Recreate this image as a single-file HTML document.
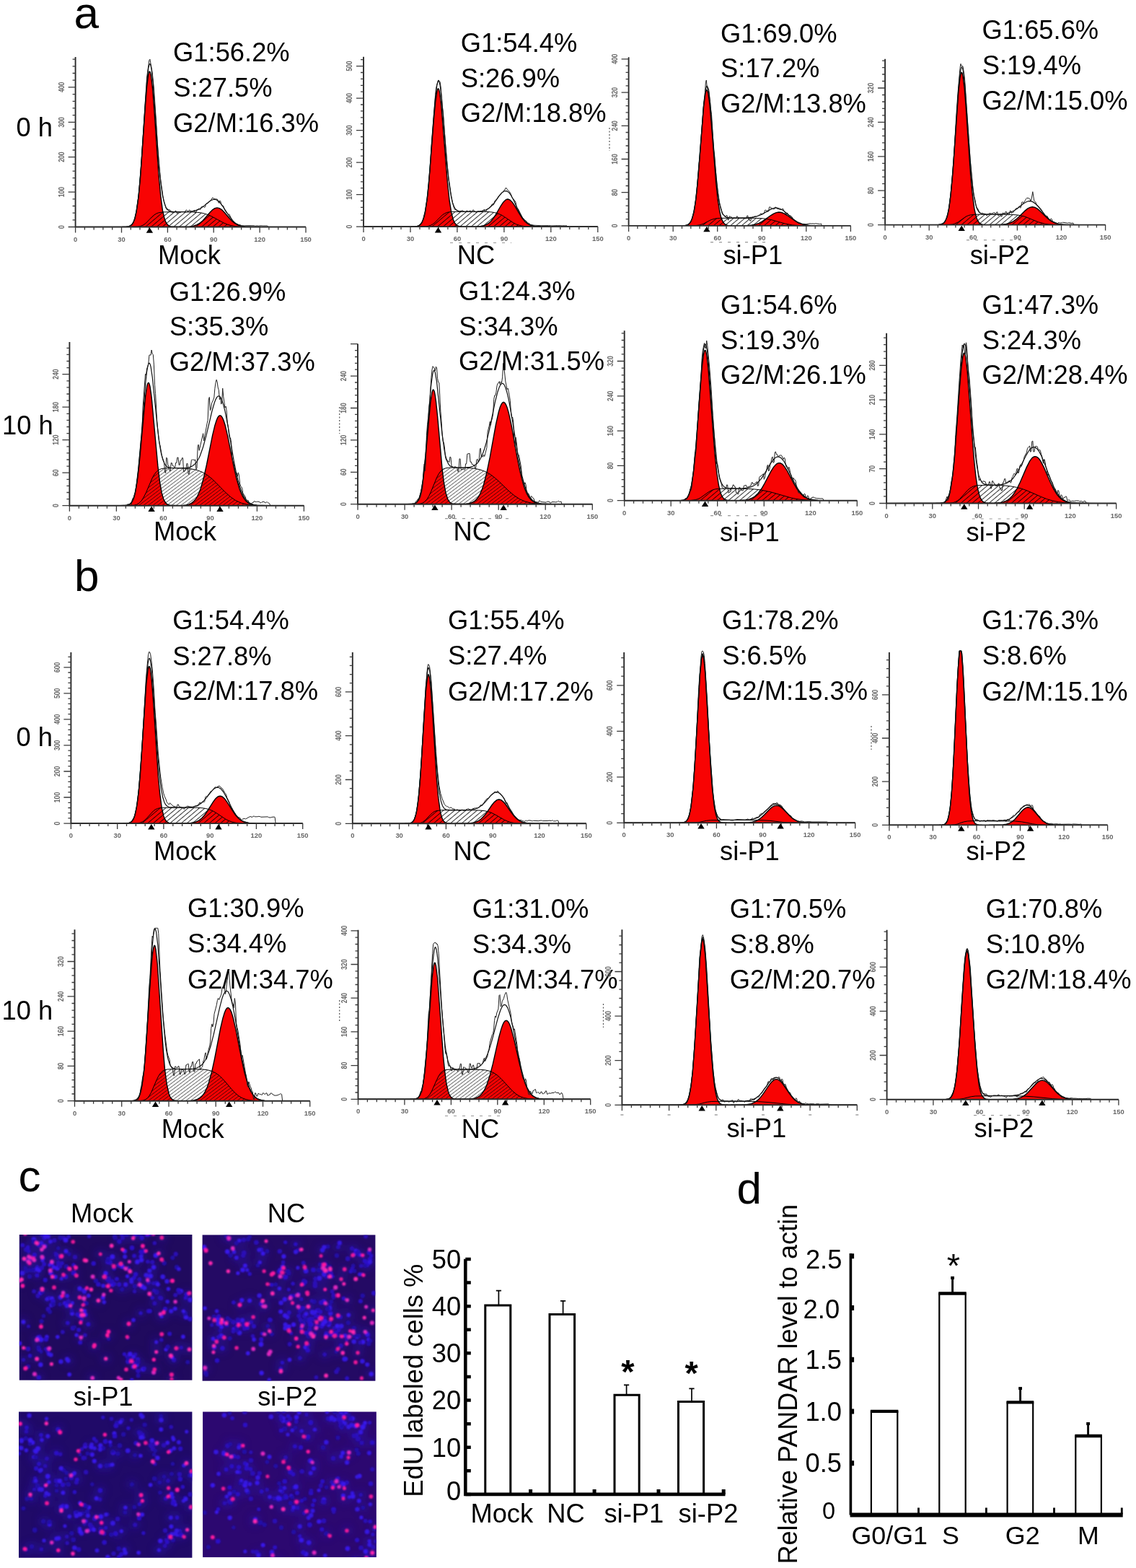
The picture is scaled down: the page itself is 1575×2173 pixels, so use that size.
<!DOCTYPE html>
<html><head><meta charset="utf-8"><title>Figure</title><style>
html,body{margin:0;padding:0;background:#fff;}
svg{display:block;}
text{font-family:"Liberation Sans", Arial, sans-serif;}
.t{font-size:36.35px;fill:#000;}
.L{font-size:62px;fill:#000;}
.tl{font-size:9.4px;fill:#666;font-weight:bold;}
.tly{font-size:8.6px;fill:#666;font-weight:bold;}
.dsh{fill:none;stroke:#999;stroke-width:1.2;stroke-dasharray:4 8;}
.dsh2{fill:none;stroke:#888;stroke-width:1.2;}
.art{fill:none;stroke:#555;stroke-width:1.2;stroke-dasharray:2 2.5;}
.n0{font-size:32.5px;fill:#000;}
.nd{font-size:35.8px;fill:#000;}
.nd2{font-size:36.1px;fill:#000;}
.ast{font-size:47px;fill:#000;}
.astb{font-size:47px;font-weight:bold;fill:#000;}
.ax{fill:none;stroke:#2a2a2a;stroke-width:1.9;}
.tk{fill:none;stroke:#3a3a3a;stroke-width:1.3;}
.pk{fill:none;stroke:#000;stroke-width:1.4;}
.sl{fill:none;stroke:#000;stroke-width:1;}
.b1{fill:#2c10c8}.b2{fill:#3414e0}.b3{fill:#2a0cb8}.b4{fill:#3818ec}.b5{fill:#240ca8}
.p1{fill:#ff14a0}.p2{fill:#ff28b0}.p3{fill:#f01498}.p4{fill:#e028c0}
.sum{fill:none;stroke:#111;stroke-width:1.2;}
.raw{fill:none;stroke:#222;stroke-width:1;}
.bar{fill:#fff;stroke:#000;stroke-width:3;}
.eb{fill:none;stroke:#000;stroke-width:1.7;}
.axb{fill:none;stroke:#000;stroke-width:4.6;}
.bard{fill:#fff;stroke:#000;stroke-width:2.2;}
.bartop{fill:none;stroke:#000;stroke-width:4.4;}
.ebd{fill:none;stroke:#000;stroke-width:2.9;}
.axd{fill:none;stroke:#000;stroke-width:3.6;}
.axdx{fill:none;stroke:#000;stroke-width:6;}
</style></head>
<body>
<svg width="1575" height="2173" viewBox="0 0 1575 2173">
<defs>
<pattern id="hA" patternUnits="userSpaceOnUse" width="8" height="5" patternTransform="rotate(-40)">
<rect width="8" height="1" fill="#000" fill-opacity="0.8"/>
</pattern>
<pattern id="hB" patternUnits="userSpaceOnUse" width="8" height="3.9" patternTransform="rotate(-37)">
<rect width="8" height="0.75" fill="#000" fill-opacity="0.75"/>
</pattern>
<filter id="blur" x="-5%" y="-5%" width="110%" height="110%"><feGaussianBlur stdDeviation="1.1"/></filter>
<filter id="haze" x="-5%" y="-5%" width="110%" height="110%"><feGaussianBlur stdDeviation="6"/></filter>
</defs>
<rect width="1575" height="2173" fill="#fff"/>
<path d="M845 177V209" class="art"/><path d="M470.7 564V601" class="art"/><path d="M1208 1006V1039" class="art"/><path d="M836.5 1391V1424" class="art"/><path d="M470.7 1386V1415" class="art"/>
<path d="M624 336.5H709" class="dsh"/><path d="M985 335.7H1066" class="dsh"/><path d="M1340 332.7H1421" class="dsh"/><path d="M617 718.7H709" class="dsh"/><path d="M985 714.7H1067.6" class="dsh"/><path d="M1347.7 719H1429" class="dsh"/><path d="M617 1546.5H700" class="dsh"/><path d="M1350 1545.7H1431.5" class="dsh"/>
<path d="M860.4 1545h4" class="dsh2"/><path d="M925.6 1545h4" class="dsh2"/><path d="M990.8 1545h4" class="dsh2"/><path d="M1056 1545h4" class="dsh2"/><path d="M1121.2 1545h4" class="dsh2"/><path d="M1186.3 1545h4" class="dsh2"/>
<clipPath id="c0"><rect x="104.6" y="76" width="321.4" height="238.5"/></clipPath>
<g clip-path="url(#c0)">
<path d="M169.5 314.5L174.9 314.4L178.1 313.9L180.7 312.9L182.9 311.2L185 307.9L186.6 303.8L189.2 292.6L191.9 273.8L194.6 245.9L201.5 145.9L203.6 119.9L205.7 103.4L206.8 99.7L207.3 99.1L207.9 99.4L208.4 100.5L209.5 105.1L211.6 123.3L213.7 150.4L220.1 243.3L222.8 271.9L225.4 291.4L228.1 303.1L229.7 307.4L231.8 310.9L234 312.8L236.6 313.9L239.8 314.3L245.7 314.5Z" fill="#f80303"/>
<path d="M240.9 314.5L255.3 314.4L262.7 314.1L268 313.2L272.8 311.6L277.1 309.2L280.8 306.1L291.4 294L294.6 290.8L297.8 288.7L301 287.9L304.2 288.6L307.4 290.6L310.6 293.8L318.1 302.5L321.8 306.4L325.5 309.4L329.8 311.8L334.6 313.3L339.9 314.1L361.2 314.5Z" fill="#f80303"/>
<path d="M177 314.5L190.3 314.2L194 313.7L197.2 312.6L199.9 311.1L202.5 309.1L210.5 300.8L213.7 298L216.4 296.2L219.6 294.9L226 293.9L240.9 293.7L266.4 293.9L273.3 294.3L278.7 294.9L284.5 296.3L289.9 298.2L295.2 300.8L310.1 308.9L315.4 311.1L320.2 312.5L326.1 313.6L333 314.2L359.1 314.5Z" fill="url(#hA)"/>
<path d="M177 314.5L190.3 314.2L194 313.7L197.2 312.6L199.9 311.1L202.5 309.1L210.5 300.8L213.7 298L216.4 296.2L219.6 294.9L226 293.9L240.9 293.7L266.4 293.9L273.3 294.3L278.7 294.9L284.5 296.3L289.9 298.2L295.2 300.8L310.1 308.9L315.4 311.1L320.2 312.5L326.1 313.6L333 314.2L359.1 314.5" class="sl"/>
<path d="M169.5 314.5L174.9 314.4L178.1 313.9L180.7 312.9L182.9 311.2L185 307.9L186.6 303.8L189.2 292.6L191.9 273.8L194.6 245.9L201.5 145.9L203.6 119.9L205.7 103.4L206.8 99.7L207.3 99.1L207.9 99.4L208.4 100.5L209.5 105.1L211.6 123.3L213.7 150.4L220.1 243.3L222.8 271.9L225.4 291.4L228.1 303.1L229.7 307.4L231.8 310.9L234 312.8L236.6 313.9L239.8 314.3L245.7 314.5" class="pk"/>
<path d="M240.9 314.5L255.3 314.4L262.7 314.1L268 313.2L272.8 311.6L277.1 309.2L280.8 306.1L291.4 294L294.6 290.8L297.8 288.7L301 287.9L304.2 288.6L307.4 290.6L310.6 293.8L318.1 302.5L321.8 306.4L325.5 309.4L329.8 311.8L334.6 313.3L339.9 314.1L361.2 314.5" class="pk"/>
<path d="M104.6 314.5L173.8 314.4L178.1 313.9L180.2 313.1L182.3 311.3L183.4 311.1L184.4 309.7L186.6 304L188.7 295.4L189.8 286.1L191.9 272.6L193 262.2L196.2 220.5L203.6 107L206.8 83.7L207.9 82.1L211.1 100.4L213.2 120.1L216.4 166.1L218.5 203.2L220.6 230.6L222.8 250.4L226 272.6L227 277.5L230.2 288.5L231.3 290.3L232.4 289.5L233.4 290.4L234.5 290.4L235.6 290.9L236.6 293.2L237.7 293.4L238.7 294.9L239.8 295L240.9 294.2L241.9 294.2L243 292.2L244.1 292.3L245.1 295.5L246.2 295.5L247.3 293.4L248.3 293.4L249.4 294.5L250.5 294.5L251.5 293.4L254.7 293.5L256.8 293.2L257.9 291.2L259 291.2L260 292.5L261.1 292.5L262.2 291.2L263.2 291.1L264.3 292.9L265.4 292.8L266.4 293.1L267.5 292.9L268.6 291.6L269.6 291.4L270.7 295.3L271.8 295L272.8 290.9L276 289.2L277.1 290.5L278.1 289.9L279.2 286.9L280.3 286.1L281.3 286.7L282.4 285.9L283.5 287.7L284.5 286.8L285.6 282.7L286.7 281.8L287.7 282L288.8 281.1L289.9 279.6L292 277.6L293 277L294.1 274.4L295.2 274L296.2 275.5L297.3 275.5L299.4 276L300.5 275.8L301.6 276.4L302.6 280.4L303.7 281.4L304.8 278L305.8 279.2L306.9 283.9L308 285.4L309 284.8L310.1 286.5L311.1 290.3L314.3 295.2L315.4 296.1L316.5 297.8L317.5 296.6L318.6 298.2L319.7 301.1L320.7 302.5L321.8 305.2L325 308.1L326.1 309.7L327.1 310.4L328.2 310.3L331.4 311.9L332.4 311.5L333.5 311.8L334.6 312.8L335.6 312.9L336.7 312.7L338.8 312.9L343.1 312.7L352.7 312.8L353.7 313.2L356.9 312.9L358 313.2L362.2 312.8L364.4 313L370.8 313L371.8 314.5L424 314.5" class="raw"/>
<path d="M104.6 314.5L175.4 314.3L178.6 313.8L181.3 312.6L183.4 310.5L185 307.8L187.1 302L189.2 292.4L190.8 282L192.4 268.4L195.6 231L201.5 141.4L203.6 113.4L205.7 94.8L206.8 90L207.3 88.8L207.9 88.5L208.4 89L208.9 90.4L210 95.5L212.1 114.2L219.6 216.8L221.7 241.4L223.3 256.1L225.4 270.8L227.6 280.6L229.7 286.6L230.8 288.6L232.4 290.7L234 292L235.6 292.8L240.9 293.6L259.5 293.5L264.8 293.1L269.1 292.4L273.9 290.9L278.1 288.7L281.9 286.1L289.3 279.9L292.5 277.8L295.7 276.5L298.4 276.5L300 276.9L302.1 278.1L305.8 281.7L309.5 286.8L318.1 300L322.9 305.9L325.5 308.4L328.2 310.4L333.5 312.8L339.4 314L347.9 314.4L424 314.5" class="sum"/>
</g>
<path d="M104.6 79V314.5H424" class="ax"/>
<path d="M104.6 314.5v8M117.4 314.5v4M130.2 314.5v4M142.9 314.5v4M155.7 314.5v4M168.5 314.5v8M181.3 314.5v4M194 314.5v4M206.8 314.5v4M219.6 314.5v4M232.4 314.5v8M245.1 314.5v4M257.9 314.5v4M270.7 314.5v4M283.5 314.5v4M296.2 314.5v8M309 314.5v4M321.8 314.5v4M334.6 314.5v4M347.3 314.5v4M360.1 314.5v8M372.9 314.5v4M385.7 314.5v4M398.4 314.5v4M411.2 314.5v4M424 314.5v8M104.6 314.5h-10M104.6 304.8h-4M104.6 295.1h-4M104.6 285.5h-4M104.6 275.8h-4M104.6 266.1h-10M104.6 256.4h-4M104.6 246.7h-4M104.6 237.1h-4M104.6 227.4h-4M104.6 217.7h-10M104.6 208h-4M104.6 198.3h-4M104.6 188.7h-4M104.6 179h-4M104.6 169.3h-10M104.6 159.6h-4M104.6 149.9h-4M104.6 140.3h-4M104.6 130.6h-4M104.6 120.9h-10M104.6 111.2h-4M104.6 101.5h-4M104.6 91.9h-4M104.6 82.2h-4" class="tk"/>
<text x="104.6" y="334.5" class="tl" text-anchor="middle">0</text>
<text x="168.5" y="334.5" class="tl" text-anchor="middle">30</text>
<text x="232.4" y="334.5" class="tl" text-anchor="middle">60</text>
<text x="296.2" y="334.5" class="tl" text-anchor="middle">90</text>
<text x="360.1" y="334.5" class="tl" text-anchor="middle">120</text>
<text x="424" y="334.5" class="tl" text-anchor="middle">150</text>
<text transform="translate(88.8 314.5) rotate(-90) scale(1 1.3)" class="tly" text-anchor="middle">0</text>
<text transform="translate(88.8 266.1) rotate(-90) scale(1 1.3)" class="tly" text-anchor="middle">100</text>
<text transform="translate(88.8 217.7) rotate(-90) scale(1 1.3)" class="tly" text-anchor="middle">200</text>
<text transform="translate(88.8 169.3) rotate(-90) scale(1 1.3)" class="tly" text-anchor="middle">300</text>
<text transform="translate(88.8 120.9) rotate(-90) scale(1 1.3)" class="tly" text-anchor="middle">400</text>
<path d="M207.4 315.3l4.7 7.5h-9.4z" fill="#000"/>
<text x="240.1" y="84.9" class="t">G1:56.2%</text>
<text x="240.2" y="133.8" class="t">S:27.5%</text>
<text x="240.1" y="182.7" class="t">G2/M:16.3%</text>
<text x="219.1" y="366.2" class="t">Mock</text>
<clipPath id="c1"><rect x="504" y="75.7" width="326.8" height="238.4"/></clipPath>
<g clip-path="url(#c1)">
<path d="M569.5 314.1L575.5 313.9L578.7 313.4L580.9 312.6L583 310.9L585.2 307.7L586.8 303.8L589.5 293.1L592.2 275.2L594.4 254.9L601.4 165.3L603.6 141.6L605.8 126.6L606.9 123.3L607.4 122.8L607.9 123L608.5 124L609.6 128.2L611.7 144.7L620.4 252.6L623.1 277.8L625.8 294.7L628.5 304.7L630.1 308.3L632.3 311.2L634.5 312.8L636.6 313.5L639.9 314L645.8 314.1Z" fill="#f80303"/>
<path d="M645.8 314.1L659.4 314L666.4 313.5L671.8 312.4L676.7 310L680.5 306.8L684.3 302.2L687.5 297.2L694.5 285L697.8 280.2L701 277L702.7 276.2L704.3 276L707 277L710.2 280.1L713.5 284.8L720.5 297L723.8 302L727.6 306.7L731.4 309.9L736.2 312.3L741.6 313.5L748.7 314L762.2 314.1Z" fill="#f80303"/>
<path d="M577.1 314.1L590.6 313.8L594.4 313.2L597.7 312L600.4 310.4L603.1 308.2L613.3 298L616.6 295.8L619.8 294.4L623.1 293.8L626.9 293.4L646.4 293.3L674.5 293.4L680.5 293.8L685.3 294.5L690.2 295.8L695.1 297.9L699.4 300.5L711.3 308.5L715.7 310.8L719.5 312.1L724.3 313.2L729.7 313.8L750.8 314.1Z" fill="url(#hA)"/>
<path d="M577.1 314.1L590.6 313.8L594.4 313.2L597.7 312L600.4 310.4L603.1 308.2L613.3 298L616.6 295.8L619.8 294.4L623.1 293.8L626.9 293.4L646.4 293.3L674.5 293.4L680.5 293.8L685.3 294.5L690.2 295.8L695.1 297.9L699.4 300.5L711.3 308.5L715.7 310.8L719.5 312.1L724.3 313.2L729.7 313.8L750.8 314.1" class="sl"/>
<path d="M569.5 314.1L574.9 314L578.2 313.6L580.9 312.6L583 310.9L585.2 307.7L586.8 303.8L589.5 293.1L592.2 275.2L594.4 254.9L601.4 165.3L603.6 141.6L605.8 126.6L606.9 123.3L607.4 122.8L607.9 123L608.5 124L609.6 128.2L611.7 144.7L620.4 252.6L623.1 277.8L625.8 294.7L628.5 304.7L630.1 308.3L632.3 311.2L634.5 312.8L636.6 313.5L639.9 314L645.8 314.1" class="pk"/>
<path d="M645.8 314.1L659.4 314L666.4 313.5L671.8 312.4L676.7 310L680.5 306.8L684.3 302.2L687.5 297.2L694.5 285L697.8 280.2L701 277L702.7 276.2L704.3 276L707 277L710.2 280.1L713.5 284.8L720.5 297L723.8 302L727.6 306.7L731.4 309.9L736.2 312.3L741.6 313.5L748.7 314L762.2 314.1" class="pk"/>
<path d="M504 314.1L574.4 314.1L578.7 313.5L580.9 312.7L583 310.1L584.1 310.2L585.2 308.6L587.4 302L588.4 300.1L589.5 295.1L590.6 285.8L592.8 271.7L596 236.3L598.2 199.5L603.6 131.6L604.7 121.5L606.9 113.4L607.9 110.9L610.1 113.6L611.2 121L612.3 136.6L613.3 148.2L614.4 155.9L617.7 202.4L622 249.3L623.1 253.7L625.3 269.2L627.4 280.9L629.6 288.6L630.7 290.6L631.8 290.6L632.8 291.6L633.9 291.5L635 292L636.1 293.6L637.2 293.8L638.3 292.4L639.3 292.5L640.4 291.7L641.5 291.8L642.6 293.1L643.7 293.1L644.7 293.6L645.8 293.6L646.9 292.1L648 292.1L649.1 293.4L650.2 293.4L651.2 292L652.3 292L653.4 293.4L654.5 293.4L655.6 291L656.7 291L657.7 293.3L658.8 293.3L659.9 294.3L661 294.2L662.1 292.7L663.2 292.7L664.2 293.5L667.5 293.5L668.6 292.3L669.6 292.1L670.7 290.7L671.8 290.4L672.9 293.7L674 293.3L675.1 290.1L677.2 288.9L680.5 286.3L681.6 283.9L682.6 282.7L683.7 284.3L684.8 283L685.9 278.8L687 277.3L688.1 277L691.3 271.9L695.6 267.1L697.8 265.6L698.9 263.5L700 263.2L701 260.5L702.1 260.6L703.2 262.7L704.3 263.4L706.5 265.9L708.6 269.5L709.7 272.9L710.8 274.9L711.9 275.6L713 277.9L714 278.3L715.1 280.7L716.2 287.6L717.3 290L718.4 289.6L723.8 300.6L725.9 303.3L728.1 305.4L729.2 305.8L731.4 308.6L734.6 310.3L735.7 311.3L740 312.2L750.8 312.7L760.6 312.6L764.9 312.9L773.6 312.6L780.1 312.9L781.2 312.6L783.3 312.9L785.5 312.6L786.6 314.1L828.8 314.1" class="raw"/>
<path d="M504 314.1L575.5 313.9L578.7 313.4L581.4 312.3L583.6 310.3L585.2 307.7L587.4 302L589 295.5L591.2 283L592.8 270L596 234.9L601.4 160.8L603.6 135.3L605.8 118.1L606.9 113.6L607.4 112.5L607.9 112.1L608.5 112.6L609 113.7L610.1 118.2L612.3 135L619.8 226.9L623.1 257.4L625.3 271.4L627.4 280.7L629.6 286.5L630.7 288.5L632.3 290.5L633.9 291.7L636.1 292.6L642.6 293.3L663.2 293.1L668.6 292.4L672.9 291.3L677.8 288.7L682.1 284.8L685.9 280.3L692.9 270.5L696.2 266.8L698.9 265L701.6 264.6L703.2 265.1L704.8 266.2L706.5 267.9L708.6 271L711.9 277L720.5 295.4L725.4 303.5L727.6 306.2L730.3 308.9L733 310.8L735.7 312.1L741.6 313.5L749.8 314L828.8 314.1" class="sum"/>
</g>
<path d="M504 78.7V314.1H828.8" class="ax"/>
<path d="M504 314.1v8M517 314.1v4M530 314.1v4M543 314.1v4M556 314.1v4M569 314.1v8M582 314.1v4M594.9 314.1v4M607.9 314.1v4M620.9 314.1v4M633.9 314.1v8M646.9 314.1v4M659.9 314.1v4M672.9 314.1v4M685.9 314.1v4M698.9 314.1v8M711.9 314.1v4M724.9 314.1v4M737.9 314.1v4M750.8 314.1v4M763.8 314.1v8M776.8 314.1v4M789.8 314.1v4M802.8 314.1v4M815.8 314.1v4M828.8 314.1v8M504 314.1h-10M504 305.2h-4M504 296.3h-4M504 287.4h-4M504 278.5h-4M504 269.6h-10M504 260.7h-4M504 251.8h-4M504 242.9h-4M504 234h-4M504 225.1h-10M504 216.2h-4M504 207.3h-4M504 198.4h-4M504 189.5h-4M504 180.6h-10M504 171.7h-4M504 162.8h-4M504 153.9h-4M504 145h-4M504 136.1h-10M504 127.2h-4M504 118.3h-4M504 109.4h-4M504 100.5h-4M504 91.6h-10M504 82.7h-4" class="tk"/>
<text x="504" y="334.1" class="tl" text-anchor="middle">0</text>
<text x="569" y="334.1" class="tl" text-anchor="middle">30</text>
<text x="633.9" y="334.1" class="tl" text-anchor="middle">60</text>
<text x="698.9" y="334.1" class="tl" text-anchor="middle">90</text>
<text x="763.8" y="334.1" class="tl" text-anchor="middle">120</text>
<text x="828.8" y="334.1" class="tl" text-anchor="middle">150</text>
<text transform="translate(488.2 314.1) rotate(-90) scale(1 1.3)" class="tly" text-anchor="middle">0</text>
<text transform="translate(488.2 269.6) rotate(-90) scale(1 1.3)" class="tly" text-anchor="middle">100</text>
<text transform="translate(488.2 225.1) rotate(-90) scale(1 1.3)" class="tly" text-anchor="middle">200</text>
<text transform="translate(488.2 180.6) rotate(-90) scale(1 1.3)" class="tly" text-anchor="middle">300</text>
<text transform="translate(488.2 136.1) rotate(-90) scale(1 1.3)" class="tly" text-anchor="middle">400</text>
<text transform="translate(488.2 91.6) rotate(-90) scale(1 1.3)" class="tly" text-anchor="middle">500</text>
<path d="M607.5 314.9l4.7 7.5h-9.4z" fill="#000"/>
<text x="638.7" y="71.5" class="t">G1:54.4%</text>
<text x="638.8" y="121.3" class="t">S:26.9%</text>
<text x="638.7" y="169.3" class="t">G2/M:18.8%</text>
<text x="633.8" y="365.9" class="t">NC</text>
<clipPath id="c2"><rect x="871.6" y="76.2" width="309.8" height="236.7"/></clipPath>
<g clip-path="url(#c2)">
<path d="M942.4 312.9L948 312.8L951.1 312.4L953.7 311.5L955.7 309.9L957.8 307L959.3 303.6L961.9 294.1L964.5 278.4L967 255.1L975.7 146.8L977.8 130.7L978.8 126.3L979.8 124.6L980.4 124.9L980.9 125.8L981.9 129.6L983.9 144.8L986 167.6L992.7 252.9L995.2 276.8L997.8 293.1L999.3 299.7L1000.9 304.4L1002.4 307.6L1004.5 310.2L1006.5 311.6L1009.1 312.4L1017.8 312.9Z" fill="#f80303"/>
<path d="M1011.1 312.9L1035.8 312.6L1042.4 312L1047.6 310.9L1052.2 309.3L1056.8 306.9L1069.1 298.3L1072.7 296.1L1076.3 294.6L1079.9 294L1083.5 294.5L1087.1 295.9L1091.2 298.3L1103.5 307L1108.1 309.3L1112.7 310.9L1117.8 312L1124.5 312.6L1149.1 312.9Z" fill="#f80303"/>
<path d="M950.1 312.9L963.4 312.7L970.1 311.9L975.2 310.1L986 304.5L991.6 302.9L998.8 302.3L1015.8 302.2L1046 302.3L1058.3 302.8L1069.1 304.5L1088.6 310L1098.3 311.9L1110.7 312.8L1135.3 312.9Z" fill="url(#hA)"/>
<path d="M950.1 312.9L963.4 312.7L970.1 311.9L975.2 310.1L986 304.5L992.2 302.8L998.8 302.3L1016.3 302.2L1046 302.3L1058.3 302.8L1069.1 304.5L1088.6 310L1098.3 311.9L1110.7 312.8L1135.3 312.9" class="sl"/>
<path d="M942.4 312.9L948 312.8L951.1 312.4L953.7 311.5L955.7 309.9L957.8 307L959.3 303.6L961.9 294.1L964.5 278.4L967 255.1L975.7 146.8L977.8 130.7L978.8 126.3L979.8 124.6L980.4 124.9L980.9 125.8L981.9 129.6L983.9 144.8L986 167.6L992.7 252.9L995.2 276.8L997.8 293.1L999.3 299.7L1000.9 304.4L1002.4 307.6L1004.5 310.2L1006.5 311.6L1009.1 312.4L1017.8 312.9" class="pk"/>
<path d="M1011.1 312.9L1035.8 312.6L1042.4 312L1047.6 310.9L1052.2 309.3L1056.8 306.9L1069.1 298.3L1072.7 296.1L1076.3 294.6L1079.9 294L1083.5 294.5L1087.1 295.9L1091.2 298.3L1103.5 307L1108.1 309.3L1112.7 310.9L1117.8 312L1124.5 312.6L1149.1 312.9" class="pk"/>
<path d="M871.6 312.9L948.6 312.7L952.7 311.8L954.7 310.3L955.7 310L957.8 307.4L959.8 302.6L961.9 295.1L962.9 289.5L966 265.4L969.1 226.6L970.1 219.2L975.2 148.4L977.3 132L978.3 114.8L979.3 111L980.4 122.1L981.4 124L982.4 122.9L983.4 130.1L985.5 151.3L986.5 158.3L989.6 208.1L990.6 214.6L993.7 253.3L996.8 277.3L997.8 283L999.9 289.4L1000.9 295L1001.9 297.3L1002.9 297.5L1004 298.8L1006 299.9L1007 298.5L1008.1 298.8L1009.1 304.7L1010.1 304.9L1011.1 299.8L1012.2 299.9L1013.2 300.7L1014.2 300.7L1015.2 302.6L1016.3 302.6L1017.3 301.6L1018.3 301.6L1019.3 302.6L1020.4 302.6L1021.4 299.8L1022.4 299.8L1023.4 301.7L1024.5 301.7L1025.5 302.3L1032.7 302.1L1033.7 303L1034.7 302.9L1035.8 299L1036.8 298.9L1037.8 304.1L1038.8 304L1039.9 306.2L1040.9 306.1L1041.9 301.3L1045 300.8L1046 299.9L1047 299.7L1048.1 300.2L1051.2 299.1L1052.2 298.1L1053.2 297.6L1054.2 296.3L1055.3 295.8L1056.3 297.3L1057.3 296.7L1059.4 295.5L1060.4 291.5L1061.4 290.9L1062.4 292.3L1063.5 291.7L1064.5 293.4L1065.5 292.8L1066.5 287.2L1067.6 286.6L1068.6 288.5L1069.6 288L1070.6 289.6L1071.7 289.3L1072.7 289.9L1073.7 289.7L1074.7 287.2L1075.8 287.1L1076.8 288.9L1079.9 289.8L1081.9 290.9L1083 290.2L1084 290.8L1085 289L1086 289.7L1087.1 292.8L1088.1 293.6L1089.1 296L1090.1 296.9L1091.2 294.8L1094.2 298.5L1095.3 298.4L1098.3 300.8L1099.4 303.4L1104.5 307L1105.5 308.6L1106.6 309.1L1107.6 308.3L1108.6 308.8L1109.6 308.9L1111.7 310.2L1117.8 310.6L1123 309.8L1125 310.1L1127.1 309.9L1129.1 310.2L1130.2 309.8L1131.2 309.8L1136.3 310.5L1137.3 310.5L1138.4 309.9L1139.4 312.9L1179.4 312.9" class="raw"/>
<path d="M871.6 312.9L948 312.8L951.6 312.2L954.2 311.2L956.2 309.3L957.8 307L959.8 302L961.9 294L963.4 285.3L965 274.1L968.6 236.9L975.7 143.7L977.3 130L978.3 123.8L979.3 120.1L979.8 119.4L980.4 119.3L981.4 121.2L982.4 125.8L984.5 142.1L991.6 231.2L995.2 266.3L997.3 279.8L999.3 289.1L1001.9 296L1004.5 299.5L1007.5 301.4L1012.7 302.1L1032.2 302.1L1042.9 301.2L1048.6 300L1053.7 298.2L1058.3 295.9L1067.1 290.9L1070.6 289.2L1074.2 288.2L1077.3 288.1L1081.4 289.2L1085.5 291.4L1089.6 294.7L1099.4 303.4L1104.5 307.1L1109.1 309.5L1114.2 311.2L1120.4 312.3L1129.1 312.8L1179.4 312.9" class="sum"/>
</g>
<path d="M871.6 79.2V312.9H1179.4" class="ax"/>
<path d="M871.6 312.9v8M883.9 312.9v4M896.2 312.9v4M908.5 312.9v4M920.8 312.9v4M933.2 312.9v8M945.5 312.9v4M957.8 312.9v4M970.1 312.9v4M982.4 312.9v4M994.7 312.9v8M1007 312.9v4M1019.3 312.9v4M1031.7 312.9v4M1044 312.9v4M1056.3 312.9v8M1068.6 312.9v4M1080.9 312.9v4M1093.2 312.9v4M1105.5 312.9v4M1117.8 312.9v8M1130.2 312.9v4M1142.5 312.9v4M1154.8 312.9v4M1167.1 312.9v4M1179.4 312.9v8M871.6 312.9h-10M871.6 303.7h-4M871.6 294.4h-4M871.6 285.2h-4M871.6 275.9h-4M871.6 266.7h-10M871.6 257.5h-4M871.6 248.2h-4M871.6 239h-4M871.6 229.7h-4M871.6 220.5h-10M871.6 211.3h-4M871.6 202h-4M871.6 192.8h-4M871.6 183.5h-4M871.6 174.3h-10M871.6 165.1h-4M871.6 155.8h-4M871.6 146.6h-4M871.6 137.3h-4M871.6 128.1h-10M871.6 118.9h-4M871.6 109.6h-4M871.6 100.4h-4M871.6 91.1h-4M871.6 81.9h-10" class="tk"/>
<text x="871.6" y="332.9" class="tl" text-anchor="middle">0</text>
<text x="933.2" y="332.9" class="tl" text-anchor="middle">30</text>
<text x="994.7" y="332.9" class="tl" text-anchor="middle">60</text>
<text x="1056.3" y="332.9" class="tl" text-anchor="middle">90</text>
<text x="1117.8" y="332.9" class="tl" text-anchor="middle">120</text>
<text x="1179.4" y="332.9" class="tl" text-anchor="middle">150</text>
<text transform="translate(855.8 312.9) rotate(-90) scale(1 1.3)" class="tly" text-anchor="middle">0</text>
<text transform="translate(855.8 266.7) rotate(-90) scale(1 1.3)" class="tly" text-anchor="middle">80</text>
<text transform="translate(855.8 220.5) rotate(-90) scale(1 1.3)" class="tly" text-anchor="middle">160</text>
<text transform="translate(855.8 174.3) rotate(-90) scale(1 1.3)" class="tly" text-anchor="middle">240</text>
<text transform="translate(855.8 128.1) rotate(-90) scale(1 1.3)" class="tly" text-anchor="middle">320</text>
<text transform="translate(855.8 81.9) rotate(-90) scale(1 1.3)" class="tly" text-anchor="middle">400</text>
<path d="M979.9 313.7l4.7 7.5h-9.4z" fill="#000"/>
<text x="999" y="58.9" class="t">G1:69.0%</text>
<text x="999.1" y="107.2" class="t">S:17.2%</text>
<text x="999" y="156.2" class="t">G2/M:13.8%</text>
<text x="1002.4" y="365.7" class="t">si-P1</text>
<clipPath id="c3"><rect x="1227.1" y="78.8" width="307.5" height="232.8"/></clipPath>
<g clip-path="url(#c3)">
<path d="M1295.8 311.6L1301.4 311.4L1304.5 311L1307 310L1309.1 308.4L1311.1 305.2L1312.6 301.4L1314.2 295.9L1315.7 288.2L1318.2 269.2L1320.8 241.7L1328.9 126.3L1331 107.8L1332 102.6L1333 100.4L1333.5 100.5L1334 101.3L1335 105.3L1337.1 121.8L1339.1 147.1L1345.7 243L1348.3 270.2L1350.8 288.8L1352.4 296.3L1353.9 301.7L1355.4 305.4L1357.4 308.5L1359.5 310.1L1362 311.1L1365.1 311.5L1370.7 311.6Z" fill="#f80303"/>
<path d="M1365.6 311.6L1389 311.2L1395.1 310.4L1400.2 309L1404.8 306.8L1408.9 303.9L1412.9 300.3L1421.1 292.1L1424.7 289.2L1428.2 287.3L1431.3 286.7L1434.8 287.4L1438.4 289.4L1442 292.4L1449.6 300.1L1453.7 303.8L1457.8 306.7L1462.3 308.9L1467.4 310.4L1473.5 311.2L1497 311.6Z" fill="#f80303"/>
<path d="M1303.5 311.6L1316.7 311.4L1320.3 311L1323.3 310.2L1328.4 307.8L1339.1 300.2L1342.2 298.8L1345.2 297.9L1351.8 297.2L1369.2 297.1L1398.7 297.2L1410.4 297.9L1416 298.9L1421.1 300.2L1439.4 307.7L1448.6 310.2L1454.2 311L1460.3 311.4L1483.7 311.6Z" fill="url(#hA)"/>
<path d="M1303.5 311.6L1316.7 311.4L1320.3 311L1323.3 310.2L1328.4 307.8L1339.1 300.2L1342.2 298.8L1345.2 297.9L1352.4 297.2L1369.7 297.1L1398.7 297.2L1410.4 297.9L1416 298.9L1421.1 300.2L1439.4 307.7L1448.6 310.2L1454.2 311L1460.3 311.4L1483.7 311.6" class="sl"/>
<path d="M1295.8 311.6L1301.4 311.4L1304.5 311L1307 310L1309.1 308.4L1311.1 305.2L1312.6 301.4L1314.2 295.9L1315.7 288.2L1318.2 269.2L1320.8 241.7L1328.9 126.3L1331 107.8L1332 102.6L1333 100.4L1333.5 100.5L1334 101.3L1335 105.3L1337.1 121.8L1339.1 147.1L1345.7 243L1348.3 270.2L1350.8 288.8L1352.4 296.3L1353.9 301.7L1355.4 305.4L1357.4 308.5L1359.5 310.1L1362 311.1L1365.1 311.5L1370.7 311.6" class="pk"/>
<path d="M1365.6 311.6L1389 311.2L1395.1 310.4L1400.2 309L1404.8 306.8L1408.9 303.9L1412.9 300.3L1421.1 292.1L1424.7 289.2L1428.2 287.3L1431.3 286.7L1434.8 287.4L1438.4 289.4L1442 292.4L1449.6 300.1L1453.7 303.8L1457.8 306.7L1462.3 308.9L1467.4 310.4L1473.5 311.2L1497 311.6" class="pk"/>
<path d="M1227.1 311.6L1302.5 311.4L1303.5 311.3L1305.5 310.4L1306.5 310.7L1308.6 309.3L1309.6 308.3L1312.6 302.3L1313.7 298.8L1315.7 288.5L1317.7 271.9L1319.8 250.7L1322.8 211.6L1325.9 159.1L1327.9 130.7L1331 94.5L1332 88.4L1333 91.6L1335 91.9L1337.1 105.8L1338.1 117.2L1345.2 222.3L1347.3 246.2L1349.3 265.2L1350.3 272.3L1351.3 274.3L1353.4 286L1354.4 289L1355.4 288.8L1357.4 293.1L1358.5 294L1359.5 295.6L1360.5 296.1L1361.5 295.2L1362.5 295.4L1363.6 296.1L1366.6 296.5L1367.6 298.7L1368.6 298.7L1369.7 296.7L1370.7 296.7L1371.7 295.5L1374.8 296.1L1375.8 295.4L1376.8 295.4L1377.8 294.6L1378.8 294.6L1379.8 296.2L1380.9 296.1L1381.9 293.9L1382.9 293.9L1383.9 298.8L1384.9 298.8L1386 296.9L1387 296.9L1388 300.1L1389 300L1390 295.2L1391.1 295.1L1392.1 296L1393.1 295.8L1394.1 293.4L1395.1 293.2L1396.1 296L1397.2 295.7L1398.2 297.9L1399.2 297.6L1400.2 292.4L1401.2 292L1402.3 295.4L1405.3 293.8L1406.3 291.6L1407.3 290.9L1408.4 289L1409.4 288.3L1410.4 289.3L1411.4 288.5L1412.4 286.6L1413.5 285.8L1414.5 288.2L1415.5 287.3L1416.5 280.6L1417.5 279.7L1418.5 281.6L1421.6 277.5L1422.6 275.4L1423.6 274.4L1426.7 274.8L1427.7 275.4L1428.7 278.1L1429.7 277.8L1431.8 265.7L1433.8 278.4L1435.9 280.2L1436.9 283.1L1443 289.4L1447.1 295.9L1450.1 299.9L1451.1 298.8L1452.2 299.9L1453.2 302.1L1456.2 305.1L1457.2 302.8L1458.3 303.8L1459.3 306.6L1460.3 307.2L1463.4 308.5L1464.4 308.7L1465.4 309.4L1466.4 309.4L1467.4 308.4L1468.4 308.4L1469.5 309L1472.5 308.7L1473.5 308.2L1479.6 309.1L1480.7 309.1L1481.7 308.7L1485.8 309.4L1487.8 309L1488.8 311.6L1532.6 311.6" class="raw"/>
<path d="M1227.1 311.6L1301.4 311.4L1305 310.9L1307.5 309.7L1309.6 307.7L1311.1 305.2L1313.1 299.8L1315.2 290.9L1316.7 281.4L1318.2 268.9L1321.8 227.5L1328.9 122.2L1330.5 106.3L1331.5 98.9L1332.5 94.4L1333 93.3L1333.5 93L1334.5 94.7L1335.6 99.4L1337.6 117L1345.2 222.9L1348.8 260.3L1350.8 274.4L1352.9 283.9L1354.9 289.9L1357.4 294L1359 295.3L1361 296.3L1366.1 297L1386 296.9L1391.6 296.5L1396.1 295.8L1401.2 294.2L1406.3 291.7L1410.4 289L1418.5 282.5L1422.1 280.2L1425.7 278.8L1428.7 278.7L1432.3 279.9L1436.4 283L1439.9 286.9L1449.6 298.9L1454.7 304L1459.3 307.3L1464.4 309.5L1470.5 310.9L1478.6 311.5L1532.6 311.6" class="sum"/>
</g>
<path d="M1227.1 81.8V311.6H1532.6" class="ax"/>
<path d="M1227.1 311.6v8M1239.3 311.6v4M1251.5 311.6v4M1263.8 311.6v4M1276 311.6v4M1288.2 311.6v8M1300.4 311.6v4M1312.6 311.6v4M1324.9 311.6v4M1337.1 311.6v4M1349.3 311.6v8M1361.5 311.6v4M1373.7 311.6v4M1386 311.6v4M1398.2 311.6v4M1410.4 311.6v8M1422.6 311.6v4M1434.8 311.6v4M1447.1 311.6v4M1459.3 311.6v4M1471.5 311.6v8M1483.7 311.6v4M1495.9 311.6v4M1508.2 311.6v4M1520.4 311.6v4M1532.6 311.6v8M1227.1 311.6h-10M1227.1 302.1h-4M1227.1 292.6h-4M1227.1 283.2h-4M1227.1 273.7h-4M1227.1 264.2h-10M1227.1 254.7h-4M1227.1 245.2h-4M1227.1 235.8h-4M1227.1 226.3h-4M1227.1 216.8h-10M1227.1 207.3h-4M1227.1 197.8h-4M1227.1 188.4h-4M1227.1 178.9h-4M1227.1 169.4h-10M1227.1 159.9h-4M1227.1 150.4h-4M1227.1 141h-4M1227.1 131.5h-4M1227.1 122h-10M1227.1 112.5h-4M1227.1 103h-4M1227.1 93.6h-4M1227.1 84.1h-4" class="tk"/>
<text x="1227.1" y="331.6" class="tl" text-anchor="middle">0</text>
<text x="1288.2" y="331.6" class="tl" text-anchor="middle">30</text>
<text x="1349.3" y="331.6" class="tl" text-anchor="middle">60</text>
<text x="1410.4" y="331.6" class="tl" text-anchor="middle">90</text>
<text x="1471.5" y="331.6" class="tl" text-anchor="middle">120</text>
<text x="1532.6" y="331.6" class="tl" text-anchor="middle">150</text>
<text transform="translate(1211.3 311.6) rotate(-90) scale(1 1.3)" class="tly" text-anchor="middle">0</text>
<text transform="translate(1211.3 264.2) rotate(-90) scale(1 1.3)" class="tly" text-anchor="middle">80</text>
<text transform="translate(1211.3 216.8) rotate(-90) scale(1 1.3)" class="tly" text-anchor="middle">160</text>
<text transform="translate(1211.3 169.4) rotate(-90) scale(1 1.3)" class="tly" text-anchor="middle">240</text>
<text transform="translate(1211.3 122) rotate(-90) scale(1 1.3)" class="tly" text-anchor="middle">320</text>
<path d="M1333.2 312.4l4.7 7.5h-9.4z" fill="#000"/>
<text x="1361.6" y="53.8" class="t">G1:65.6%</text>
<text x="1361.7" y="102.9" class="t">S:19.4%</text>
<text x="1361.6" y="152.4" class="t">G2/M:15.0%</text>
<text x="1344.7" y="365.7" class="t">si-P2</text>
<clipPath id="c4"><rect x="96.4" y="471" width="327" height="229.7"/></clipPath>
<g clip-path="url(#c4)">
<path d="M166.8 700.7L176 700.2L178.7 699.4L180.9 698L183.1 695.3L184.7 692L187.4 682.9L190.1 667.7L192.8 645.4L201.5 550.4L203.6 535.6L204.7 531.7L205.3 530.7L205.8 530.4L206.4 530.7L206.9 531.7L208 535.6L210.1 550.4L218.8 645.4L221.5 667.7L224.2 682.9L226.9 692L228.6 695.3L230.7 698L232.9 699.4L235.6 700.2L244.8 700.7Z" fill="#f80303"/>
<path d="M238.9 700.7L254 700.4L258.4 699.9L262.1 698.9L265.4 697.4L268.6 694.8L271.4 691.6L273.5 688L276.2 682.2L278.4 676.4L282.7 661L286.5 644L294.6 603.3L297.9 589.6L300.1 582.7L301.7 578.9L303.3 576.6L304.9 575.7L306.6 576.4L308.2 578.5L309.8 582.1L312 588.8L315.8 604.8L323.9 645.6L327.7 662.3L332 677.3L334.2 683L336.4 687.6L338.5 691.2L341.2 694.6L344.5 697.2L347.7 698.8L351.5 699.8L355.9 700.4L371 700.7Z" fill="#f80303"/>
<path d="M171.7 700.7L180.9 700.6L185.8 700.2L189.6 699.2L192.8 697.3L196.1 694L199.3 689L202.6 682.4L211.2 662.4L213.9 657.6L216.6 654.1L219.9 651.3L223.7 649.6L228.6 648.9L237.2 648.7L254 648.9L264.9 649.8L273.5 651.6L281.1 654.6L287.1 658.2L293.6 663.3L299.5 669L312.5 682.3L319.6 688.6L326.6 693.5L334.2 697L341.8 699L351 700.2L362.4 700.6L384.6 700.7Z" fill="url(#hB)"/>
<path d="M171.7 700.7L180.9 700.6L185.8 700.2L189.6 699.2L192.8 697.3L196.1 694L199.3 689L202.6 682.4L211.2 662.4L213.9 657.6L216.6 654.1L219.9 651.3L223.7 649.6L228.6 648.9L237.2 648.7L254 648.9L264.9 649.8L273.5 651.6L281.1 654.6L287.1 658.2L293.6 663.3L299.5 669L312.5 682.3L319.6 688.6L326.6 693.5L334.2 697L341.8 699L351 700.2L362.4 700.6L384.6 700.7" class="sl"/>
<path d="M166.8 700.7L176 700.2L178.7 699.4L180.9 698L183.1 695.3L184.7 692L187.4 682.9L190.1 667.7L192.8 645.4L201.5 550.4L203.6 535.6L204.7 531.7L205.3 530.7L205.8 530.4L206.4 530.7L206.9 531.7L208 535.6L210.1 550.4L218.8 645.4L221.5 667.7L224.2 682.9L226.9 692L228.6 695.3L230.7 698L232.9 699.4L235.6 700.2L244.8 700.7" class="pk"/>
<path d="M238.9 700.7L254 700.4L258.4 699.9L262.1 698.9L265.4 697.4L268.6 694.8L271.4 691.6L273.5 688L276.2 682.2L278.4 676.4L282.7 661L286.5 644L294.6 603.3L297.9 589.6L300.1 582.7L301.7 578.9L303.3 576.6L304.9 575.7L306.6 576.4L308.2 578.5L309.8 582.1L312 588.8L315.8 604.8L323.9 645.6L327.7 662.3L332 677.3L334.2 683L336.4 687.6L338.5 691.2L341.2 694.6L344.5 697.2L347.7 698.8L351.5 699.8L355.9 700.4L371 700.7" class="pk"/>
<path d="M96.4 700.7L171.2 700.7L173.3 700.6L175.5 700.1L177.7 698.3L178.7 700.1L179.8 699.8L180.9 700.7L182 700.7L183.1 693.3L184.2 690.6L185.2 692.1L186.3 688.7L188.5 678L189.6 666.7L191.7 650.3L195 613.7L196.1 604.7L197.2 590.2L198.2 562.3L201.5 518.4L202.6 519.8L203.6 510.8L204.7 508.4L205.8 504.4L206.9 492.2L208 491.9L209.1 492.1L210.1 485L211.2 490.1L212.3 491.5L213.4 505.1L214.5 533.2L215.6 545.7L217.7 584.9L219.9 606.2L221 614.4L222.1 617.8L224.2 630.5L225.3 634.6L227.5 640.3L228.6 654.3L229.7 655.7L230.7 634.2L231.8 635.1L232.9 645.2L234 645.6L235.1 652.4L236.2 652.6L237.2 641.5L238.3 641.6L239.4 645.7L240.5 645.7L241.6 647.5L242.7 647.5L243.7 641.3L244.8 641.3L245.9 634L247 634L248.1 644.3L249.2 644.3L250.2 638.1L251.3 638.1L252.4 634.6L253.5 634.6L254.6 653.7L255.7 653.7L256.7 650.6L257.8 650.5L258.9 642.5L260 642.4L261.1 657.2L262.1 657L263.2 647.9L264.3 647.5L265.4 637.5L266.5 636.8L267.6 637.6L268.6 636.6L269.7 638.3L270.8 636.9L271.9 650.7L273 648.7L274.1 619.2L275.1 616.1L276.2 624.3L281.6 600.7L282.7 611L287.1 586.8L288.1 582.4L289.2 554.1L290.3 550.4L291.4 568.8L292.5 566L293.6 558.7L295.7 554.1L296.8 550.8L297.9 538.3L299 530.3L300.1 526.2L301.1 528.9L302.2 536.9L303.3 540.8L304.4 553.7L305.5 550.3L306.6 560.1L307.6 558.4L308.7 538.1L309.8 549.9L312 564.9L313.1 563L314.1 568.8L315.2 584.9L316.3 591.2L317.4 601.2L318.5 607.7L319.6 607L320.6 613.6L321.7 633.3L322.8 639.4L323.9 642L327.1 658.2L328.2 655.6L329.3 660.3L330.4 654.9L331.5 659.2L332.6 670.1L333.6 673.5L334.7 674.7L335.8 677.2L336.9 683.7L340.1 688.3L341.2 692.4L342.3 693.2L343.4 693.3L344.5 693.8L345.6 700.7L346.6 700.7L347.7 697.4L348.8 697.7L349.9 696.4L351 696.7L352.1 694.7L355.3 695.5L356.4 695.2L359.6 695.2L360.7 696.9L361.8 696.9L362.9 695.8L364 695.8L365.1 695.1L366.1 695.1L367.2 696.8L368.3 696.8L369.4 695.9L370.5 695.9L371.6 696.9L372.6 696.9L373.7 698.1L374.8 700.7L421.4 700.7" class="raw"/>
<path d="M96.4 700.7L173.3 700.5L176.6 700.1L179.3 699.1L181.4 697.3L183.1 695.1L185.2 690.1L187.4 682.1L189 673.3L190.7 661.9L194.4 623.9L202 528.8L203.6 514.8L204.7 508.3L205.8 504.4L206.4 503.4L206.9 503.1L207.4 503.4L208 504.4L209.1 508.3L211.2 522.3L218.3 591.9L220.4 610L222.1 620.8L223.7 629.3L225.9 637.4L228 642.5L230.7 646L233.4 647.7L237.8 648.5L250.8 648.7L258.9 648.3L263.2 647.4L266.5 646L269.7 643.6L272.4 640.5L275.1 636.2L277.3 631.7L281.6 619.5L286 603.4L294.1 569L297.4 557.8L299 553.6L300.6 550.7L302.2 549L303.9 548.9L305.5 550.2L307.6 554.4L309.8 561L312 569.9L315.8 589.5L324.4 639.6L327.1 653.2L329.9 664.9L332.6 674.5L335.3 682.1L338 687.9L340.7 692.1L343.9 695.6L347.2 697.7L351.5 699.3L356.4 700.2L369.4 700.7L421.4 700.7" class="sum"/>
</g>
<path d="M96.4 474V700.7H421.4" class="ax"/>
<path d="M96.4 700.7v8M109.4 700.7v4M122.4 700.7v4M135.4 700.7v4M148.4 700.7v4M161.4 700.7v8M174.4 700.7v4M187.4 700.7v4M200.4 700.7v4M213.4 700.7v4M226.4 700.7v8M239.4 700.7v4M252.4 700.7v4M265.4 700.7v4M278.4 700.7v4M291.4 700.7v8M304.4 700.7v4M317.4 700.7v4M330.4 700.7v4M343.4 700.7v4M356.4 700.7v8M369.4 700.7v4M382.4 700.7v4M395.4 700.7v4M408.4 700.7v4M421.4 700.7v8M96.4 700.7h-10M96.4 691.6h-4M96.4 682.5h-4M96.4 673.4h-4M96.4 664.3h-4M96.4 655.2h-10M96.4 646.1h-4M96.4 637h-4M96.4 627.9h-4M96.4 618.8h-4M96.4 609.7h-10M96.4 600.6h-4M96.4 591.5h-4M96.4 582.4h-4M96.4 573.3h-4M96.4 564.2h-10M96.4 555.1h-4M96.4 546h-4M96.4 536.9h-4M96.4 527.8h-4M96.4 518.7h-10M96.4 509.6h-4M96.4 500.5h-4M96.4 491.4h-4M96.4 482.3h-4" class="tk"/>
<text x="96.4" y="720.7" class="tl" text-anchor="middle">0</text>
<text x="161.4" y="720.7" class="tl" text-anchor="middle">30</text>
<text x="226.4" y="720.7" class="tl" text-anchor="middle">60</text>
<text x="291.4" y="720.7" class="tl" text-anchor="middle">90</text>
<text x="356.4" y="720.7" class="tl" text-anchor="middle">120</text>
<text x="421.4" y="720.7" class="tl" text-anchor="middle">150</text>
<text transform="translate(80.6 700.7) rotate(-90) scale(1 1.3)" class="tly" text-anchor="middle">0</text>
<text transform="translate(80.6 655.2) rotate(-90) scale(1 1.3)" class="tly" text-anchor="middle">60</text>
<text transform="translate(80.6 609.7) rotate(-90) scale(1 1.3)" class="tly" text-anchor="middle">120</text>
<text transform="translate(80.6 564.2) rotate(-90) scale(1 1.3)" class="tly" text-anchor="middle">180</text>
<text transform="translate(80.6 518.7) rotate(-90) scale(1 1.3)" class="tly" text-anchor="middle">240</text>
<path d="M210.1 701.5l4.7 7.5h-9.4z" fill="#000"/>
<path d="M305 701.5l4.7 7.5h-9.4z" fill="#000"/>
<text x="234.8" y="416.5" class="t">G1:26.9%</text>
<text x="234.9" y="465.3" class="t">S:35.3%</text>
<text x="234.8" y="514.3" class="t">G2/M:37.3%</text>
<text x="213.1" y="748.6" class="t">Mock</text>
<clipPath id="c5"><rect x="496" y="473.5" width="327.3" height="225.2"/></clipPath>
<g clip-path="url(#c5)">
<path d="M564.9 698.7L573.5 698.2L575.7 697.5L577.9 696L579.5 693.9L581.1 690.7L583.8 681.5L586.5 665.6L588.7 647.2L596.8 557.7L599 543.6L600.1 540.5L600.6 540L601.2 540.2L602.3 542.8L603.3 548.1L604.4 555.9L606.6 577.1L613.1 650.2L615.3 667.9L618 682.9L620.7 691.5L622.3 694.4L624 696.3L626.1 697.6L628.3 698.3L636.4 698.7Z" fill="#f80303"/>
<path d="M629.9 698.7L646.2 698.3L650.5 697.7L654.3 696.5L657.6 694.7L660.3 692.4L663 689L665.7 684.3L668.4 677.9L670.6 671.4L674.9 654.8L679.3 633.4L687.4 588.6L691.2 571.4L693.3 564.2L695 560.4L696.6 558.1L698.2 557.4L699.9 558.3L701.5 560.8L703.1 564.8L705.3 572.2L709.1 589.7L717.2 634.6L721 653.3L725.3 670.4L727.5 677L730.2 683.6L732.9 688.5L735.6 692L738.3 694.5L741.6 696.4L745.4 697.6L749.7 698.3L766 698.7Z" fill="#f80303"/>
<path d="M569.2 698.7L577.9 698.6L582.2 698.2L586 697.1L588.7 695.4L592 691.9L594.7 687.4L597.4 681.7L605.5 661.9L608.2 656.8L610.9 653.1L614.2 650.3L617.4 648.9L621.8 648.2L629.4 648L646.2 648.3L657 649.1L665.7 650.9L673.3 653.7L679.8 657.4L686.3 662.3L692.3 667.7L705.8 680.8L712.9 686.7L720.5 691.7L728 695L736.2 697.1L745.4 698.2L757.3 698.6L780.1 698.7Z" fill="url(#hB)"/>
<path d="M569.2 698.7L577.9 698.6L582.2 698.2L586 697.1L588.7 695.4L592 691.9L594.7 687.4L597.4 681.7L605.5 661.9L608.2 656.8L610.9 653.1L614.2 650.3L617.4 648.9L621.8 648.2L629.4 648L646.2 648.3L657 649.1L665.7 650.9L673.3 653.7L679.8 657.4L686.3 662.3L692.3 667.7L705.8 680.8L712.9 686.7L720.5 691.7L728 695L736.2 697.1L745.4 698.2L757.3 698.6L780.1 698.7" class="sl"/>
<path d="M564.9 698.7L573.5 698.2L575.7 697.5L577.9 696L579.5 693.9L581.1 690.7L583.8 681.5L586.5 665.6L588.7 647.2L596.8 557.7L599 543.6L600.1 540.5L600.6 540L601.2 540.2L602.3 542.8L603.3 548.1L604.4 555.9L606.6 577.1L613.1 650.2L615.3 667.9L618 682.9L620.7 691.5L622.3 694.4L624 696.3L626.1 697.6L628.3 698.3L636.4 698.7" class="pk"/>
<path d="M629.9 698.7L646.2 698.3L650.5 697.7L654.3 696.5L657.6 694.7L660.3 692.4L663 689L665.7 684.3L668.4 677.9L670.6 671.4L674.9 654.8L679.3 633.4L687.4 588.6L691.2 571.4L693.3 564.2L695 560.4L696.6 558.1L698.2 557.4L699.9 558.3L701.5 560.8L703.1 564.8L705.3 572.2L709.1 589.7L717.2 634.6L721 653.3L725.3 670.4L727.5 677L730.2 683.6L732.9 688.5L735.6 692L738.3 694.5L741.6 696.4L745.4 697.6L749.7 698.3L766 698.7" class="pk"/>
<path d="M496 698.7L568.7 698.7L570.8 698.5L573 697.8L574.1 698.7L575.2 698.7L576.2 695.5L577.3 694.1L578.4 693.5L579.5 691.4L580.6 693.5L582.7 689.3L584.9 680.5L586 673.6L587.1 653.3L588.2 642.9L589.3 652.7L590.3 640.7L591.4 603.7L592.5 588.8L593.6 579.2L594.7 564.1L595.8 555.8L597.9 523.3L599 512.2L600.1 507.6L602.3 510.7L603.3 514L604.4 508.1L605.5 509.8L606.6 524.4L607.7 529.8L608.8 530.4L610.9 570.3L612 583.2L613.1 602.4L614.2 611.3L615.3 613.3L616.4 619.9L617.4 632.8L618.5 637.2L619.6 636.9L620.7 639.6L621.8 639L622.9 640.5L624 633L625 633.9L626.1 646.3L627.2 646.6L628.3 647.5L629.4 647.6L630.5 646.7L631.5 646.7L632.6 648L633.7 648.1L634.8 653.4L635.9 653.4L637 635.9L638 635.9L639.1 650.7L642.4 650.5L643.5 651.2L644.6 651.1L645.6 642.8L646.7 642.8L647.8 629.2L651.1 628.4L652.1 640.3L653.2 640L654.3 643.5L655.4 643.1L656.5 644.9L657.6 644.3L658.6 649.5L659.7 648.7L660.8 637.2L661.9 636.1L663 639.9L664.1 638.4L665.2 623.2L666.2 621.1L667.3 633.7L668.4 631.3L669.5 633.3L670.6 630.3L671.7 632.5L672.7 628.9L674.9 620.4L676 599.1L678.2 590.2L679.3 584.3L680.3 589.3L681.4 583.1L682.5 579.8L683.6 573.8L684.7 553.6L685.8 548L686.8 548L687.9 543.4L689 534.7L690.1 531.4L691.2 530.8L692.3 528.6L693.3 532.7L694.4 529L695.5 530.5L696.6 522.8L697.7 503.5L698.8 509L700.9 529L703.1 539.5L704.2 538.1L705.3 543.3L707.4 555.3L708.5 572.7L709.6 579.3L710.7 578.1L711.8 585.2L712.9 612.1L714 618.8L715 606L716.1 612.9L717.2 624.4L718.3 630.8L719.4 630.5L722.6 647.8L723.7 663.7L724.8 668L725.9 667.7L727 671.5L728 668.7L729.1 671.8L730.2 682.4L731.3 684.6L732.4 683.7L733.5 685.4L734.6 689.9L735.6 690.9L736.7 687.4L737.8 688.5L738.9 690.2L740 690.9L741.1 694.5L742.1 694.8L743.2 696.6L744.3 695.1L745.4 696.1L746.5 696.3L747.6 693.8L748.6 694L749.7 695.3L751.9 695.7L757.3 696.2L758.4 695.1L761.7 695.2L762.7 697.2L763.8 697.2L764.9 695.7L768.2 695.6L770.3 695.9L772.5 695.6L773.6 694.5L774.7 694.5L775.8 695.5L776.8 695.5L777.9 694.9L779 698.7L821.3 698.7" class="raw"/>
<path d="M496 698.7L570.3 698.6L573.5 698.2L575.7 697.4L577.9 695.9L579.5 693.8L581.7 688.9L583.3 683.1L584.9 674.9L586.5 663.7L589.8 631.9L597.4 536.3L599.6 519.4L600.6 514.9L601.2 513.8L601.7 513.3L602.3 513.6L603.3 516.2L605.5 528.9L612.6 597.8L615.8 622.3L617.4 630.7L619.6 638.5L621.8 643.1L624 645.7L626.7 647.2L631 647.9L644 648L651.6 647.3L655.4 646.3L658.6 644.6L661.9 641.8L664.6 638.2L667.3 633.3L669.5 628.2L671.7 622L674.4 612.7L678.2 596.8L686.8 555.5L690.1 542.7L692.3 536.4L693.9 533.3L695.5 531.5L697.1 531.3L698.8 532.8L700.9 537.2L703.1 544.3L705.3 553.8L709.1 574.7L718.3 632L723.7 659.2L726.4 669.6L729.1 677.9L731.8 684.2L735.1 689.6L738.3 693.2L741.6 695.5L745.9 697.2L751.4 698.2L764.9 698.7L821.3 698.7" class="sum"/>
</g>
<path d="M496 476.5V698.7H821.3" class="ax"/>
<path d="M496 698.7v8M509 698.7v4M522 698.7v4M535 698.7v4M548 698.7v4M561.1 698.7v8M574.1 698.7v4M587.1 698.7v4M600.1 698.7v4M613.1 698.7v4M626.1 698.7v8M639.1 698.7v4M652.1 698.7v4M665.2 698.7v4M678.2 698.7v4M691.2 698.7v8M704.2 698.7v4M717.2 698.7v4M730.2 698.7v4M743.2 698.7v4M756.2 698.7v8M769.3 698.7v4M782.3 698.7v4M795.3 698.7v4M808.3 698.7v4M821.3 698.7v8M496 698.7h-10M496 689.8h-4M496 680.9h-4M496 672.1h-4M496 663.2h-4M496 654.3h-10M496 645.4h-4M496 636.5h-4M496 627.7h-4M496 618.8h-4M496 609.9h-10M496 601h-4M496 592.1h-4M496 583.3h-4M496 574.4h-4M496 565.5h-10M496 556.6h-4M496 547.7h-4M496 538.9h-4M496 530h-4M496 521.1h-10M496 512.2h-4M496 503.3h-4M496 494.5h-4M496 485.6h-4M496 476.7h-10" class="tk"/>
<text x="496" y="718.7" class="tl" text-anchor="middle">0</text>
<text x="561.1" y="718.7" class="tl" text-anchor="middle">30</text>
<text x="626.1" y="718.7" class="tl" text-anchor="middle">60</text>
<text x="691.2" y="718.7" class="tl" text-anchor="middle">90</text>
<text x="756.2" y="718.7" class="tl" text-anchor="middle">120</text>
<text x="821.3" y="718.7" class="tl" text-anchor="middle">150</text>
<text transform="translate(480.2 698.7) rotate(-90) scale(1 1.3)" class="tly" text-anchor="middle">0</text>
<text transform="translate(480.2 654.3) rotate(-90) scale(1 1.3)" class="tly" text-anchor="middle">60</text>
<text transform="translate(480.2 609.9) rotate(-90) scale(1 1.3)" class="tly" text-anchor="middle">120</text>
<text transform="translate(480.2 565.5) rotate(-90) scale(1 1.3)" class="tly" text-anchor="middle">180</text>
<text transform="translate(480.2 521.1) rotate(-90) scale(1 1.3)" class="tly" text-anchor="middle">240</text>
<path d="M602.9 699.5l4.7 7.5h-9.4z" fill="#000"/>
<path d="M698.1 699.5l4.7 7.5h-9.4z" fill="#000"/>
<text x="636.1" y="416" class="t">G1:24.3%</text>
<text x="636.2" y="465.3" class="t">S:34.3%</text>
<text x="636.1" y="513.3" class="t">G2/M:31.5%</text>
<text x="628.5" y="749.3" class="t">NC</text>
<clipPath id="c6"><rect x="865.7" y="455.2" width="324.6" height="238.5"/></clipPath>
<g clip-path="url(#c6)">
<path d="M938.3 693.7L944.2 693.5L947.4 693.1L950.1 692L952.3 690.3L954.4 687L956 683.1L958.7 672.3L961.4 654.6L964.1 628.5L973.2 508.8L975.4 491.5L976.5 486.9L977 485.8L977.5 485.4L978.1 485.8L978.6 486.9L979.7 491.5L981.8 508.8L991 628.5L993.7 654.6L996.4 672.3L999 683.1L1000.7 687L1002.8 690.3L1005 692L1007.6 693.1L1010.9 693.5L1016.8 693.7Z" fill="#f80303"/>
<path d="M1008.2 693.7L1025.4 693.5L1034 692.9L1037.8 692.1L1041 691L1046.4 688L1051.2 683.5L1056 677L1060.3 669.5L1068.9 653.1L1072.7 647.1L1076.5 643.1L1078.6 641.9L1080.2 641.6L1081.8 641.8L1084 642.9L1085.6 644.3L1087.8 646.8L1091.5 652.7L1100.7 670.1L1105 677.5L1109.8 683.9L1114.6 688.3L1120 691.2L1123.2 692.2L1127 692.9L1135.6 693.6L1152.8 693.7Z" fill="#f80303"/>
<path d="M943.1 693.7L957.6 693.5L964.6 692.5L967.9 691.5L971.1 689.9L982.9 681.5L988.3 678.8L991.5 677.9L995.8 677.3L1008.7 677L1037.2 677.4L1046.4 678L1054.4 678.9L1067.9 681.7L1096.4 689.8L1103.9 691.4L1112 692.5L1130.2 693.5L1167.3 693.7Z" fill="url(#hA)"/>
<path d="M943.1 693.7L957.6 693.5L964.6 692.5L967.9 691.5L971.1 689.9L982.9 681.5L988.3 678.8L991.5 677.9L995.8 677.3L1008.7 677L1037.2 677.4L1046.4 678L1054.4 678.9L1067.9 681.7L1096.4 689.8L1103.9 691.4L1112 692.5L1130.2 693.5L1167.3 693.7" class="sl"/>
<path d="M938.3 693.7L944.2 693.5L947.4 693.1L950.1 692L952.3 690.3L954.4 687L956 683.1L958.7 672.3L961.4 654.6L964.1 628.5L973.2 508.8L975.4 491.5L976.5 486.9L977 485.8L977.5 485.4L978.1 485.8L978.6 486.9L979.7 491.5L981.8 508.8L991 628.5L993.7 654.6L996.4 672.3L999 683.1L1000.7 687L1002.8 690.3L1005 692L1007.6 693.1L1010.9 693.5L1016.8 693.7" class="pk"/>
<path d="M1008.2 693.7L1025.4 693.5L1034 692.9L1037.8 692.1L1041 691L1046.4 688L1051.2 683.5L1056 677L1060.3 669.5L1068.9 653.1L1072.7 647.1L1076.5 643.1L1078.6 641.9L1080.2 641.6L1081.8 641.8L1084 642.9L1085.6 644.3L1087.8 646.8L1091.5 652.7L1100.7 670.1L1105 677.5L1109.8 683.9L1114.6 688.3L1120 691.2L1123.2 692.2L1127 692.9L1135.6 693.6L1152.8 693.7" class="pk"/>
<path d="M865.7 693.7L945.3 693.6L948.5 693L949.6 691.5L950.7 690.6L951.7 691.7L952.8 690.7L955 685L957.1 677.7L958.2 679.3L959.3 673.8L960.3 661.4L961.4 653.1L963.6 626.7L964.6 628.8L965.7 615.4L966.8 592.4L968.9 559.5L972.2 517.6L973.2 496.7L974.3 485.8L976.5 475.5L977.5 482.1L978.6 482.8L979.7 472L980.8 478.8L984 512.4L986.1 539.3L988.3 575.6L992.6 633.6L993.7 642.8L994.7 642.9L995.8 649.8L996.9 660.1L998 664.5L1000.1 670.3L1001.2 675.2L1002.3 676.8L1003.3 676.9L1004.4 677.8L1005.5 677L1006.6 677.4L1007.6 671.9L1008.7 672.1L1009.8 682.9L1010.9 683L1011.9 681.2L1013 681.3L1014.1 675.8L1015.2 675.9L1016.2 672L1017.3 672L1018.4 674.8L1019.5 674.8L1020.5 682.7L1021.6 682.7L1022.7 684.7L1023.8 684.7L1024.8 675.4L1025.9 675.4L1027 678.9L1028.1 678.9L1029.2 680L1030.2 680L1031.3 673.2L1034.5 672.4L1035.6 675.3L1036.7 675.2L1038.8 674.4L1039.9 673.5L1041 673.1L1042.1 668.9L1043.1 668.4L1044.2 671.1L1046.4 670.1L1049.6 667.5L1050.7 673.8L1051.7 672.7L1052.8 661.5L1053.9 660.1L1055 659.9L1056 658.3L1057.1 658.3L1058.2 656.6L1059.3 664.3L1060.3 662.6L1061.4 655.7L1062.5 653.8L1063.6 646.1L1064.6 644.2L1065.7 653L1066.8 651.2L1067.9 642.8L1068.9 641.1L1070 634.5L1071.1 633L1072.2 641.5L1073.2 640.3L1074.3 626.8L1075.4 626L1076.5 629.9L1077.5 629.6L1078.6 632.4L1079.7 632.5L1080.8 630.8L1081.8 631.3L1082.9 630.7L1084 631.7L1085.1 635.2L1086.1 636.6L1087.2 634L1088.3 635.8L1089.4 645.2L1090.4 647.2L1091.5 648.4L1092.6 650.6L1093.7 647.2L1094.7 649.7L1095.8 656L1096.9 658.4L1098 664.1L1099 666.4L1100.1 662.2L1101.2 664.5L1102.3 664.9L1103.3 667.1L1104.4 675.4L1105.5 677.3L1106.6 682L1107.7 683.5L1108.7 681.2L1113 686.4L1114.1 687.1L1115.2 684.1L1116.3 684.9L1117.3 690.1L1118.4 690.4L1119.5 686.9L1120.6 687.3L1121.6 691.4L1122.7 691.5L1123.8 690.9L1124.9 690.9L1125.9 689.1L1127 689.3L1128.1 688.9L1129.2 689.9L1132.4 690.6L1137.8 691L1139.9 690.9L1141 691.2L1142.1 693.6L1188.3 693.7" class="raw"/>
<path d="M865.7 693.7L944.2 693.5L948 692.9L950.7 691.7L952.8 689.6L954.4 686.9L956.6 681.2L958.2 674.8L960.3 662.3L961.9 649.5L965.2 614.5L973.2 503.6L974.8 488.5L975.9 481.7L977 477.8L977.5 477L978.1 477L979.1 479.3L980.2 484.5L982.4 502.6L989.9 600.4L993.7 638.4L995.8 653L998 662.9L1000.1 669.2L1002.8 673.6L1005 675.3L1008.2 676.5L1012.5 676.9L1021.6 677L1029.7 676.8L1035.6 676.2L1040.4 675.1L1044.7 673.3L1047.4 671.6L1050.1 669.3L1055 663.9L1059.3 657.6L1068.4 642.2L1072.2 637.1L1074.3 634.9L1075.9 633.8L1077.5 633.2L1079.2 633L1080.8 633.4L1082.9 634.7L1086.7 639L1091 646.6L1100.7 667.2L1106 677.1L1108.7 681L1112 684.8L1114.6 687.3L1117.9 689.5L1121.1 691L1124.9 692.2L1134 693.4L1146.4 693.7L1188.3 693.7" class="sum"/>
</g>
<path d="M865.7 458.2V693.7H1188.3" class="ax"/>
<path d="M865.7 693.7v8M878.6 693.7v4M891.5 693.7v4M904.4 693.7v4M917.3 693.7v4M930.2 693.7v8M943.1 693.7v4M956 693.7v4M968.9 693.7v4M981.8 693.7v4M994.7 693.7v8M1007.6 693.7v4M1020.5 693.7v4M1033.5 693.7v4M1046.4 693.7v4M1059.3 693.7v8M1072.2 693.7v4M1085.1 693.7v4M1098 693.7v4M1110.9 693.7v4M1123.8 693.7v8M1136.7 693.7v4M1149.6 693.7v4M1162.5 693.7v4M1175.4 693.7v4M1188.3 693.7v8M865.7 693.7h-10M865.7 684h-4M865.7 674.4h-4M865.7 664.7h-4M865.7 655.1h-4M865.7 645.4h-10M865.7 635.7h-4M865.7 626.1h-4M865.7 616.4h-4M865.7 606.8h-4M865.7 597.1h-10M865.7 587.4h-4M865.7 577.8h-4M865.7 568.1h-4M865.7 558.5h-4M865.7 548.8h-10M865.7 539.1h-4M865.7 529.5h-4M865.7 519.8h-4M865.7 510.2h-4M865.7 500.5h-10M865.7 490.8h-4M865.7 481.2h-4M865.7 471.5h-4M865.7 461.9h-4" class="tk"/>
<text x="865.7" y="713.7" class="tl" text-anchor="middle">0</text>
<text x="930.2" y="713.7" class="tl" text-anchor="middle">30</text>
<text x="994.7" y="713.7" class="tl" text-anchor="middle">60</text>
<text x="1059.3" y="713.7" class="tl" text-anchor="middle">90</text>
<text x="1123.8" y="713.7" class="tl" text-anchor="middle">120</text>
<text x="1188.3" y="713.7" class="tl" text-anchor="middle">150</text>
<text transform="translate(849.9 693.7) rotate(-90) scale(1 1.3)" class="tly" text-anchor="middle">0</text>
<text transform="translate(849.9 645.4) rotate(-90) scale(1 1.3)" class="tly" text-anchor="middle">80</text>
<text transform="translate(849.9 597.1) rotate(-90) scale(1 1.3)" class="tly" text-anchor="middle">160</text>
<text transform="translate(849.9 548.8) rotate(-90) scale(1 1.3)" class="tly" text-anchor="middle">240</text>
<text transform="translate(849.9 500.5) rotate(-90) scale(1 1.3)" class="tly" text-anchor="middle">320</text>
<path d="M977.5 694.5l4.7 7.5h-9.4z" fill="#000"/>
<text x="999" y="434.6" class="t">G1:54.6%</text>
<text x="999.1" y="483.6" class="t">S:19.3%</text>
<text x="999" y="532.4" class="t">G2/M:26.1%</text>
<text x="998" y="749.5" class="t">si-P1</text>
<clipPath id="c7"><rect x="1229.1" y="458.8" width="320.5" height="238.7"/></clipPath>
<g clip-path="url(#c7)">
<path d="M1297.6 697.5L1306.6 697L1309.3 696.1L1311.4 694.5L1313.5 691.6L1315.1 688.1L1316.7 682.9L1318.3 675.6L1320.9 657.5L1323.6 631.1L1330.5 536.7L1332.6 511.5L1334.7 494.7L1335.8 490.5L1336.3 489.5L1336.9 489.2L1337.9 491.1L1339 495.9L1341.1 513.7L1350.1 633.5L1352.8 659.3L1355.4 676.7L1358.1 687.2L1359.7 691L1361.8 694.2L1363.9 695.9L1366.6 696.9L1369.8 697.3L1375.6 697.5Z" fill="#f80303"/>
<path d="M1360.7 697.5L1378.3 697.3L1387.3 696.5L1391 695.7L1394.2 694.5L1397.4 692.8L1400 690.8L1402.7 688.1L1405.3 684.8L1410.1 677L1414.4 668.3L1423.4 647.4L1427.6 639.2L1429.8 636.1L1431.3 634.4L1433.5 633L1435.1 632.6L1436.7 632.9L1438.8 634.1L1440.9 636.3L1443 639.4L1447.3 647.6L1456.3 668.5L1460.5 677.2L1465.3 685L1468 688.3L1470.6 690.9L1473.3 692.8L1476.5 694.6L1479.7 695.7L1483.4 696.5L1492.4 697.3L1509.4 697.5Z" fill="#f80303"/>
<path d="M1302.4 697.5L1316.7 697.2L1320.9 696.7L1324.1 695.7L1327.3 694.1L1330.5 691.6L1341.6 679.4L1344.8 676.6L1347.5 674.9L1350.7 673.6L1354.4 672.8L1366.1 672.3L1381.4 672.4L1392.6 672.9L1401.6 673.9L1409.6 675.4L1416 677.1L1422.9 679.5L1443.6 688.5L1451.5 691.6L1459.5 694L1467.4 695.6L1475.9 696.6L1486 697.2L1524.2 697.5Z" fill="url(#hA)"/>
<path d="M1302.4 697.5L1316.7 697.2L1320.9 696.7L1324.1 695.7L1327.3 694.1L1330.5 691.6L1341.6 679.4L1344.8 676.6L1347.5 674.9L1350.7 673.6L1354.4 672.8L1366.1 672.3L1381.4 672.4L1392.6 672.9L1401.6 673.9L1409.6 675.4L1416 677.1L1422.9 679.5L1443.6 688.5L1451.5 691.6L1459.5 694L1467.4 695.6L1475.9 696.6L1486 697.2L1524.2 697.5" class="sl"/>
<path d="M1297.6 697.5L1303.4 697.4L1306.6 697L1309.3 696.1L1311.4 694.5L1313.5 691.6L1315.1 688.1L1316.7 682.9L1318.3 675.6L1320.9 657.5L1323.6 631.1L1330.5 536.7L1332.6 511.5L1334.7 494.7L1335.8 490.5L1336.3 489.5L1336.9 489.2L1337.9 491.1L1339 495.9L1341.1 513.7L1350.1 633.5L1352.8 659.3L1355.4 676.7L1358.1 687.2L1359.7 691L1361.8 694.2L1363.9 695.9L1366.6 696.9L1369.8 697.3L1375.6 697.5" class="pk"/>
<path d="M1360.7 697.5L1378.3 697.3L1387.3 696.5L1391 695.7L1394.2 694.5L1397.4 692.8L1400 690.8L1402.7 688.1L1405.3 684.8L1410.1 677L1414.4 668.3L1423.4 647.4L1427.6 639.2L1429.8 636.1L1431.3 634.4L1433.5 633L1435.1 632.6L1436.7 632.9L1438.8 634.1L1440.9 636.3L1443 639.4L1447.3 647.6L1456.3 668.5L1460.5 677.2L1465.3 685L1468 688.3L1470.6 690.9L1473.3 692.8L1476.5 694.6L1479.7 695.7L1483.4 696.5L1492.4 697.3L1509.4 697.5" class="pk"/>
<path d="M1229.1 697.5L1302.4 697.4L1304.5 697.2L1306.6 696.6L1307.7 696.9L1308.7 696.5L1310.8 694L1313 688.2L1314 693.7L1315.1 692.1L1317.2 682.8L1318.3 672.5L1319.3 665.8L1320.4 662.7L1322.5 646.2L1323.6 634.4L1324.6 606.4L1326.8 577.9L1330 527.3L1332.1 497.7L1334.2 478L1335.3 482.1L1336.3 478L1337.4 488.4L1338.5 490.5L1339.5 474.8L1340.6 482.8L1341.6 504.2L1342.7 516.3L1343.8 522.2L1345.9 549.6L1346.9 564.6L1348 588.7L1349.1 602L1350.1 609.2L1351.2 620.3L1352.3 619.7L1354.4 640.6L1355.4 646.8L1356.5 662.4L1357.6 666.2L1358.6 663.1L1359.7 665.5L1361.8 667.9L1362.9 666.5L1363.9 667.3L1365 667.1L1366.1 667.5L1367.1 671L1368.2 671.2L1369.2 672L1370.3 672L1371.4 667.7L1372.4 667.7L1373.5 676.9L1374.5 676.9L1375.6 666.6L1376.7 666.6L1377.7 669.8L1378.8 669.8L1379.9 673.2L1383 673.4L1384.1 670L1385.2 670L1386.2 676.7L1387.3 676.6L1388.3 680L1389.4 679.8L1390.5 668.6L1391.5 668.4L1392.6 663.7L1393.7 663.4L1394.7 669.5L1395.8 669.1L1396.8 667.7L1400 666L1401.1 669.2L1402.2 668.2L1403.2 661.4L1404.3 660.3L1405.3 657.3L1406.4 655.9L1407.5 657.8L1408.5 656.3L1409.6 650.7L1410.6 648.9L1411.7 655.8L1412.8 653.8L1413.8 645.9L1414.9 643.8L1416 646.4L1417 644.3L1418.1 640.9L1419.1 638.7L1420.2 632.8L1423.4 627.1L1424.4 621.7L1425.5 620L1426.6 619.3L1427.6 617.9L1428.7 626.3L1429.8 625.3L1430.8 611.7L1431.9 611.2L1432.9 626L1434 626L1435.1 618.6L1436.1 619.2L1437.2 618L1438.2 619.1L1439.3 622.4L1440.4 624.1L1441.4 623L1442.5 625L1443.6 629.7L1444.6 632.1L1445.7 639.6L1446.7 642.2L1447.8 636.4L1448.9 639.3L1449.9 646.3L1451 649.3L1452 656.1L1453.1 659L1454.2 657.5L1457.4 666.2L1458.4 667.3L1459.5 669.8L1460.5 675.7L1461.6 677.9L1462.7 677.1L1463.7 679.1L1464.8 682.2L1465.9 683.9L1466.9 679.3L1468 680.8L1469 688.5L1470.1 689.4L1471.2 685.6L1472.2 686.6L1473.3 690.7L1474.3 691.2L1475.4 689.1L1476.5 689.6L1477.5 687.8L1478.6 688.2L1479.7 693.3L1480.7 693.4L1481.8 692.7L1482.8 693L1483.9 694.8L1485 695L1486 694.3L1489.2 694.5L1492.4 693.9L1495.6 694.1L1496.6 694.8L1499.8 694.6L1500.9 695.4L1501.9 695.4L1503 694.4L1504.1 694.4L1505.1 694.8L1506.2 697.5L1547.6 697.5" class="raw"/>
<path d="M1229.1 697.5L1303.9 697.3L1307.7 696.7L1310.3 695.4L1312.4 693.2L1314 690.5L1316.2 684.6L1317.7 677.9L1319.9 665.1L1321.5 652L1324.6 616.2L1332.6 503.5L1334.2 488.3L1335.3 481.3L1336.3 477.3L1336.9 476.5L1337.4 476.4L1338.5 478.5L1339.5 483.6L1341.6 501.5L1349.1 597.6L1352.8 634.8L1354.9 649L1357 658.7L1359.2 664.8L1361.8 669L1364.5 670.9L1367.6 671.9L1373 672.2L1382 672.1L1387.8 671.6L1392.1 670.7L1395.8 669.4L1399.5 667.3L1402.2 665.2L1404.8 662.5L1409.6 655.9L1413.8 648.4L1422.9 630.6L1426.6 624.5L1428.7 622L1430.3 620.6L1432.4 619.7L1434 619.6L1436.1 620.5L1438.2 622.4L1440.4 625.3L1443 630.1L1447.3 640.1L1457.4 666.7L1463.2 679.2L1465.9 683.5L1468.5 687.1L1471.2 689.9L1474.3 692.5L1477.5 694.3L1481.2 695.6L1485.5 696.5L1490.8 697.1L1504.1 697.5L1547.6 697.5" class="sum"/>
</g>
<path d="M1229.1 461.8V697.5H1547.6" class="ax"/>
<path d="M1229.1 697.5v8M1241.8 697.5v4M1254.6 697.5v4M1267.3 697.5v4M1280.1 697.5v4M1292.8 697.5v8M1305.5 697.5v4M1318.3 697.5v4M1331 697.5v4M1343.8 697.5v4M1356.5 697.5v8M1369.2 697.5v4M1382 697.5v4M1394.7 697.5v4M1407.5 697.5v4M1420.2 697.5v8M1432.9 697.5v4M1445.7 697.5v4M1458.4 697.5v4M1471.2 697.5v4M1483.9 697.5v8M1496.6 697.5v4M1509.4 697.5v4M1522.1 697.5v4M1534.9 697.5v4M1547.6 697.5v8M1229.1 697.5h-10M1229.1 687.9h-4M1229.1 678.4h-4M1229.1 668.8h-4M1229.1 659.3h-4M1229.1 649.7h-10M1229.1 640.1h-4M1229.1 630.6h-4M1229.1 621h-4M1229.1 611.5h-4M1229.1 601.9h-10M1229.1 592.3h-4M1229.1 582.8h-4M1229.1 573.2h-4M1229.1 563.7h-4M1229.1 554.1h-10M1229.1 544.5h-4M1229.1 535h-4M1229.1 525.4h-4M1229.1 515.9h-4M1229.1 506.3h-10M1229.1 496.7h-4M1229.1 487.2h-4M1229.1 477.6h-4M1229.1 468.1h-4" class="tk"/>
<text x="1229.1" y="717.5" class="tl" text-anchor="middle">0</text>
<text x="1292.8" y="717.5" class="tl" text-anchor="middle">30</text>
<text x="1356.5" y="717.5" class="tl" text-anchor="middle">60</text>
<text x="1420.2" y="717.5" class="tl" text-anchor="middle">90</text>
<text x="1483.9" y="717.5" class="tl" text-anchor="middle">120</text>
<text x="1547.6" y="717.5" class="tl" text-anchor="middle">150</text>
<text transform="translate(1213.3 697.5) rotate(-90) scale(1 1.3)" class="tly" text-anchor="middle">0</text>
<text transform="translate(1213.3 649.7) rotate(-90) scale(1 1.3)" class="tly" text-anchor="middle">70</text>
<text transform="translate(1213.3 601.9) rotate(-90) scale(1 1.3)" class="tly" text-anchor="middle">140</text>
<text transform="translate(1213.3 554.1) rotate(-90) scale(1 1.3)" class="tly" text-anchor="middle">210</text>
<text transform="translate(1213.3 506.3) rotate(-90) scale(1 1.3)" class="tly" text-anchor="middle">280</text>
<path d="M1336.8 698.3l4.7 7.5h-9.4z" fill="#000"/>
<path d="M1427.6 698.3l4.7 7.5h-9.4z" fill="#000"/>
<text x="1361.6" y="434.6" class="t">G1:47.3%</text>
<text x="1361.7" y="483.6" class="t">S:24.3%</text>
<text x="1361.6" y="532.4" class="t">G2/M:28.4%</text>
<text x="1339.6" y="749.5" class="t">si-P2</text>
<clipPath id="c8"><rect x="98.4" y="901" width="323.3" height="240.1"/></clipPath>
<g clip-path="url(#c8)">
<path d="M170.2 1141.1L175.5 1141L178.7 1140.5L180.9 1139.7L183 1138L185.2 1134.7L186.8 1130.6L189.4 1118.7L192.1 1098.2L194.3 1074.6L202.8 947.8L205 928.9L206 924.4L206.6 923.6L207.1 923.7L208.2 926.7L209.2 933.2L210.3 943.1L212.5 970.5L219.4 1075.9L221.6 1099.2L224.2 1119.3L226.9 1130.9L228.5 1135L230.1 1137.5L232.3 1139.5L234.4 1140.4L237.6 1140.9L243 1141.1Z" fill="#f80303"/>
<path d="M242.4 1141.1L257.4 1141L264.9 1140.5L270.8 1139.3L275.7 1137.1L279.9 1133.7L283.7 1129.5L287.4 1124.2L295.5 1111.3L298.7 1107.1L301.9 1104.2L303.5 1103.5L305.1 1103.2L306.7 1103.5L308.3 1104.2L311.5 1107.1L314.7 1111.3L322.8 1124.2L326.5 1129.5L330.3 1133.7L334.6 1137.1L339.4 1139.3L345.3 1140.5L352.8 1141L367.8 1141.1Z" fill="#f80303"/>
<path d="M177.7 1141.1L191 1140.8L194.3 1140.1L197.5 1138.9L199.6 1137.5L202.3 1135.2L212.5 1124L215.1 1122L218.4 1120.5L221.6 1119.7L225.3 1119.3L243.5 1119.2L273.5 1119.3L279.9 1119.7L285.3 1120.5L290.6 1121.9L295.5 1124.1L300.3 1126.9L313.1 1135.4L317.4 1137.5L321.7 1139.1L327.1 1140.2L332.9 1140.8L354.9 1141.1Z" fill="url(#hA)"/>
<path d="M177.7 1141.1L191 1140.8L194.3 1140.1L197.5 1138.9L199.6 1137.5L202.3 1135.2L212.5 1124L215.1 1122L218.4 1120.5L221.6 1119.7L225.3 1119.3L243.5 1119.2L273.5 1119.3L279.9 1119.7L285.3 1120.5L290.6 1121.9L295.5 1124.1L300.3 1126.9L313.1 1135.4L317.4 1137.5L321.7 1139.1L327.1 1140.2L332.9 1140.8L354.9 1141.1" class="sl"/>
<path d="M170.2 1141.1L175.5 1141L178.7 1140.5L180.9 1139.7L183 1138L185.2 1134.7L186.8 1130.6L189.4 1118.7L192.1 1098.2L194.3 1074.6L202.8 947.8L205 928.9L206 924.4L206.6 923.6L207.1 923.7L208.2 926.7L209.2 933.2L210.3 943.1L212.5 970.5L219.4 1075.9L221.6 1099.2L224.2 1119.3L226.9 1130.9L228.5 1135L230.1 1137.5L232.3 1139.5L234.4 1140.4L237.6 1140.9L243 1141.1" class="pk"/>
<path d="M242.4 1141.1L257.4 1141L264.9 1140.5L270.8 1139.3L275.7 1137.1L279.9 1133.7L283.7 1129.5L287.4 1124.2L295.5 1111.3L298.7 1107.1L301.9 1104.2L303.5 1103.5L305.1 1103.2L306.7 1103.5L308.3 1104.2L311.5 1107.1L314.7 1111.3L322.8 1124.2L326.5 1129.5L330.3 1133.7L334.6 1137.1L339.4 1139.3L345.3 1140.5L352.8 1141L367.8 1141.1" class="pk"/>
<path d="M98.4 1141.1L168 1141.1L177.7 1140.8L180.9 1139.9L183 1137.6L186.2 1131.8L188.4 1123.4L190.5 1111L192.6 1091.8L196.9 1035.2L202.3 943.4L203.4 929.2L205.5 907.8L206.6 903.4L207.6 903.7L208.7 906.8L210.9 923.6L213 951L215.1 987.2L216.2 999.1L218.4 1031.3L219.4 1044.9L222.6 1075.9L224.8 1090.1L226.9 1099.8L228 1103.2L230.1 1107.9L231.2 1111.6L232.3 1113.1L234.4 1115L235.5 1112.8L236.6 1113.6L237.6 1115.1L238.7 1115.7L239.8 1117.1L245.1 1118.5L246.2 1114.9L247.3 1115L248.3 1117.9L251.6 1118.6L252.6 1119.4L253.7 1119.4L254.8 1121.2L255.8 1121.2L256.9 1118.5L258 1118.5L259.1 1117.2L262.3 1117.5L263.3 1118.1L264.4 1118L265.5 1118.8L266.5 1118.6L267.6 1119L268.7 1118.8L269.8 1117.2L270.8 1116.9L271.9 1117.1L273 1116.7L274 1117L275.1 1116.4L276.2 1112.8L277.3 1112L278.3 1114.1L281.5 1110.9L282.6 1111.9L283.7 1110.7L284.8 1104.7L285.8 1103.4L286.9 1104.2L292.3 1096.6L293.3 1096.7L296.5 1093.2L297.6 1091.2L298.7 1090.5L299.7 1091.5L300.8 1091.2L301.9 1089.7L303 1089.9L304 1089.1L305.1 1089.8L307.2 1092.3L308.3 1092.8L311.5 1098.3L312.6 1099.5L313.7 1101.6L314.7 1105.5L318 1112L319 1115.9L320.1 1118.1L321.2 1119.2L324.4 1125.6L326.5 1128.4L327.6 1130.8L328.7 1132.1L329.7 1132.2L330.8 1133.4L331.9 1132.6L332.9 1133.6L334 1136.3L335.1 1136.3L336.2 1135.1L339.4 1134.3L340.4 1135L346.9 1131.5L349 1132.3L350.1 1132.3L351.2 1131.1L352.2 1131.1L353.3 1131.8L356.5 1131.8L358.7 1131.4L360.8 1131.7L361.9 1132.3L371.5 1131.9L372.6 1133L375.8 1132.9L376.9 1132.4L380.1 1132.1L381.1 1132.5L382.2 1141.1L419.7 1141.1" class="raw"/>
<path d="M98.4 1141.1L176 1140.9L179.3 1140.4L181.4 1139.4L183.5 1137.4L185.2 1134.7L187.3 1128.6L189.4 1118.5L191 1107.2L192.6 1092.4L195.9 1051.2L202.8 941.4L205 920.1L206 914.4L206.6 912.9L207.1 912.3L207.6 912.7L208.7 916.3L210.9 933.5L213 960.9L218.4 1041.2L220.5 1067.2L222.1 1082.6L223.7 1094.4L225.8 1105.3L228 1112L229.1 1114.1L230.7 1116.3L232.3 1117.6L234.4 1118.5L240.8 1119.2L261.7 1118.9L267.6 1118.2L271.9 1117.1L276.7 1114.7L281.5 1110.8L285.3 1106.7L293.3 1096.6L296.5 1093.3L299.7 1091.4L302.4 1091.1L304 1091.7L306.2 1093.2L309.9 1097.8L313.7 1104.4L322.2 1121.5L327.6 1130L332.4 1135.3L335.1 1137.2L337.8 1138.6L343.7 1140.3L352.2 1141L419.7 1141.1" class="sum"/>
</g>
<path d="M98.4 904V1141.1H419.7" class="ax"/>
<path d="M98.4 1141.1v8M111.3 1141.1v4M124.1 1141.1v4M137 1141.1v4M149.8 1141.1v4M162.7 1141.1v8M175.5 1141.1v4M188.4 1141.1v4M201.2 1141.1v4M214.1 1141.1v4M226.9 1141.1v8M239.8 1141.1v4M252.6 1141.1v4M265.5 1141.1v4M278.3 1141.1v4M291.2 1141.1v8M304 1141.1v4M316.9 1141.1v4M329.7 1141.1v4M342.6 1141.1v4M355.4 1141.1v8M368.3 1141.1v4M381.1 1141.1v4M394 1141.1v4M406.8 1141.1v4M419.7 1141.1v8M98.4 1141.1h-10M98.4 1133.9h-4M98.4 1126.7h-4M98.4 1119.5h-4M98.4 1112.3h-4M98.4 1105h-10M98.4 1097.8h-4M98.4 1090.6h-4M98.4 1083.4h-4M98.4 1076.2h-4M98.4 1069h-10M98.4 1061.8h-4M98.4 1054.6h-4M98.4 1047.4h-4M98.4 1040.2h-4M98.4 1032.9h-10M98.4 1025.7h-4M98.4 1018.5h-4M98.4 1011.3h-4M98.4 1004.1h-4M98.4 996.9h-10M98.4 989.7h-4M98.4 982.5h-4M98.4 975.3h-4M98.4 968.1h-4M98.4 960.8h-10M98.4 953.6h-4M98.4 946.4h-4M98.4 939.2h-4M98.4 932h-4M98.4 924.8h-10M98.4 917.6h-4M98.4 910.4h-4" class="tk"/>
<text x="98.4" y="1161.1" class="tl" text-anchor="middle">0</text>
<text x="162.7" y="1161.1" class="tl" text-anchor="middle">30</text>
<text x="226.9" y="1161.1" class="tl" text-anchor="middle">60</text>
<text x="291.2" y="1161.1" class="tl" text-anchor="middle">90</text>
<text x="355.4" y="1161.1" class="tl" text-anchor="middle">120</text>
<text x="419.7" y="1161.1" class="tl" text-anchor="middle">150</text>
<text transform="translate(82.6 1141.1) rotate(-90) scale(1 1.3)" class="tly" text-anchor="middle">0</text>
<text transform="translate(82.6 1105) rotate(-90) scale(1 1.3)" class="tly" text-anchor="middle">100</text>
<text transform="translate(82.6 1069) rotate(-90) scale(1 1.3)" class="tly" text-anchor="middle">200</text>
<text transform="translate(82.6 1032.9) rotate(-90) scale(1 1.3)" class="tly" text-anchor="middle">300</text>
<text transform="translate(82.6 996.9) rotate(-90) scale(1 1.3)" class="tly" text-anchor="middle">400</text>
<text transform="translate(82.6 960.8) rotate(-90) scale(1 1.3)" class="tly" text-anchor="middle">500</text>
<text transform="translate(82.6 924.8) rotate(-90) scale(1 1.3)" class="tly" text-anchor="middle">600</text>
<path d="M209.8 1141.9l4.7 7.5h-9.4z" fill="#000"/>
<path d="M303 1141.9l4.7 7.5h-9.4z" fill="#000"/>
<text x="239.2" y="871.9" class="t">G1:54.4%</text>
<text x="239.3" y="921.5" class="t">S:27.8%</text>
<text x="239.2" y="970.3" class="t">G2/M:17.8%</text>
<text x="213.1" y="1192.2" class="t">Mock</text>
<clipPath id="c9"><rect x="488.8" y="901" width="326" height="240.3"/></clipPath>
<g clip-path="url(#c9)">
<path d="M561.2 1141.3L566.6 1141.1L569.3 1140.6L571.4 1139.5L573 1137.8L574.7 1134.8L575.7 1131.9L577.4 1125.4L578.4 1119.4L580.6 1102.1L582.8 1077.1L590.3 959L592.5 939L593.6 935.1L594.1 934.7L594.6 935.5L595.7 940.3L597.3 955.1L599 977L605.4 1080L607.6 1104.2L609.8 1120.7L610.8 1126.4L612.5 1132.6L613.5 1135.3L615.2 1138.1L616.8 1139.6L618.9 1140.7L621.6 1141.1L627 1141.3Z" fill="#f80303"/>
<path d="M630.8 1141.3L645.4 1141.2L653 1140.7L658.4 1139.7L663.2 1137.7L667.5 1134.5L671.3 1130.6L674.6 1126.4L682.1 1115.5L685.4 1111.6L688.6 1108.9L690.2 1108.2L691.8 1108L693.5 1108.2L695.1 1108.9L698.3 1111.6L701.6 1115.5L709.1 1126.4L712.4 1130.6L716.1 1134.5L720.5 1137.7L725.3 1139.7L730.7 1140.7L738.3 1141.2L752.9 1141.3Z" fill="#f80303"/>
<path d="M567.6 1141.3L579.5 1141L582.8 1140.5L585.5 1139.5L589.8 1136.4L596.8 1129L599.5 1126.5L602.2 1124.7L604.9 1123.7L611.4 1122.8L628.7 1122.8L660.5 1122.9L667 1123.2L672.4 1123.8L677.3 1124.9L682.1 1126.7L687 1129.2L699.4 1136.3L703.7 1138.2L708 1139.6L712.9 1140.5L718.8 1141L740.4 1141.3Z" fill="url(#hA)"/>
<path d="M567.6 1141.3L579.5 1141L582.8 1140.5L585.5 1139.5L589.8 1136.4L596.8 1129L599.5 1126.5L602.2 1124.7L604.9 1123.7L611.4 1122.8L628.7 1122.8L660.5 1122.9L667 1123.2L672.4 1123.8L677.3 1124.9L682.1 1126.7L687 1129.2L699.4 1136.3L703.7 1138.2L708 1139.6L712.9 1140.5L718.8 1141L740.4 1141.3" class="sl"/>
<path d="M561.2 1141.3L566.6 1141.1L569.3 1140.6L571.4 1139.5L573 1137.8L574.7 1134.8L575.7 1131.9L577.4 1125.4L578.4 1119.4L580.6 1102.1L582.8 1077.1L590.3 959L592.5 939L593.6 935.1L594.1 934.7L594.6 935.5L595.7 940.3L597.3 955.1L599 977L605.4 1080L607.6 1104.2L609.8 1120.7L610.8 1126.4L612.5 1132.6L613.5 1135.3L615.2 1138.1L616.8 1139.6L618.9 1140.7L621.6 1141.1L627 1141.3" class="pk"/>
<path d="M630.8 1141.3L645.4 1141.2L653 1140.7L658.4 1139.7L663.2 1137.7L667.5 1134.5L671.3 1130.6L674.6 1126.4L682.1 1115.5L685.4 1111.6L688.6 1108.9L690.2 1108.2L691.8 1108L693.5 1108.2L695.1 1108.9L698.3 1111.6L701.6 1115.5L709.1 1126.4L712.4 1130.6L716.1 1134.5L720.5 1137.7L725.3 1139.7L730.7 1140.7L738.3 1141.2L752.9 1141.3" class="pk"/>
<path d="M488.8 1141.3L566.6 1141.1L570.9 1140.2L572 1139.6L574.1 1136.5L576.3 1129.4L577.4 1124.5L579.5 1111L580.6 1101.2L583.8 1061.5L587.1 1003L590.3 951.4L592.5 926L593.6 920.6L594.6 921.1L595.7 924.6L597.9 944.3L604.4 1041.5L606.5 1068L608.7 1088.3L610.8 1099.6L613 1106.7L616.2 1114.6L618.4 1117L619.5 1117.8L620.6 1117.6L622.7 1119.4L623.8 1119.9L624.9 1118.9L626 1119.3L627 1120.7L630.3 1121.3L631.4 1122.4L632.4 1122.5L633.5 1121.9L634.6 1122L635.7 1123.2L637.8 1123.6L638.9 1123.6L640 1122.2L641.1 1122.2L642.2 1123.3L645.4 1122.8L646.5 1121.5L647.6 1121.4L648.6 1120.8L649.7 1120.7L650.8 1122L651.9 1121.9L653 1122.2L654 1122.1L655.1 1120.8L658.4 1119.9L659.4 1120L660.5 1119.6L661.6 1120.4L664.8 1118.4L665.9 1116.2L667 1115.4L668.1 1116.5L669.2 1115.6L670.2 1113.4L671.3 1112.3L672.4 1110L675.6 1106.4L676.7 1106.8L678.9 1103.9L682.1 1100.4L683.2 1100.4L684.3 1099.6L685.4 1097.6L686.4 1097.2L687.5 1097.9L688.6 1097.8L689.7 1096.3L690.8 1096.7L691.8 1099.1L694 1100.3L698.3 1105.3L699.4 1107.1L700.5 1111.5L701.6 1113.4L702.6 1112L705.9 1119.2L708 1122.7L709.1 1123.6L711.3 1128L712.4 1129.5L716.7 1134.4L719.9 1136.3L723.2 1136.9L724.2 1137.6L725.3 1137.7L726.4 1138.2L727.5 1138.1L728.6 1137.3L729.6 1137.1L730.7 1137.8L731.8 1137.6L732.9 1136.9L736.1 1137.2L737.2 1137.7L738.3 1137.7L739.4 1137.3L746.9 1137.7L748 1137.2L750.2 1137.1L751.2 1137.1L752.3 1137.6L759.9 1137.5L761 1137.1L764.2 1137.5L765.3 1137L766.4 1137L767.4 1137.9L770.7 1137.8L771.8 1137.1L772.8 1137.1L773.9 1137.4L775 1141.3L812.8 1141.3" class="raw"/>
<path d="M488.8 1141.3L565.5 1141.2L568.7 1140.7L570.9 1139.8L572.5 1138.4L574.1 1136L576.3 1130L577.9 1122.4L579.5 1111.4L581.1 1096.1L583.8 1060.7L590.3 953.6L592.5 931.4L593.6 926.3L594.1 925.3L594.6 925.5L595.7 929.2L596.8 936.9L597.9 948.3L604.4 1047.6L607.6 1086L609.2 1098.9L611.4 1110.3L613.5 1116.8L615.7 1120.1L617.3 1121.4L618.9 1122.1L624.3 1122.7L648.6 1122.5L654.6 1122L658.9 1121L663.8 1119L668.6 1115.5L672.4 1111.8L680 1103.1L683.2 1100L686.4 1098.1L689.1 1097.8L690.8 1098.2L692.9 1099.5L696.7 1103.7L699.9 1108.7L709.1 1125L714 1131.8L718.8 1136.4L721.5 1138.1L724.2 1139.3L730.2 1140.7L738.8 1141.2L812.8 1141.3" class="sum"/>
</g>
<path d="M488.8 904V1141.3H812.8" class="ax"/>
<path d="M488.8 1141.3v8M501.8 1141.3v4M514.7 1141.3v4M527.7 1141.3v4M540.6 1141.3v4M553.6 1141.3v8M566.6 1141.3v4M579.5 1141.3v4M592.5 1141.3v4M605.4 1141.3v4M618.4 1141.3v8M631.4 1141.3v4M644.3 1141.3v4M657.3 1141.3v4M670.2 1141.3v4M683.2 1141.3v8M696.2 1141.3v4M709.1 1141.3v4M722.1 1141.3v4M735 1141.3v4M748 1141.3v8M761 1141.3v4M773.9 1141.3v4M786.9 1141.3v4M799.8 1141.3v4M812.8 1141.3v8M488.8 1141.3h-10M488.8 1129.1h-4M488.8 1117h-4M488.8 1104.8h-4M488.8 1092.7h-4M488.8 1080.5h-10M488.8 1068.3h-4M488.8 1056.2h-4M488.8 1044h-4M488.8 1031.9h-4M488.8 1019.7h-10M488.8 1007.5h-4M488.8 995.4h-4M488.8 983.2h-4M488.8 971.1h-4M488.8 958.9h-10M488.8 946.7h-4M488.8 934.6h-4M488.8 922.4h-4M488.8 910.3h-4" class="tk"/>
<text x="488.8" y="1161.3" class="tl" text-anchor="middle">0</text>
<text x="553.6" y="1161.3" class="tl" text-anchor="middle">30</text>
<text x="618.4" y="1161.3" class="tl" text-anchor="middle">60</text>
<text x="683.2" y="1161.3" class="tl" text-anchor="middle">90</text>
<text x="748" y="1161.3" class="tl" text-anchor="middle">120</text>
<text x="812.8" y="1161.3" class="tl" text-anchor="middle">150</text>
<text transform="translate(473 1141.3) rotate(-90) scale(1 1.3)" class="tly" text-anchor="middle">0</text>
<text transform="translate(473 1080.5) rotate(-90) scale(1 1.3)" class="tly" text-anchor="middle">200</text>
<text transform="translate(473 1019.7) rotate(-90) scale(1 1.3)" class="tly" text-anchor="middle">400</text>
<text transform="translate(473 958.9) rotate(-90) scale(1 1.3)" class="tly" text-anchor="middle">600</text>
<path d="M594 1142.1l4.7 7.5h-9.4z" fill="#000"/>
<text x="620.9" y="872" class="t">G1:55.4%</text>
<text x="621" y="921.3" class="t">S:27.4%</text>
<text x="620.9" y="970.7" class="t">G2/M:17.2%</text>
<text x="628.5" y="1192" class="t">NC</text>
<clipPath id="c10"><rect x="865.2" y="901.1" width="322.5" height="239.2"/></clipPath>
<g clip-path="url(#c10)">
<path d="M940.5 1140.3L945.9 1140.1L948.5 1139.6L950.7 1138.6L952.3 1137.1L953.9 1134.5L955.5 1130.1L957.1 1123.2L958.1 1116.9L960.8 1093.1L963 1064.8L970.4 935.2L972.6 913.2L973.6 908.5L974.2 907.9L974.7 908.5L975.8 913.2L977.9 935.2L985.4 1064.8L987.5 1093.1L990.2 1116.9L991.3 1123.2L992.9 1130.1L994.5 1134.5L996.1 1137.1L997.7 1138.6L999.8 1139.6L1002.5 1140.1L1007.8 1140.3Z" fill="#f80303"/>
<path d="M1016.4 1140.3L1037.7 1139.9L1043.1 1139.2L1047.9 1137.8L1052.2 1135.6L1055.9 1132.8L1059.6 1129.3L1067.1 1121.4L1070.3 1118.6L1073.5 1116.8L1076.7 1116.2L1079.9 1116.9L1083.1 1118.9L1086.3 1121.8L1097 1132.7L1100.8 1135.5L1105 1137.7L1109.8 1139.2L1115.2 1139.9L1137.1 1140.3Z" fill="#f80303"/>
<path d="M947.5 1140.3L965.1 1140L969.9 1139.3L979.5 1137.3L985.4 1136.7L1012.1 1136.5L1057 1136.7L1067.1 1137.3L1084.2 1139.3L1092.2 1139.9L1124.8 1140.3" class="sl"/>
<path d="M940.5 1140.3L945.3 1140.2L948.5 1139.6L950.7 1138.6L952.3 1137.1L953.9 1134.5L955.5 1130.1L957.1 1123.2L958.1 1116.9L960.8 1093.1L963 1064.8L970.4 935.2L972.6 913.2L973.6 908.5L974.2 907.9L974.7 908.5L975.8 913.2L977.9 935.2L985.4 1064.8L987.5 1093.1L990.2 1116.9L991.3 1123.2L992.9 1130.1L994.5 1134.5L996.1 1137.1L997.7 1138.6L999.8 1139.6L1003 1140.2L1007.8 1140.3" class="pk"/>
<path d="M1016.4 1140.3L1037.7 1139.9L1043.1 1139.2L1047.9 1137.8L1052.2 1135.6L1055.9 1132.8L1059.6 1129.3L1067.1 1121.4L1070.3 1118.6L1073.5 1116.8L1076.7 1116.2L1079.9 1116.9L1083.1 1118.9L1086.3 1121.8L1097 1132.7L1100.8 1135.5L1105 1137.7L1109.8 1139.2L1115.2 1139.9L1137.1 1140.3" class="pk"/>
<path d="M865.2 1140.3L945.3 1140.2L949.6 1139.5L951.7 1137.8L954.9 1131.7L956 1127.9L958.1 1116L961.4 1086.9L965.6 1017.8L968.8 952.3L972 909.9L973.1 902.6L974.2 902.1L975.2 903.5L976.3 908.4L977.4 919.5L980.6 971.1L983.8 1033.2L988.1 1093.5L989.1 1104.2L991.3 1119.8L992.3 1124.7L995.5 1132.1L996.6 1133.4L997.7 1133.5L998.7 1134.2L999.8 1136L1000.9 1136.2L1001.9 1135.8L1011.6 1136.3L1012.6 1136.8L1015.8 1137L1018 1136.6L1019 1136.1L1020.1 1136.1L1021.2 1135.5L1032.9 1136.2L1035.1 1135.7L1036.1 1135.1L1037.2 1135L1038.3 1136.2L1041.5 1136.1L1042.5 1134L1043.6 1133.8L1044.7 1134.8L1050 1132.3L1051.1 1133.2L1052.2 1132.6L1053.2 1129.1L1056.4 1127.1L1057.5 1127.4L1060.7 1123.8L1061.8 1123.2L1062.8 1122.1L1063.9 1121.9L1065 1120.9L1066 1119.1L1070.3 1114.4L1071.4 1113.7L1073.5 1113.3L1074.6 1113.7L1075.7 1113.6L1076.7 1112.4L1077.8 1112.7L1078.9 1115.2L1079.9 1115.7L1081 1114.9L1084.2 1117.3L1085.3 1119.7L1086.3 1120.9L1087.4 1123.5L1088.5 1124.7L1089.5 1125.1L1090.6 1126.4L1091.7 1126.6L1094.9 1129.9L1096 1130.2L1097 1131.2L1098.1 1134.1L1099.2 1134.9L1100.2 1135L1105.6 1137.7L1106.6 1138.9L1107.7 1139L1108.8 1138.1L1109.8 1138.2L1110.9 1137.9L1114.1 1138.4L1115.2 1139L1121.6 1138.6L1125.9 1139L1146.2 1139L1147.2 1139.2L1148.3 1140.3L1185.7 1140.3" class="raw"/>
<path d="M865.2 1140.3L945.3 1140.2L948.5 1139.6L950.7 1138.6L952.3 1137.1L953.9 1134.5L956 1128.1L957.6 1120.2L959.2 1108.8L960.8 1093L964 1047.5L970.4 934.1L972.6 911.6L973.6 906.7L974.2 906L974.7 906.5L975.8 910.9L977.9 932.5L984.9 1052.9L988.1 1095.1L989.7 1109.3L991.8 1122.1L993.9 1129.4L995 1131.7L996.6 1133.9L998.2 1135.2L999.8 1135.8L1005.2 1136.4L1033.5 1136.3L1039.9 1135.9L1044.7 1135L1049 1133.6L1053.2 1131.2L1058 1127.3L1068.7 1117.1L1072.5 1114.8L1075.7 1114.2L1078.9 1114.9L1082.6 1117.3L1085.8 1120.4L1094.4 1130L1099.2 1134.3L1104 1137.2L1108.8 1138.9L1114.7 1139.9L1122.7 1140.2L1185.7 1140.3" class="sum"/>
</g>
<path d="M865.2 904.1V1140.3H1185.7" class="ax"/>
<path d="M865.2 1140.3v8M878 1140.3v4M890.8 1140.3v4M903.7 1140.3v4M916.5 1140.3v4M929.3 1140.3v8M942.1 1140.3v4M954.9 1140.3v4M967.8 1140.3v4M980.6 1140.3v4M993.4 1140.3v8M1006.2 1140.3v4M1019 1140.3v4M1031.9 1140.3v4M1044.7 1140.3v4M1057.5 1140.3v8M1070.3 1140.3v4M1083.1 1140.3v4M1096 1140.3v4M1108.8 1140.3v4M1121.6 1140.3v8M1134.4 1140.3v4M1147.2 1140.3v4M1160.1 1140.3v4M1172.9 1140.3v4M1185.7 1140.3v8M865.2 1140.3h-10M865.2 1127.6h-4M865.2 1114.9h-4M865.2 1102.2h-4M865.2 1089.5h-4M865.2 1076.8h-10M865.2 1064.1h-4M865.2 1051.4h-4M865.2 1038.7h-4M865.2 1026h-4M865.2 1013.3h-10M865.2 1000.6h-4M865.2 987.9h-4M865.2 975.2h-4M865.2 962.5h-4M865.2 949.8h-10M865.2 937.1h-4M865.2 924.4h-4M865.2 911.7h-4" class="tk"/>
<text x="865.2" y="1160.3" class="tl" text-anchor="middle">0</text>
<text x="929.3" y="1160.3" class="tl" text-anchor="middle">30</text>
<text x="993.4" y="1160.3" class="tl" text-anchor="middle">60</text>
<text x="1057.5" y="1160.3" class="tl" text-anchor="middle">90</text>
<text x="1121.6" y="1160.3" class="tl" text-anchor="middle">120</text>
<text x="1185.7" y="1160.3" class="tl" text-anchor="middle">150</text>
<text transform="translate(849.4 1140.3) rotate(-90) scale(1 1.3)" class="tly" text-anchor="middle">0</text>
<text transform="translate(849.4 1076.8) rotate(-90) scale(1 1.3)" class="tly" text-anchor="middle">200</text>
<text transform="translate(849.4 1013.3) rotate(-90) scale(1 1.3)" class="tly" text-anchor="middle">400</text>
<text transform="translate(849.4 949.8) rotate(-90) scale(1 1.3)" class="tly" text-anchor="middle">600</text>
<path d="M972 1141.1l4.7 7.5h-9.4z" fill="#000"/>
<path d="M1082.1 1141.1l4.7 7.5h-9.4z" fill="#000"/>
<text x="1001.1" y="872.4" class="t">G1:78.2%</text>
<text x="1001.2" y="920.6" class="t">S:6.5%</text>
<text x="1001.1" y="970.2" class="t">G2/M:15.3%</text>
<text x="998" y="1192.4" class="t">si-P1</text>
<clipPath id="c11"><rect x="1232.9" y="901.1" width="304.7" height="242.3"/></clipPath>
<g clip-path="url(#c11)">
<path d="M1302 1143.4L1306.6 1143.2L1309.1 1142.6L1311.1 1141.2L1312.6 1139.2L1314.1 1135.5L1315.1 1131.8L1316.6 1123.7L1317.7 1116L1319.7 1094.1L1321.7 1062.4L1328.3 928.2L1329.8 908.5L1330.8 902.1L1332.3 902.1L1332.8 903.6L1334.3 919.2L1336.3 954.2L1341.9 1069.5L1343.9 1099.2L1345.9 1119.3L1346.9 1126.2L1348.4 1133.5L1349.4 1136.7L1351 1139.9L1352.5 1141.6L1354.5 1142.7L1357 1143.2L1361.5 1143.4Z" fill="#f80303"/>
<path d="M1371.1 1143.4L1390.3 1143L1395.3 1142.2L1399.4 1140.9L1403.4 1138.5L1407 1135.5L1416.5 1124.3L1419.6 1121.3L1422.6 1119.3L1425.1 1118.7L1427.6 1119.2L1430.7 1121.1L1433.7 1124.1L1443.8 1135.8L1447.3 1138.7L1450.8 1140.8L1454.9 1142.2L1459.9 1143L1479.6 1143.4Z" fill="#f80303"/>
<path d="M1308.1 1143.4L1318.7 1143.3L1323.7 1142.9L1327.7 1141.9L1336.3 1138.9L1341.4 1138L1347.4 1137.7L1368.6 1137.7L1407.5 1138L1416.5 1138.9L1431.7 1141.8L1439.2 1142.8L1448.8 1143.3L1468.5 1143.4" class="sl"/>
<path d="M1302 1143.4L1306.1 1143.2L1308.6 1142.8L1310.6 1141.7L1312.1 1140L1313.6 1137L1314.6 1133.8L1316.1 1126.8L1317.2 1120.1L1319.2 1100.5L1321.2 1071.3L1326.7 956.2L1328.8 920.6L1330.3 904.3L1330.8 902.1L1332.3 902.1L1332.8 903.6L1333.3 907.5L1334.8 926.6L1341.9 1069.5L1343.9 1099.2L1345.9 1119.3L1346.9 1126.2L1348.4 1133.5L1349.4 1136.7L1351 1139.9L1352.5 1141.6L1354.5 1142.7L1357 1143.2L1361.5 1143.4" class="pk"/>
<path d="M1371.1 1143.4L1390.3 1143L1395.3 1142.2L1399.4 1140.9L1403.4 1138.5L1407 1135.5L1416.5 1124.3L1419.6 1121.3L1422.6 1119.3L1425.1 1118.7L1427.6 1119.2L1430.7 1121.1L1433.7 1124.1L1443.8 1135.8L1447.3 1138.7L1450.8 1140.8L1454.9 1142.2L1459.9 1143L1479.6 1143.4" class="pk"/>
<path d="M1232.9 1143.4L1305.5 1143.3L1308.6 1142.8L1309.6 1142.2L1310.6 1141.4L1312.6 1138.1L1313.6 1137.4L1314.6 1134.3L1317.7 1116.3L1319.7 1093.7L1322.7 1041L1326.7 952L1329.8 902.1L1332.8 902.1L1333.8 905.5L1335.8 934.5L1340.9 1045.8L1342.9 1078.1L1344.9 1103.5L1346.9 1120.8L1349.9 1131.7L1352 1136.1L1353 1136.9L1354 1135.4L1355 1135.8L1356 1137L1357 1137.2L1358 1138.2L1359 1138.3L1360 1137.2L1363.1 1137.4L1364.1 1136.8L1365.1 1136.9L1366.1 1138.5L1367.1 1138.5L1368.1 1136.8L1375.2 1137.1L1376.2 1136.6L1381.2 1137.4L1382.2 1138.1L1383.2 1138.1L1384.2 1136.7L1390.3 1137L1393.3 1136.2L1394.3 1138.4L1395.3 1138.2L1396.4 1135.9L1397.4 1135.5L1398.4 1137.3L1399.4 1136.9L1400.4 1134.3L1401.4 1133.8L1403.4 1131.8L1404.4 1130.4L1405.4 1129.6L1406.4 1130.6L1407.5 1129.6L1408.5 1127.9L1411.5 1124.9L1412.5 1125.7L1413.5 1124.6L1414.5 1120.8L1415.5 1119.6L1416.5 1119.3L1419.6 1116.6L1420.6 1117L1421.6 1116.5L1422.6 1115.3L1424.6 1115.1L1425.6 1115.3L1426.6 1114.5L1427.6 1115L1428.6 1116.7L1429.7 1117.5L1430.7 1115.5L1431.7 1116.6L1432.7 1121.5L1437.7 1127.9L1439.7 1131.2L1440.8 1130.7L1441.8 1131.9L1442.8 1133.8L1443.8 1134.9L1444.8 1137.3L1445.8 1138.2L1446.8 1138L1447.8 1138.8L1448.8 1138.9L1449.8 1139.5L1450.8 1141.1L1451.9 1141.4L1452.9 1141.1L1455.9 1141.8L1456.9 1141.1L1457.9 1141.2L1458.9 1141.8L1460.9 1142L1465 1141.8L1468 1142.2L1470 1141.9L1471 1142.3L1482.1 1142.1L1486.2 1142.3L1487.2 1142L1490.2 1142L1496.2 1142.4L1498.3 1142.1L1499.3 1142.3L1500.3 1143.4L1535.6 1143.4" class="raw"/>
<path d="M1232.9 1143.4L1306.1 1143.2L1308.6 1142.8L1310.6 1141.7L1312.1 1140L1313.6 1137L1315.6 1129.5L1317.2 1120L1318.7 1106.1L1320.2 1086.9L1322.7 1042.8L1327.7 935.3L1329.3 912L1330.3 902.1L1332.8 902.1L1333.3 904L1334.3 915.3L1336.3 949.7L1341.4 1055.2L1344.4 1099.5L1345.9 1113.6L1347.4 1123.3L1349.4 1131L1351.5 1134.8L1353 1136.3L1354.5 1137L1359 1137.6L1385.8 1137.6L1391.3 1137.2L1395.9 1136.4L1399.9 1135L1403.9 1132.6L1408 1129.1L1418.1 1118.4L1421.1 1116.4L1424.1 1115.7L1427.1 1116.6L1430.7 1119.3L1433.7 1122.8L1441.3 1132.7L1445.8 1137.4L1450.3 1140.5L1454.9 1142.2L1459.9 1143L1467.5 1143.3L1535.6 1143.4" class="sum"/>
</g>
<path d="M1232.9 904.1V1143.4H1535.6" class="ax"/>
<path d="M1232.9 1143.4v8M1245 1143.4v4M1257.1 1143.4v4M1269.2 1143.4v4M1281.3 1143.4v4M1293.4 1143.4v8M1305.5 1143.4v4M1317.7 1143.4v4M1329.8 1143.4v4M1341.9 1143.4v4M1354 1143.4v8M1366.1 1143.4v4M1378.2 1143.4v4M1390.3 1143.4v4M1402.4 1143.4v4M1414.5 1143.4v8M1426.6 1143.4v4M1438.7 1143.4v4M1450.8 1143.4v4M1463 1143.4v4M1475.1 1143.4v8M1487.2 1143.4v4M1499.3 1143.4v4M1511.4 1143.4v4M1523.5 1143.4v4M1535.6 1143.4v8M1232.9 1143.4h-10M1232.9 1131.4h-4M1232.9 1119.3h-4M1232.9 1107.3h-4M1232.9 1095.2h-4M1232.9 1083.2h-10M1232.9 1071.2h-4M1232.9 1059.1h-4M1232.9 1047.1h-4M1232.9 1035h-4M1232.9 1023h-10M1232.9 1011h-4M1232.9 998.9h-4M1232.9 986.9h-4M1232.9 974.8h-4M1232.9 962.8h-10M1232.9 950.8h-4M1232.9 938.7h-4M1232.9 926.7h-4M1232.9 914.6h-4" class="tk"/>
<text x="1232.9" y="1163.4" class="tl" text-anchor="middle">0</text>
<text x="1293.4" y="1163.4" class="tl" text-anchor="middle">30</text>
<text x="1354" y="1163.4" class="tl" text-anchor="middle">60</text>
<text x="1414.5" y="1163.4" class="tl" text-anchor="middle">90</text>
<text x="1475.1" y="1163.4" class="tl" text-anchor="middle">120</text>
<text x="1535.6" y="1163.4" class="tl" text-anchor="middle">150</text>
<text transform="translate(1217.1 1143.4) rotate(-90) scale(1 1.3)" class="tly" text-anchor="middle">0</text>
<text transform="translate(1217.1 1083.2) rotate(-90) scale(1 1.3)" class="tly" text-anchor="middle">200</text>
<text transform="translate(1217.1 1023) rotate(-90) scale(1 1.3)" class="tly" text-anchor="middle">400</text>
<text transform="translate(1217.1 962.8) rotate(-90) scale(1 1.3)" class="tly" text-anchor="middle">600</text>
<path d="M1332.8 1144.2l4.7 7.5h-9.4z" fill="#000"/>
<path d="M1428.6 1144.2l4.7 7.5h-9.4z" fill="#000"/>
<text x="1361.6" y="871.9" class="t">G1:76.3%</text>
<text x="1361.7" y="921.4" class="t">S:8.6%</text>
<text x="1361.6" y="970.7" class="t">G2/M:15.1%</text>
<text x="1339.6" y="1192.4" class="t">si-P2</text>
<clipPath id="c12"><rect x="103.5" y="1285.2" width="328.2" height="240.5"/></clipPath>
<g clip-path="url(#c12)">
<path d="M178 1525.7L183.4 1525.6L186.7 1525.1L188.9 1524.2L191 1522.3L192.7 1519.7L194.3 1515.6L195.9 1509.3L197 1503.6L199.7 1482.8L201.9 1458.5L208.4 1358.9L210.6 1330.6L211.7 1320.3L212.8 1313.5L213.9 1310.3L214.4 1310.2L215 1311.1L216 1315.8L218.2 1335.5L226.4 1457.1L228.5 1481.8L231.3 1503L234 1515.2L235.6 1519.5L237.2 1522.1L239.4 1524.1L241.6 1525L244.9 1525.5L250.3 1525.7Z" fill="#f80303"/>
<path d="M249.7 1525.7L265 1525.4L269.3 1524.8L273.1 1523.8L276.4 1522.2L279.6 1519.6L282.4 1516.2L284.5 1512.6L287.3 1506.6L289.4 1500.5L293.8 1484.7L297.6 1467.1L305.7 1425L309 1410.9L311.2 1403.7L312.8 1399.8L314.4 1397.4L316.1 1396.5L317.7 1397.2L319.3 1399.4L321 1403.1L323.1 1410L326.9 1426.6L335.1 1468.7L338.9 1486L343.3 1501.5L345.4 1507.4L347.6 1512.2L349.8 1515.9L352.5 1519.4L355.8 1522.1L359 1523.8L362.8 1524.8L367.2 1525.4L382.4 1525.7Z" fill="#f80303"/>
<path d="M185.6 1525.7L193.7 1525.6L198.1 1525.1L201.9 1523.7L204.6 1521.6L206.8 1518.9L209.5 1514.3L217.1 1496.7L219.8 1491.2L222.6 1487.1L225.8 1484L228.5 1482.7L232.3 1481.9L248.7 1481.6L280.2 1481.9L287.3 1482.7L293.2 1484.2L299.2 1487.1L304.7 1491.1L310.1 1496.6L321 1509.3L325.3 1514L330.2 1518.3L335.1 1521.4L341.1 1523.7L348.1 1525.1L356.8 1525.6L374.2 1525.7Z" fill="url(#hB)"/>
<path d="M185.6 1525.7L193.7 1525.6L198.1 1525.1L201.9 1523.7L204.6 1521.6L206.8 1518.9L209.5 1514.3L217.1 1496.7L219.8 1491.2L222.6 1487.1L225.8 1484L228.5 1482.7L232.3 1481.9L248.7 1481.6L280.2 1481.9L287.3 1482.7L293.2 1484.2L299.2 1487.1L304.7 1491.1L310.1 1496.6L321 1509.3L325.3 1514L330.2 1518.3L335.1 1521.4L341.1 1523.7L348.1 1525.1L356.8 1525.6L374.2 1525.7" class="sl"/>
<path d="M178 1525.7L183.4 1525.6L186.7 1525.1L188.9 1524.2L191 1522.3L192.7 1519.7L194.3 1515.6L195.9 1509.3L197 1503.6L199.7 1482.8L201.9 1458.5L208.4 1358.9L210.6 1330.6L211.7 1320.3L212.8 1313.5L213.9 1310.3L214.4 1310.2L215 1311.1L216 1315.8L218.2 1335.5L226.4 1457.1L228.5 1481.8L231.3 1503L234 1515.2L235.6 1519.5L237.2 1522.1L239.4 1524.1L241.6 1525L244.9 1525.5L250.3 1525.7" class="pk"/>
<path d="M249.7 1525.7L265 1525.4L269.3 1524.8L273.1 1523.8L276.4 1522.2L279.6 1519.6L282.4 1516.2L284.5 1512.6L287.3 1506.6L289.4 1500.5L293.8 1484.7L297.6 1467.1L305.7 1425L309 1410.9L311.2 1403.7L312.8 1399.8L314.4 1397.4L316.1 1396.5L317.7 1397.2L319.3 1399.4L321 1403.1L323.1 1410L326.9 1426.6L335.1 1468.7L338.9 1486L343.3 1501.5L345.4 1507.4L347.6 1512.2L349.8 1515.9L352.5 1519.4L355.8 1522.1L359 1523.8L362.8 1524.8L367.2 1525.4L382.4 1525.7" class="pk"/>
<path d="M103.5 1525.7L177.4 1525.7L182.9 1525.5L185.1 1525.7L186.1 1524.6L187.2 1524.1L188.3 1524.5L189.4 1523.9L190.5 1524.8L191.6 1524.2L192.7 1520.8L193.7 1518.6L194.8 1509.9L195.9 1505.1L198.1 1490.7L199.2 1488.8L200.3 1478L204.6 1411L206.8 1367.1L207.9 1355.5L210.1 1312.2L211.1 1297.3L212.2 1299.2L213.3 1288.7L214.4 1286.2L218.8 1286.2L219.8 1293.7L222 1345.5L225.3 1396.5L226.4 1410.9L228.5 1432.1L231.8 1457.8L232.9 1463L235.1 1468.7L236.2 1476.8L238.3 1480.4L239.4 1481.2L240.5 1490.2L241.6 1490.6L242.7 1477.9L243.8 1478L244.9 1479.9L245.9 1480L247 1477.7L248.1 1477.7L249.2 1488.9L250.3 1488.9L251.4 1482.5L254.6 1482.8L255.7 1488.6L256.8 1488.6L257.9 1475.9L259 1475.9L260.1 1474.4L261.2 1474.4L262.3 1486L263.3 1486L264.4 1477.8L265.5 1477.8L266.6 1471.7L267.7 1471.5L268.8 1485.2L269.9 1485L270.9 1474.4L272 1474.1L273.1 1470.9L274.2 1470.4L275.3 1468.6L276.4 1467.9L277.5 1482.6L278.6 1481.7L279.6 1479.3L280.7 1478.1L281.8 1470.4L282.9 1468.5L284 1461.4L285.1 1458.8L286.2 1468.2L287.3 1464.7L288.3 1457.9L290.5 1449.8L291.6 1444.1L292.7 1425.4L293.8 1419.2L294.9 1423L296 1417.4L297 1405.3L300.3 1392.7L301.4 1386.3L302.5 1383.4L303.6 1385.5L306.8 1378L307.9 1370L309 1367.5L310.1 1369.9L311.2 1368L312.3 1377.7L313.4 1374.3L314.4 1363.1L315.5 1355.9L316.6 1343.3L317.7 1349.2L318.8 1365.1L321 1384.5L322.1 1389.8L323.1 1391.1L324.2 1396.7L325.3 1383.5L326.4 1390L327.5 1417.1L328.6 1423.6L329.7 1427.3L332.9 1447.5L334 1457.8L335.1 1464L336.2 1462.5L340.5 1487.3L341.6 1491.6L342.7 1503L343.8 1506.4L344.9 1499.1L347.1 1505.8L348.1 1507.5L349.2 1511.9L350.3 1513L351.4 1523L352.5 1523.5L353.6 1514.7L354.7 1515L355.8 1519.1L356.8 1519.1L357.9 1515.5L359 1515.4L360.1 1516.8L361.2 1516.4L362.3 1517.1L363.4 1517.3L364.5 1514.7L365.5 1514.9L366.6 1516.3L367.7 1516.4L368.8 1514.8L369.9 1514.9L371 1518.2L372.1 1518.2L373.2 1517.1L374.2 1517.1L375.3 1514.9L376.4 1514.9L377.5 1516.4L378.6 1516.4L379.7 1518L381.9 1518.2L385.1 1517.8L386.2 1517L387.3 1517L388.4 1515.9L389.5 1515.9L390.6 1516.7L391.6 1525.7L429.7 1525.7" class="raw"/>
<path d="M103.5 1525.7L183.4 1525.6L186.7 1525.1L188.9 1524.2L191 1522.2L192.7 1519.6L194.8 1513.6L197 1503.3L198.6 1491.7L200.3 1476.2L203.5 1432.9L210.6 1316.9L212.8 1294.8L213.9 1289.1L214.4 1287.7L215 1287.2L215.5 1287.8L216.6 1291.7L218.8 1309.8L225.8 1408.2L229.1 1443.7L230.7 1456L232.9 1467.4L235.1 1474.3L236.2 1476.5L237.8 1478.7L240.5 1480.6L244.9 1481.5L259.5 1481.5L268.2 1481L272.6 1480L276.4 1478.3L279.6 1475.8L282.4 1472.6L285.1 1468.2L287.3 1463.6L290 1456.4L292.2 1449.3L296.5 1432.3L304.7 1395.8L307.9 1383.7L309.5 1379.1L311.2 1375.8L312.8 1373.8L314.4 1373.3L316.1 1374.3L318.2 1378.2L320.4 1384.7L322.6 1393.5L326.4 1413.3L335.6 1467.3L338.4 1480.9L341.1 1492.4L343.3 1500.1L346 1507.8L348.7 1513.6L351.4 1517.8L354.1 1520.7L357.4 1522.9L361.2 1524.4L366.1 1525.3L377.5 1525.7L429.7 1525.7" class="sum"/>
</g>
<path d="M103.5 1288.2V1525.7H429.7" class="ax"/>
<path d="M103.5 1525.7v8M116.5 1525.7v4M129.6 1525.7v4M142.6 1525.7v4M155.7 1525.7v4M168.7 1525.7v8M181.8 1525.7v4M194.8 1525.7v4M207.9 1525.7v4M220.9 1525.7v4M234 1525.7v8M247 1525.7v4M260.1 1525.7v4M273.1 1525.7v4M286.2 1525.7v4M299.2 1525.7v8M312.3 1525.7v4M325.3 1525.7v4M338.4 1525.7v4M351.4 1525.7v4M364.5 1525.7v8M377.5 1525.7v4M390.6 1525.7v4M403.6 1525.7v4M416.7 1525.7v4M429.7 1525.7v8M103.5 1525.7h-10M103.5 1516h-4M103.5 1506.4h-4M103.5 1496.7h-4M103.5 1487.1h-4M103.5 1477.4h-10M103.5 1467.7h-4M103.5 1458.1h-4M103.5 1448.4h-4M103.5 1438.8h-4M103.5 1429.1h-10M103.5 1419.4h-4M103.5 1409.8h-4M103.5 1400.1h-4M103.5 1390.5h-4M103.5 1380.8h-10M103.5 1371.1h-4M103.5 1361.5h-4M103.5 1351.8h-4M103.5 1342.2h-4M103.5 1332.5h-10M103.5 1322.8h-4M103.5 1313.2h-4M103.5 1303.5h-4M103.5 1293.9h-4" class="tk"/>
<text x="103.5" y="1545.7" class="tl" text-anchor="middle">0</text>
<text x="168.7" y="1545.7" class="tl" text-anchor="middle">30</text>
<text x="234" y="1545.7" class="tl" text-anchor="middle">60</text>
<text x="299.2" y="1545.7" class="tl" text-anchor="middle">90</text>
<text x="364.5" y="1545.7" class="tl" text-anchor="middle">120</text>
<text x="429.7" y="1545.7" class="tl" text-anchor="middle">150</text>
<text transform="translate(87.7 1525.7) rotate(-90) scale(1 1.3)" class="tly" text-anchor="middle">0</text>
<text transform="translate(87.7 1477.4) rotate(-90) scale(1 1.3)" class="tly" text-anchor="middle">80</text>
<text transform="translate(87.7 1429.1) rotate(-90) scale(1 1.3)" class="tly" text-anchor="middle">160</text>
<text transform="translate(87.7 1380.8) rotate(-90) scale(1 1.3)" class="tly" text-anchor="middle">240</text>
<text transform="translate(87.7 1332.5) rotate(-90) scale(1 1.3)" class="tly" text-anchor="middle">320</text>
<path d="M215.5 1526.5l4.7 7.5h-9.4z" fill="#000"/>
<path d="M317.7 1526.5l4.7 7.5h-9.4z" fill="#000"/>
<text x="259.9" y="1271.2" class="t">G1:30.9%</text>
<text x="260" y="1320.4" class="t">S:34.4%</text>
<text x="259.9" y="1369.7" class="t">G2/M:34.7%</text>
<text x="223.8" y="1576.5" class="t">Mock</text>
<clipPath id="c13"><rect x="496.5" y="1285.7" width="324.2" height="237.6"/></clipPath>
<g clip-path="url(#c13)">
<path d="M568.5 1523.3L573.3 1523.2L576.5 1522.7L578.7 1521.9L580.8 1520L582.4 1517.5L584 1513.4L586.7 1501.7L588.9 1486.2L591 1464.4L599.1 1355.2L601.2 1338.2L602.3 1334.6L602.8 1334.2L603.4 1334.6L604.4 1338.2L606.6 1355.2L614.6 1464.4L616.8 1486.2L618.9 1501.7L621.6 1513.4L623.2 1517.5L624.8 1520L627 1521.9L629.1 1522.7L632.4 1523.2L637.2 1523.3Z" fill="#f80303"/>
<path d="M636.1 1523.3L651.7 1523L656 1522.5L659.7 1521.6L663 1520.1L665.7 1518.2L668.3 1515.4L671 1511.5L673.2 1507.4L675.3 1502.3L679.6 1489L683.4 1474.2L691.4 1438.7L694.7 1426.6L696.8 1420.5L698.4 1417.1L700 1415L701.6 1414.2L703.2 1414.6L704.9 1416.4L706.5 1419.5L708.6 1425.2L712.4 1439.1L720.4 1474.7L724.2 1489.4L728.5 1502.6L730.6 1507.6L732.8 1511.7L735.5 1515.6L738.1 1518.3L740.8 1520.2L744.1 1521.6L747.8 1522.5L752.1 1523L767.1 1523.3Z" fill="#f80303"/>
<path d="M575.4 1523.3L583.5 1523.2L587.8 1522.7L591 1521.5L593.7 1519.4L595.8 1516.8L598.5 1512.2L605.5 1496.5L608.2 1491.1L610.9 1487.1L613.6 1484.6L616.3 1483.1L620 1482.3L635.6 1482L666.2 1482.3L673.2 1483L679.1 1484.4L685 1487.1L690.4 1490.8L695.7 1495.9L710.8 1512.2L716.1 1516.6L721 1519.5L726.9 1521.6L733.9 1522.7L742.4 1523.2L759.6 1523.3Z" fill="url(#hB)"/>
<path d="M575.4 1523.3L583.5 1523.2L587.8 1522.7L591 1521.5L593.7 1519.4L595.8 1516.8L598.5 1512.2L605.5 1496.5L608.2 1491.1L610.9 1487.1L613.6 1484.6L616.3 1483.1L620 1482.3L635.6 1482L666.2 1482.3L673.2 1483L679.1 1484.4L685 1487.1L690.4 1490.8L695.7 1495.9L710.8 1512.2L716.1 1516.6L721 1519.5L726.9 1521.6L733.9 1522.7L742.4 1523.2L759.6 1523.3" class="sl"/>
<path d="M568.5 1523.3L573.3 1523.2L576.5 1522.7L578.7 1521.9L580.8 1520L582.4 1517.5L584 1513.4L586.7 1501.7L588.9 1486.2L591 1464.4L599.1 1355.2L601.2 1338.2L602.3 1334.6L602.8 1334.2L603.4 1334.6L604.4 1338.2L606.6 1355.2L614.6 1464.4L616.8 1486.2L618.9 1501.7L621.6 1513.4L623.2 1517.5L624.8 1520L627 1521.9L629.1 1522.7L632.4 1523.2L637.2 1523.3" class="pk"/>
<path d="M636.1 1523.3L651.7 1523L656 1522.5L659.7 1521.6L663 1520.1L665.7 1518.2L668.3 1515.4L671 1511.5L673.2 1507.4L675.3 1502.3L679.6 1489L683.4 1474.2L691.4 1438.7L694.7 1426.6L696.8 1420.5L698.4 1417.1L700 1415L701.6 1414.2L703.2 1414.6L704.9 1416.4L706.5 1419.5L708.6 1425.2L712.4 1439.1L720.4 1474.7L724.2 1489.4L728.5 1502.6L730.6 1507.6L732.8 1511.7L735.5 1515.6L738.1 1518.3L740.8 1520.2L744.1 1521.6L747.8 1522.5L752.1 1523L767.1 1523.3" class="pk"/>
<path d="M496.5 1523.3L574.9 1523.3L577 1522.9L579.2 1521.3L580.3 1520L581.3 1518.5L583.5 1512.1L584.6 1514.1L585.6 1509.7L587.8 1492L591 1459.6L592.1 1445.3L594.2 1404.6L595.3 1399.9L599.6 1321.8L600.7 1308.5L601.8 1306.8L603.9 1306.1L605 1308.3L606 1307.9L607.1 1310.8L608.2 1321.2L612.5 1398.2L615.7 1434.8L616.8 1452.2L617.9 1460.3L618.9 1458.7L620 1464.3L621.1 1474.5L622.2 1477.8L623.2 1476.4L624.3 1478.3L625.4 1483.3L626.5 1484.1L627.5 1479.6L628.6 1480L629.7 1482.4L630.8 1482.5L631.8 1482.1L632.9 1482.2L634 1484.3L635 1484.4L636.1 1480.7L637.2 1480.7L638.3 1474.3L639.3 1474.3L640.4 1489L641.5 1489L642.6 1478.9L643.6 1478.9L644.7 1480.2L645.8 1480.1L646.9 1482.8L647.9 1482.7L649 1486.5L650.1 1486.5L651.2 1474.1L652.2 1474L653.3 1480L654.4 1479.8L655.5 1476.2L656.5 1476L657.6 1481.7L658.7 1481.5L659.7 1482.8L660.8 1482.5L661.9 1473.9L663 1473.4L664 1474.2L665.1 1473.4L666.2 1477.2L669.4 1473.2L670.5 1467.9L671.6 1466.1L672.6 1470.7L675.9 1463.8L676.9 1457.2L678 1454.1L679.1 1445.5L682.3 1434.2L683.4 1432.8L684.5 1427.2L685.5 1414.7L686.6 1408L687.7 1409.9L688.7 1404L690.9 1398.2L692 1379.6L693 1378.6L694.1 1394.9L695.2 1394.4L696.3 1387.1L697.3 1385.9L698.4 1383.7L699.5 1379.3L701.6 1375L702.7 1378.4L703.8 1385.9L708.1 1404.4L709.2 1415.4L710.2 1420.2L711.3 1422.1L712.4 1427.5L713.4 1425.8L716.7 1446.7L717.7 1458L718.8 1463.5L719.9 1466.6L721 1471.8L722 1481.4L724.2 1491.5L725.3 1495.4L726.3 1496.1L727.4 1499.6L728.5 1494.8L729.6 1497.9L730.6 1508.5L731.7 1510.4L732.8 1516.3L733.9 1517.4L734.9 1512.1L736 1512.9L737.1 1515.3L738.1 1515.6L739.2 1511.3L740.3 1511.4L741.4 1509.8L742.4 1509.7L743.5 1514.4L744.6 1514.6L745.7 1513.4L746.7 1513.9L747.8 1515.6L748.9 1515.7L750 1513L751 1513.1L752.1 1515.8L753.2 1515.9L754.3 1514.9L755.3 1514.9L756.4 1511.9L757.5 1511.9L758.6 1516.3L759.6 1516.3L760.7 1514.9L763.9 1515.2L765 1514.5L768.2 1514.5L769.3 1513.2L770.4 1513.2L771.4 1514.5L774.7 1514.3L775.7 1516.7L776.8 1516.7L777.9 1514.6L779 1514.6L780 1516.9L781.1 1523.3L818.7 1523.3" class="raw"/>
<path d="M496.5 1523.3L573.3 1523.2L576.5 1522.7L578.7 1521.9L580.8 1520L582.4 1517.4L584.6 1511.5L586.2 1504.3L587.8 1494.1L589.4 1480.3L592.6 1441.2L597.5 1365.6L599.6 1336.6L601.8 1317.9L602.8 1313.5L603.4 1312.7L603.9 1312.8L605 1315.7L606 1321.9L607.1 1331L614.1 1418.9L617.3 1450.2L618.9 1460.9L621.1 1470.6L623.2 1476.3L625.4 1479.4L628.1 1481.1L631.8 1481.9L644.7 1482L653.8 1481.6L658.1 1480.8L661.9 1479.6L665.1 1477.6L668.3 1474.6L671 1470.9L673.2 1467.1L675.9 1461.1L678 1455.3L682.3 1441.1L690.4 1410.7L693.6 1400.7L695.2 1397L696.8 1394.2L698.4 1392.6L700 1392.3L701.6 1393.3L703.8 1396.6L705.9 1402.3L708.1 1409.9L711.8 1426.8L721 1473.1L723.7 1484.8L726.3 1494.7L728.5 1501.2L731.2 1507.9L733.9 1512.8L736.5 1516.5L739.8 1519.4L743 1521.1L746.7 1522.3L751.6 1523L762.9 1523.3L818.7 1523.3" class="sum"/>
</g>
<path d="M496.5 1288.7V1523.3H818.7" class="ax"/>
<path d="M496.5 1523.3v8M509.4 1523.3v4M522.3 1523.3v4M535.2 1523.3v4M548.1 1523.3v4M560.9 1523.3v8M573.8 1523.3v4M586.7 1523.3v4M599.6 1523.3v4M612.5 1523.3v4M625.4 1523.3v8M638.3 1523.3v4M651.2 1523.3v4M664 1523.3v4M676.9 1523.3v4M689.8 1523.3v8M702.7 1523.3v4M715.6 1523.3v4M728.5 1523.3v4M741.4 1523.3v4M754.3 1523.3v8M767.1 1523.3v4M780 1523.3v4M792.9 1523.3v4M805.8 1523.3v4M818.7 1523.3v8M496.5 1523.3h-10M496.5 1514h-4M496.5 1504.6h-4M496.5 1495.3h-4M496.5 1485.9h-4M496.5 1476.6h-10M496.5 1467.3h-4M496.5 1457.9h-4M496.5 1448.6h-4M496.5 1439.2h-4M496.5 1429.9h-10M496.5 1420.6h-4M496.5 1411.2h-4M496.5 1401.9h-4M496.5 1392.5h-4M496.5 1383.2h-10M496.5 1373.9h-4M496.5 1364.5h-4M496.5 1355.2h-4M496.5 1345.8h-4M496.5 1336.5h-10M496.5 1327.2h-4M496.5 1317.8h-4M496.5 1308.5h-4M496.5 1299.1h-4M496.5 1289.8h-10" class="tk"/>
<text x="496.5" y="1543.3" class="tl" text-anchor="middle">0</text>
<text x="560.9" y="1543.3" class="tl" text-anchor="middle">30</text>
<text x="625.4" y="1543.3" class="tl" text-anchor="middle">60</text>
<text x="689.8" y="1543.3" class="tl" text-anchor="middle">90</text>
<text x="754.3" y="1543.3" class="tl" text-anchor="middle">120</text>
<text x="818.7" y="1543.3" class="tl" text-anchor="middle">150</text>
<text transform="translate(480.7 1523.3) rotate(-90) scale(1 1.3)" class="tly" text-anchor="middle">0</text>
<text transform="translate(480.7 1476.6) rotate(-90) scale(1 1.3)" class="tly" text-anchor="middle">80</text>
<text transform="translate(480.7 1429.9) rotate(-90) scale(1 1.3)" class="tly" text-anchor="middle">160</text>
<text transform="translate(480.7 1383.2) rotate(-90) scale(1 1.3)" class="tly" text-anchor="middle">240</text>
<text transform="translate(480.7 1336.5) rotate(-90) scale(1 1.3)" class="tly" text-anchor="middle">320</text>
<text transform="translate(480.7 1289.8) rotate(-90) scale(1 1.3)" class="tly" text-anchor="middle">400</text>
<path d="M606 1524.1l4.7 7.5h-9.4z" fill="#000"/>
<path d="M700.6 1524.1l4.7 7.5h-9.4z" fill="#000"/>
<text x="654.7" y="1271.9" class="t">G1:31.0%</text>
<text x="654.8" y="1320.7" class="t">S:34.3%</text>
<text x="654.7" y="1370" class="t">G2/M:34.7%</text>
<text x="639.7" y="1576.7" class="t">NC</text>
<clipPath id="c14"><rect x="862.4" y="1285.2" width="327.9" height="246.1"/></clipPath>
<g clip-path="url(#c14)">
<path d="M939.5 1531.3L944.4 1531.1L947.7 1530.6L949.8 1529.6L952 1527.3L953.7 1524.2L955.3 1519.3L956.9 1511.8L958 1505.1L960.2 1486.3L962.3 1459.8L970.5 1327.1L972.7 1306.5L973.7 1302.1L974.3 1301.5L974.8 1302.1L975.9 1306.5L978.1 1327.1L986.2 1459.8L988.4 1486.3L990.6 1505.1L991.7 1511.8L993.3 1519.3L994.9 1524.2L996.6 1527.3L998.7 1529.6L1000.9 1530.6L1004.2 1531.1L1009.1 1531.3Z" fill="#f80303"/>
<path d="M1012.9 1531.3L1028.1 1531.2L1035.7 1530.7L1041.6 1529.6L1046.5 1527.5L1050.9 1524.4L1054.7 1520.4L1058.5 1515.4L1066.6 1503.3L1069.9 1499.3L1073.1 1496.6L1074.8 1495.9L1076.4 1495.7L1078 1495.9L1079.7 1496.6L1082.9 1499.3L1086.2 1503.3L1094.3 1515.4L1098.1 1520.4L1101.9 1524.4L1106.3 1527.5L1111.2 1529.6L1117.1 1530.7L1124.7 1531.2L1140 1531.3Z" fill="#f80303"/>
<path d="M943.3 1531.3L956.9 1531.2L964 1530.8L969.4 1530L980.3 1527.3L986.2 1526.5L1005.3 1526.2L1035.7 1526.3L1052 1526.7L1065 1527.6L1091.1 1530.2L1105.2 1531L1152.5 1531.3" class="sl"/>
<path d="M939.5 1531.3L944.4 1531.1L947.7 1530.6L949.8 1529.6L952 1527.3L953.7 1524.2L955.3 1519.3L956.9 1511.8L958 1505.1L960.2 1486.3L962.3 1459.8L970.5 1327.1L972.7 1306.5L973.7 1302.1L974.3 1301.5L974.8 1302.1L975.9 1306.5L978.1 1327.1L986.2 1459.8L988.4 1486.3L990.6 1505.1L991.7 1511.8L993.3 1519.3L994.9 1524.2L996.6 1527.3L998.7 1529.6L1000.9 1530.6L1004.2 1531.1L1009.1 1531.3" class="pk"/>
<path d="M1012.9 1531.3L1028.1 1531.2L1035.7 1530.7L1041.6 1529.6L1046.5 1527.5L1050.9 1524.4L1054.7 1520.4L1058.5 1515.4L1066.6 1503.3L1069.9 1499.3L1073.1 1496.6L1074.8 1495.9L1076.4 1495.7L1078 1495.9L1079.7 1496.6L1082.9 1499.3L1086.2 1503.3L1094.3 1515.4L1098.1 1520.4L1101.9 1524.4L1106.3 1527.5L1111.2 1529.6L1117.1 1530.7L1124.7 1531.2L1140 1531.3" class="pk"/>
<path d="M862.4 1531.3L942.8 1531.2L946 1530.8L948.2 1529.8L949.3 1530.1L950.4 1529.4L951.5 1529.2L952.6 1528L954.7 1521.3L958 1503.9L960.2 1485.8L962.3 1457.5L966.7 1389.6L969.9 1327.8L973.2 1298L974.3 1295.5L975.4 1298.4L977.6 1313L979.7 1340.5L985.2 1437L988.4 1479.6L990.6 1500.7L991.7 1507.6L992.8 1510.6L994.9 1519.6L996 1521.8L997.1 1523.2L998.2 1524.3L1000.4 1525L1001.5 1523.8L1002.5 1524L1003.6 1527L1004.7 1527.1L1005.8 1526.6L1006.9 1526.6L1008 1526L1009.1 1526L1010.1 1527.2L1011.2 1527.2L1012.3 1526L1013.4 1526L1014.5 1524.7L1015.6 1524.7L1016.7 1528.3L1017.7 1528.3L1018.8 1526.1L1019.9 1526.1L1021 1527L1022.1 1527L1023.2 1523.7L1024.3 1523.7L1025.3 1525.4L1028.6 1525.4L1029.7 1526.2L1030.8 1526.2L1031.9 1527.2L1033 1527.1L1034 1525.7L1037.3 1525.1L1038.4 1525.3L1039.5 1525.1L1040.6 1522.7L1041.6 1522.4L1042.7 1523.3L1043.8 1522.9L1044.9 1524.6L1046 1524.1L1047.1 1522.8L1048.2 1522.1L1049.2 1520.5L1050.3 1519.6L1051.4 1520.8L1052.5 1519.8L1053.6 1517.2L1054.7 1516L1055.8 1515.4L1056.9 1514L1057.9 1511.3L1061.2 1506.7L1062.3 1506.4L1063.4 1504.8L1064.5 1500L1065.5 1498.4L1066.6 1500.2L1067.7 1498.9L1068.8 1495.4L1069.9 1494.2L1071 1496.4L1075.3 1493.6L1077.5 1493.5L1078.6 1493.9L1079.7 1492.3L1080.8 1493.1L1081.8 1498.4L1082.9 1499.6L1084 1495.2L1085.1 1496.7L1086.2 1503.3L1087.3 1505L1088.4 1502.1L1089.4 1503.9L1090.5 1507.9L1091.6 1509.6L1092.7 1512.5L1093.8 1514.2L1094.9 1513.8L1096 1515.4L1097 1518.8L1098.1 1520.3L1099.2 1520.9L1102.5 1524.2L1103.6 1521.7L1104.7 1522.7L1105.7 1527.9L1106.8 1528.3L1107.9 1526L1109 1526.5L1110.1 1528.7L1113.3 1529.6L1115.5 1529.7L1116.6 1528.8L1117.7 1528.8L1118.8 1529.7L1122 1530L1123.1 1529.7L1128.6 1529.8L1129.6 1530.2L1130.7 1530.2L1131.8 1529.8L1135.1 1529.8L1136.2 1530.2L1148.1 1529.9L1149.2 1530.1L1150.3 1531.3L1188.3 1531.3" class="raw"/>
<path d="M862.4 1531.3L943.9 1531.2L947.1 1530.7L949.3 1529.9L951.5 1528L953.1 1525.4L955.3 1519.3L956.9 1511.8L958.5 1501L960.2 1486.1L963.4 1443.3L970.5 1325.5L972.7 1304.3L973.7 1299.7L974.3 1299L974.8 1299.4L975.9 1303.5L978.1 1323.6L985.7 1447.2L989 1486.7L990.6 1500L992.8 1512.1L994.9 1519.1L996 1521.3L997.6 1523.5L999.3 1524.8L1001.5 1525.6L1008.5 1526.2L1033 1525.9L1038.9 1525.3L1043.8 1523.9L1048.7 1521.4L1053.6 1517.1L1057.9 1511.9L1066.6 1499.7L1069.9 1496.1L1073.1 1493.7L1075.9 1493.1L1077.5 1493.4L1079.7 1494.4L1083.5 1498.1L1086.7 1502.5L1095.4 1516.1L1100.9 1522.8L1105.7 1526.9L1110.6 1529.2L1116.6 1530.6L1125.3 1531.2L1188.3 1531.3" class="sum"/>
</g>
<path d="M862.4 1288.2V1531.3H1188.3" class="ax"/>
<path d="M862.4 1531.3v8M875.4 1531.3v4M888.5 1531.3v4M901.5 1531.3v4M914.5 1531.3v4M927.6 1531.3v8M940.6 1531.3v4M953.7 1531.3v4M966.7 1531.3v4M979.7 1531.3v4M992.8 1531.3v8M1005.8 1531.3v4M1018.8 1531.3v4M1031.9 1531.3v4M1044.9 1531.3v4M1057.9 1531.3v8M1071 1531.3v4M1084 1531.3v4M1097 1531.3v4M1110.1 1531.3v4M1123.1 1531.3v8M1136.2 1531.3v4M1149.2 1531.3v4M1162.2 1531.3v4M1175.3 1531.3v4M1188.3 1531.3v8M862.4 1531.3h-10M862.4 1519h-4M862.4 1506.7h-4M862.4 1494.3h-4M862.4 1482h-4M862.4 1469.7h-10M862.4 1457.4h-4M862.4 1445.1h-4M862.4 1432.7h-4M862.4 1420.4h-4M862.4 1408.1h-10M862.4 1395.8h-4M862.4 1383.5h-4M862.4 1371.1h-4M862.4 1358.8h-4M862.4 1346.5h-10M862.4 1334.2h-4M862.4 1321.9h-4M862.4 1309.5h-4M862.4 1297.2h-4" class="tk"/>
<text transform="translate(846.6 1531.3) rotate(-90) scale(1 1.3)" class="tly" text-anchor="middle">0</text>
<text transform="translate(846.6 1469.7) rotate(-90) scale(1 1.3)" class="tly" text-anchor="middle">200</text>
<text transform="translate(846.6 1408.1) rotate(-90) scale(1 1.3)" class="tly" text-anchor="middle">400</text>
<text transform="translate(846.6 1346.5) rotate(-90) scale(1 1.3)" class="tly" text-anchor="middle">600</text>
<path d="M973.2 1532.1l4.7 7.5h-9.4z" fill="#000"/>
<path d="M1081.8 1532.1l4.7 7.5h-9.4z" fill="#000"/>
<text x="1011.7" y="1271.5" class="t">G1:70.5%</text>
<text x="1011.8" y="1320.5" class="t">S:8.8%</text>
<text x="1011.7" y="1370" class="t">G2/M:20.7%</text>
<text x="1007.4" y="1575.7" class="t">si-P1</text>
<clipPath id="c15"><rect x="1229.6" y="1285.7" width="323.3" height="238"/></clipPath>
<g clip-path="url(#c15)">
<path d="M1306.2 1523.7L1311.5 1523.5L1314.2 1523.2L1316.4 1522.3L1318.5 1520.5L1320.1 1518L1321.7 1514L1323.3 1507.8L1324.4 1502.2L1327.1 1481.4L1329.2 1456.9L1335.1 1366.9L1337.2 1338.6L1338.3 1328.3L1339.4 1321.4L1340.4 1318.2L1341 1318.1L1341.5 1319L1342.6 1323.7L1344.7 1343.5L1352.2 1455.5L1354.4 1480.3L1357 1501.6L1358.1 1507.3L1359.7 1513.7L1361.3 1517.8L1362.9 1520.4L1365.1 1522.3L1367.2 1523.1L1369.9 1523.5L1375.3 1523.7Z" fill="#f80303"/>
<path d="M1382.8 1523.7L1404.7 1523.3L1410.6 1522.5L1415.4 1520.9L1419.7 1518.6L1424 1515.3L1435.2 1503L1438.4 1499.9L1441.7 1497.9L1444.9 1497.1L1448.1 1497.7L1451.3 1499.6L1455 1503.1L1462.5 1511.6L1466.3 1515.4L1470.6 1518.7L1474.9 1521L1479.7 1522.5L1485.6 1523.3L1507.5 1523.7Z" fill="#f80303"/>
<path d="M1310.5 1523.7L1323.8 1523.6L1330.8 1523.2L1336.2 1522.3L1346.3 1519.8L1352.2 1519L1372 1518.7L1404.2 1518.7L1420.8 1519.1L1433.6 1520L1459.3 1522.6L1473.3 1523.4L1519.8 1523.7" class="sl"/>
<path d="M1306.2 1523.7L1311 1523.6L1314.2 1523.2L1316.4 1522.3L1318.5 1520.5L1320.1 1518L1321.7 1514L1323.3 1507.8L1324.4 1502.2L1327.1 1481.4L1329.2 1456.9L1335.1 1366.9L1337.2 1338.6L1338.3 1328.3L1339.4 1321.4L1340.4 1318.2L1341 1318.1L1341.5 1319L1342.6 1323.7L1344.7 1343.5L1352.2 1455.5L1354.4 1480.3L1357 1501.6L1358.1 1507.3L1359.7 1513.7L1361.3 1517.8L1362.9 1520.4L1365.1 1522.3L1367.2 1523.1L1370.4 1523.6L1375.3 1523.7" class="pk"/>
<path d="M1382.8 1523.7L1404.7 1523.3L1410.6 1522.5L1415.4 1520.9L1419.7 1518.6L1424 1515.3L1435.2 1503L1438.4 1499.9L1441.7 1497.9L1444.9 1497.1L1448.1 1497.7L1451.3 1499.6L1455 1503.1L1462.5 1511.6L1466.3 1515.4L1470.6 1518.7L1474.9 1521L1479.7 1522.5L1485.6 1523.3L1507.5 1523.7" class="pk"/>
<path d="M1229.6 1523.7L1309.9 1523.7L1315.3 1522.9L1316.4 1522.5L1318.5 1519.6L1321.7 1513L1322.8 1509L1323.8 1504.8L1326 1490.4L1330.3 1442.4L1333.5 1385.9L1336.7 1338.8L1337.8 1326.5L1339.9 1316.2L1341 1314.2L1342.1 1316.7L1343.1 1322.7L1345.3 1341.4L1350.6 1426.1L1353.8 1470.5L1354.9 1481.2L1358.1 1502.8L1359.2 1507.3L1360.3 1511.2L1361.3 1513.7L1363.5 1516.4L1364.5 1515.4L1365.6 1516.1L1366.7 1515.9L1367.8 1516.2L1368.8 1518.9L1369.9 1519L1371 1519.6L1372 1519.7L1373.1 1520.3L1374.2 1520.3L1375.3 1518.5L1376.3 1518.5L1377.4 1518L1382.8 1518.2L1383.8 1517L1384.9 1517L1386 1518.5L1389.2 1518.1L1390.2 1518.8L1391.3 1518.8L1392.4 1519.6L1393.5 1519.6L1394.5 1521L1395.6 1521L1396.7 1518.4L1397.7 1518.4L1398.8 1519.1L1404.2 1518.9L1405.2 1518.1L1408.5 1517.7L1409.5 1520.2L1410.6 1520.1L1411.7 1517.6L1412.7 1517.4L1413.8 1516.1L1417 1514.9L1418.1 1515.1L1421.3 1512.5L1422.4 1514L1423.5 1513.2L1424.5 1509.6L1425.6 1508.6L1426.7 1508.5L1427.7 1507.4L1432 1501.3L1433.1 1501L1434.2 1499.8L1435.2 1500.7L1436.3 1499.8L1437.4 1500.2L1438.4 1499.4L1439.5 1496.2L1440.6 1495.6L1441.7 1494.4L1443.8 1493.6L1444.9 1493.6L1445.9 1492.4L1447 1492.8L1448.1 1494.3L1451.3 1496.7L1452.4 1501L1453.4 1502.1L1454.5 1499.3L1457.7 1504.2L1458.8 1502.8L1459.9 1504.2L1460.9 1507.4L1462 1508.7L1463.1 1512.1L1464.1 1513.3L1465.2 1513.3L1466.3 1514.4L1467.4 1514.8L1468.4 1515.7L1469.5 1518.5L1470.6 1519.2L1471.6 1520.7L1472.7 1521.2L1473.8 1519.6L1474.9 1520.1L1475.9 1521.2L1482.4 1522.1L1485.6 1521.6L1487.7 1522.1L1492 1522.2L1495.2 1522.6L1498.4 1522.4L1500.6 1522.7L1502.7 1522.4L1504.8 1522.6L1508.1 1522.2L1511.3 1522.3L1512.3 1522.6L1513.4 1523.7L1550.9 1523.7" class="raw"/>
<path d="M1229.6 1523.7L1311 1523.6L1314.2 1523.2L1316.4 1522.3L1318.5 1520.5L1320.1 1518L1322.2 1512.2L1323.8 1505.1L1325.5 1495L1327.1 1481.2L1330.3 1441.8L1336.7 1343.3L1338.8 1322.4L1339.9 1317L1340.4 1315.8L1341 1315.6L1341.5 1316.3L1342.6 1320.7L1344.7 1340L1351.7 1443.7L1354.9 1480.5L1356.5 1493.2L1358.7 1504.7L1360.8 1511.6L1361.9 1513.8L1363.5 1516L1365.1 1517.2L1366.7 1517.9L1372 1518.6L1401 1518.5L1407.4 1518.1L1412.2 1517.2L1417.6 1515.2L1422.4 1512.2L1426.7 1508.4L1435.2 1499.4L1438.4 1496.7L1441.7 1495L1444.9 1494.5L1448.1 1495.5L1451.8 1498.2L1455 1501.6L1464.1 1512.5L1469 1517.1L1473.8 1520.2L1478.6 1522L1484.5 1523.1L1492.5 1523.6L1550.9 1523.7" class="sum"/>
</g>
<path d="M1229.6 1288.7V1523.7H1550.9" class="ax"/>
<path d="M1229.6 1523.7v8M1242.5 1523.7v4M1255.3 1523.7v4M1268.2 1523.7v4M1281 1523.7v4M1293.9 1523.7v8M1306.7 1523.7v4M1319.6 1523.7v4M1332.4 1523.7v4M1345.3 1523.7v4M1358.1 1523.7v8M1371 1523.7v4M1383.8 1523.7v4M1396.7 1523.7v4M1409.5 1523.7v4M1422.4 1523.7v8M1435.2 1523.7v4M1448.1 1523.7v4M1460.9 1523.7v4M1473.8 1523.7v4M1486.6 1523.7v8M1499.5 1523.7v4M1512.3 1523.7v4M1525.2 1523.7v4M1538 1523.7v4M1550.9 1523.7v8M1229.6 1523.7h-10M1229.6 1511.5h-4M1229.6 1499.2h-4M1229.6 1487h-4M1229.6 1474.7h-4M1229.6 1462.5h-10M1229.6 1450.3h-4M1229.6 1438h-4M1229.6 1425.8h-4M1229.6 1413.5h-4M1229.6 1401.3h-10M1229.6 1389.1h-4M1229.6 1376.8h-4M1229.6 1364.6h-4M1229.6 1352.3h-4M1229.6 1340.1h-10M1229.6 1327.9h-4M1229.6 1315.6h-4M1229.6 1303.4h-4M1229.6 1291.1h-4" class="tk"/>
<text x="1229.6" y="1543.7" class="tl" text-anchor="middle">0</text>
<text x="1293.9" y="1543.7" class="tl" text-anchor="middle">30</text>
<text x="1358.1" y="1543.7" class="tl" text-anchor="middle">60</text>
<text x="1422.4" y="1543.7" class="tl" text-anchor="middle">90</text>
<text x="1486.6" y="1543.7" class="tl" text-anchor="middle">120</text>
<text x="1550.9" y="1543.7" class="tl" text-anchor="middle">150</text>
<text transform="translate(1213.8 1523.7) rotate(-90) scale(1 1.3)" class="tly" text-anchor="middle">0</text>
<text transform="translate(1213.8 1462.5) rotate(-90) scale(1 1.3)" class="tly" text-anchor="middle">200</text>
<text transform="translate(1213.8 1401.3) rotate(-90) scale(1 1.3)" class="tly" text-anchor="middle">400</text>
<text transform="translate(1213.8 1340.1) rotate(-90) scale(1 1.3)" class="tly" text-anchor="middle">600</text>
<path d="M1338.8 1524.5l4.7 7.5h-9.4z" fill="#000"/>
<path d="M1444.9 1524.5l4.7 7.5h-9.4z" fill="#000"/>
<text x="1366.7" y="1271.5" class="t">G1:70.8%</text>
<text x="1366.8" y="1320.5" class="t">S:10.8%</text>
<text x="1366.7" y="1370" class="t">G2/M:18.4%</text>
<text x="1350.5" y="1575.7" class="t">si-P2</text>
<text x="102.5" y="39" class="L">a</text><text x="102.9" y="819" class="L">b</text><text x="25.4" y="1651.2" class="L">c</text><text x="1021.4" y="1668.3" class="L">d</text>
<text x="22.5" y="188.7" class="t">0 h</text><text x="3.1" y="601.6" class="t">10 h</text><text x="22.4" y="1033.7" class="t">0 h</text><text x="2.6" y="1413" class="t">10 h</text>
<clipPath id="m101"><rect x="26.8" y="1711" width="239.6" height="201.7"/></clipPath>
<rect x="26.8" y="1711" width="239.6" height="201.7" fill="#200a5e"/>
<g clip-path="url(#m101)">
<g filter="url(#haze)" opacity="0.55">
<circle cx="203.1" cy="1702.5" r="6" fill="#2a18b0"/>
<circle cx="46.9" cy="1717.5" r="6" fill="#2a18b0"/>
<circle cx="216.7" cy="1859.9" r="6" fill="#2a18b0"/>
<circle cx="222" cy="1798.6" r="6" fill="#2a18b0"/>
<circle cx="53.7" cy="1908.9" r="6" fill="#2a18b0"/>
<circle cx="61.5" cy="1715.5" r="6" fill="#2a18b0"/>
<circle cx="189.5" cy="1891.4" r="6" fill="#2a18b0"/>
<circle cx="32.5" cy="1884.5" r="6" fill="#2a18b0"/>
<circle cx="185" cy="1880.3" r="6" fill="#2a18b0"/>
<circle cx="58.7" cy="1711.3" r="6" fill="#2a18b0"/>
<circle cx="23.7" cy="1751.3" r="6" fill="#2a18b0"/>
<circle cx="91.1" cy="1769.3" r="6" fill="#2a18b0"/>
<circle cx="208.7" cy="1768.4" r="6" fill="#2a18b0"/>
<circle cx="89.9" cy="1806" r="6" fill="#2a18b0"/>
<circle cx="263.6" cy="1801.4" r="6" fill="#2a18b0"/>
<circle cx="188.1" cy="1766" r="6" fill="#2a18b0"/>
<circle cx="67.7" cy="1799.2" r="6" fill="#2a18b0"/>
<circle cx="213.1" cy="1756.2" r="6" fill="#2a18b0"/>
<circle cx="192.3" cy="1685.9" r="6" fill="#2a18b0"/>
<circle cx="258.8" cy="1793.9" r="6" fill="#2a18b0"/>
<circle cx="59.6" cy="1743.7" r="6" fill="#2a18b0"/>
<circle cx="237.2" cy="1817" r="6" fill="#2a18b0"/>
<circle cx="35.3" cy="1757.6" r="6" fill="#2a18b0"/>
<circle cx="62" cy="1726.9" r="6" fill="#2a18b0"/>
<circle cx="224.1" cy="1824.5" r="6" fill="#2a18b0"/>
<circle cx="55.8" cy="1792" r="6" fill="#2a18b0"/>
<circle cx="217.1" cy="1790.6" r="6" fill="#2a18b0"/>
<circle cx="104" cy="1742.2" r="6" fill="#2a18b0"/>
<circle cx="99.4" cy="1816.3" r="6" fill="#2a18b0"/>
<circle cx="147" cy="1765" r="6" fill="#2a18b0"/>
<circle cx="156.1" cy="1779.8" r="6" fill="#2a18b0"/>
<circle cx="241.2" cy="1884.7" r="6" fill="#2a18b0"/>
<circle cx="38.4" cy="1731.4" r="6" fill="#2a18b0"/>
<circle cx="186.9" cy="1782.6" r="6" fill="#2a18b0"/>
<circle cx="57.3" cy="1722.8" r="6" fill="#2a18b0"/>
<circle cx="197" cy="1782.9" r="6" fill="#2a18b0"/>
<circle cx="72.2" cy="1799.3" r="6" fill="#2a18b0"/>
<circle cx="155.9" cy="1741.7" r="6" fill="#2a18b0"/>
<circle cx="155.3" cy="1775.3" r="6" fill="#2a18b0"/>
<circle cx="196.7" cy="1715.5" r="6" fill="#2a18b0"/>
<circle cx="69.9" cy="1720.6" r="6" fill="#2a18b0"/>
<circle cx="94.5" cy="1885.7" r="6" fill="#2a18b0"/>
<circle cx="257.2" cy="1798.7" r="6" fill="#2a18b0"/>
<circle cx="79.7" cy="1742.8" r="6" fill="#2a18b0"/>
<circle cx="206.1" cy="1777.3" r="6" fill="#2a18b0"/>
<circle cx="46.6" cy="1720.7" r="6" fill="#2a18b0"/>
<circle cx="188.3" cy="1703.1" r="6" fill="#2a18b0"/>
<circle cx="190.7" cy="1747.3" r="6" fill="#2a18b0"/>
<circle cx="40.5" cy="1746.5" r="6" fill="#2a18b0"/>
<circle cx="73.4" cy="1803.3" r="6" fill="#2a18b0"/>
<circle cx="256.6" cy="1820.2" r="6" fill="#2a18b0"/>
<circle cx="93.8" cy="1833.4" r="6" fill="#2a18b0"/>
<circle cx="54.1" cy="1760.3" r="6" fill="#2a18b0"/>
<circle cx="187.6" cy="1712.1" r="6" fill="#2a18b0"/>
<circle cx="191.2" cy="1887.4" r="6" fill="#2a18b0"/>
<circle cx="30.9" cy="1764.4" r="6" fill="#2a18b0"/>
<circle cx="51.4" cy="1767.4" r="6" fill="#2a18b0"/>
<circle cx="36.2" cy="1731.7" r="6" fill="#2a18b0"/>
<circle cx="180.3" cy="1696.2" r="6" fill="#2a18b0"/>
<circle cx="195.2" cy="1697.7" r="6" fill="#2a18b0"/>
<circle cx="76.7" cy="1769.6" r="6" fill="#2a18b0"/>
<circle cx="152.6" cy="1776.4" r="6" fill="#2a18b0"/>
<circle cx="169.1" cy="1786.8" r="6" fill="#2a18b0"/>
<circle cx="94.7" cy="1803.3" r="6" fill="#2a18b0"/>
<circle cx="214.4" cy="1806.3" r="6" fill="#2a18b0"/>
<circle cx="195.1" cy="1819.8" r="6" fill="#2a18b0"/>
<circle cx="21.1" cy="1752.4" r="6" fill="#2a18b0"/>
<circle cx="122.4" cy="1835.3" r="6" fill="#2a18b0"/>
<circle cx="47.8" cy="1739.2" r="6" fill="#2a18b0"/>
<circle cx="17.9" cy="1727.9" r="6" fill="#2a18b0"/>
<circle cx="213.5" cy="1788.4" r="6" fill="#2a18b0"/>
<circle cx="149.4" cy="1748.7" r="6" fill="#2a18b0"/>
<circle cx="165.4" cy="1720.6" r="6" fill="#2a18b0"/>
<circle cx="254.3" cy="1817" r="6" fill="#2a18b0"/>
<circle cx="77.2" cy="1737.2" r="6" fill="#2a18b0"/>
<circle cx="189.7" cy="1709.1" r="6" fill="#2a18b0"/>
<circle cx="152.4" cy="1749.4" r="6" fill="#2a18b0"/>
<circle cx="195.4" cy="1741.5" r="6" fill="#2a18b0"/>
<circle cx="75.5" cy="1718.8" r="6" fill="#2a18b0"/>
<circle cx="150.5" cy="1771.6" r="6" fill="#2a18b0"/>
<circle cx="102.3" cy="1764" r="6" fill="#2a18b0"/>
<circle cx="170.3" cy="1689" r="6" fill="#2a18b0"/>
<circle cx="51.7" cy="1756" r="6" fill="#2a18b0"/>
<circle cx="110.4" cy="1785.7" r="6" fill="#2a18b0"/>
<circle cx="107.5" cy="1821.5" r="6" fill="#2a18b0"/>
<circle cx="80.8" cy="1750.2" r="6" fill="#2a18b0"/>
<circle cx="6.9" cy="1874.2" r="6" fill="#2a18b0"/>
<circle cx="199.9" cy="1896.4" r="6" fill="#2a18b0"/>
<circle cx="58.7" cy="1790.5" r="6" fill="#2a18b0"/>
<circle cx="192.8" cy="1710.3" r="6" fill="#2a18b0"/>
<circle cx="91.5" cy="1734.1" r="6" fill="#2a18b0"/>
<circle cx="38.6" cy="1728.6" r="6" fill="#2a18b0"/>
<circle cx="32.4" cy="1832" r="6" fill="#2a18b0"/>
<circle cx="41.5" cy="1760.1" r="6" fill="#2a18b0"/>
<circle cx="50.9" cy="1758.9" r="6" fill="#2a18b0"/>
<circle cx="175.3" cy="1711.4" r="6" fill="#2a18b0"/>
<circle cx="174.2" cy="1780.2" r="6" fill="#2a18b0"/>
<circle cx="251.3" cy="1867.5" r="6" fill="#2a18b0"/>
<circle cx="149.1" cy="1747" r="6" fill="#2a18b0"/>
<circle cx="53.3" cy="1867.4" r="6" fill="#2a18b0"/>
<circle cx="182.3" cy="1886.4" r="6" fill="#2a18b0"/>
<circle cx="262.5" cy="1870.1" r="6" fill="#2a18b0"/>
<circle cx="51" cy="1722.7" r="6" fill="#2a18b0"/>
<circle cx="238" cy="1911.6" r="6" fill="#2a18b0"/>
<circle cx="27.1" cy="1774.8" r="6" fill="#2a18b0"/>
<circle cx="41" cy="1750.4" r="6" fill="#2a18b0"/>
<circle cx="148.8" cy="1850.4" r="6" fill="#2a18b0"/>
<circle cx="178.4" cy="1834.9" r="6" fill="#2a18b0"/>
<circle cx="190.8" cy="1703.8" r="6" fill="#2a18b0"/>
<circle cx="71.9" cy="1748.6" r="6" fill="#2a18b0"/>
<circle cx="131" cy="1864.2" r="6" fill="#2a18b0"/>
<circle cx="51.1" cy="1883.2" r="6" fill="#2a18b0"/>
<circle cx="87.6" cy="1791.4" r="6" fill="#2a18b0"/>
<circle cx="51.1" cy="1857" r="6" fill="#2a18b0"/>
<circle cx="184.6" cy="1715.9" r="6" fill="#2a18b0"/>
<circle cx="194.1" cy="1696" r="6" fill="#2a18b0"/>
<circle cx="224.3" cy="1715.2" r="6" fill="#2a18b0"/>
<circle cx="216.7" cy="1873.6" r="6" fill="#2a18b0"/>
<circle cx="42.3" cy="1742.8" r="6" fill="#2a18b0"/>
<circle cx="144.5" cy="1769.5" r="6" fill="#2a18b0"/>
<circle cx="110.4" cy="1798" r="6" fill="#2a18b0"/>
<circle cx="85.3" cy="1740.9" r="6" fill="#2a18b0"/>
<circle cx="112.7" cy="1815.7" r="6" fill="#2a18b0"/>
<circle cx="222.1" cy="1821.1" r="6" fill="#2a18b0"/>
<circle cx="57.9" cy="1731.7" r="6" fill="#2a18b0"/>
<circle cx="112.3" cy="1853.6" r="6" fill="#2a18b0"/>
<circle cx="214.3" cy="1897.9" r="6" fill="#2a18b0"/>
<circle cx="130.3" cy="1865.9" r="6" fill="#2a18b0"/>
<circle cx="220.1" cy="1736.9" r="6" fill="#2a18b0"/>
<circle cx="128.2" cy="1909.7" r="6" fill="#2a18b0"/>
<circle cx="146.7" cy="1882.9" r="6" fill="#2a18b0"/>
<circle cx="115.8" cy="1822.8" r="6" fill="#2a18b0"/>
<circle cx="244.4" cy="1868.6" r="6" fill="#2a18b0"/>
<circle cx="167.6" cy="1751.2" r="6" fill="#2a18b0"/>
<circle cx="139.2" cy="1737.9" r="6" fill="#2a18b0"/>
<circle cx="136.3" cy="1802.3" r="6" fill="#2a18b0"/>
<circle cx="236.8" cy="1878.8" r="6" fill="#2a18b0"/>
</g><g filter="url(#blur)">
<circle cx="203.1" cy="1702.5" r="3.2" class="b5"/>
<circle cx="229" cy="1814" r="3.1" class="b1"/>
<circle cx="202.7" cy="1767.2" r="3.3" class="b2"/>
<circle cx="46.9" cy="1717.5" r="3.3" class="b4"/>
<circle cx="66.8" cy="1713.8" r="2.9" class="b4"/>
<circle cx="65.3" cy="1712.8" r="2.7" class="b2"/>
<circle cx="216.7" cy="1859.9" r="2.6" class="b2"/>
<circle cx="95.2" cy="1714" r="2.7" class="b1"/>
<circle cx="62.7" cy="1773.9" r="3.1" class="b1"/>
<circle cx="222" cy="1798.6" r="3.1" class="b3"/>
<circle cx="257.8" cy="1825.5" r="3.2" class="b4"/>
<circle cx="66.1" cy="1872.8" r="3" class="b3"/>
<circle cx="53.7" cy="1908.9" r="3.2" class="b1"/>
<circle cx="118.1" cy="1806" r="2.9" class="b1"/>
<circle cx="233.4" cy="1786.3" r="2.7" class="b4"/>
<circle cx="61.5" cy="1715.5" r="3.1" class="b1"/>
<circle cx="41.6" cy="1878.8" r="2.9" class="b1"/>
<circle cx="100" cy="1820.4" r="2.9" class="b4"/>
<circle cx="189.5" cy="1891.4" r="3.1" class="b4"/>
<circle cx="247.5" cy="1787.9" r="3.2" class="b1"/>
<circle cx="186.1" cy="1740.4" r="2.9" class="b1"/>
<circle cx="32.5" cy="1884.5" r="2.6" class="b3"/>
<circle cx="187.6" cy="1877" r="2.7" class="b3"/>
<circle cx="117.9" cy="1850.3" r="2.8" class="b3"/>
<circle cx="185" cy="1880.3" r="2.9" class="b2"/>
<circle cx="83.6" cy="1715.3" r="3.4" class="b5"/>
<circle cx="165.3" cy="1780.1" r="3.1" class="b1"/>
<circle cx="58.7" cy="1711.3" r="3.2" class="b3"/>
<circle cx="251.1" cy="1789.3" r="3.1" class="b2"/>
<circle cx="289.2" cy="1808" r="3.4" class="b2"/>
<circle cx="23.7" cy="1751.3" r="2.8" class="b4"/>
<circle cx="243.2" cy="1794.7" r="3" class="b3"/>
<circle cx="102" cy="1752.9" r="2.7" class="b1"/>
<circle cx="91.1" cy="1769.3" r="3.4" class="b1"/>
<circle cx="70.4" cy="1877.6" r="3.2" class="b2"/>
<circle cx="227.7" cy="1750.5" r="3.2" class="b5"/>
<circle cx="208.7" cy="1768.4" r="3.3" class="b4"/>
<circle cx="101" cy="1840.6" r="3.4" class="b3"/>
<circle cx="150.6" cy="1855.3" r="2.6" class="b5"/>
<circle cx="89.9" cy="1806" r="2.9" class="b2"/>
<circle cx="242.8" cy="1813.6" r="2.9" class="b4"/>
<circle cx="184.9" cy="1894.1" r="3" class="b4"/>
<circle cx="263.6" cy="1801.4" r="3.3" class="b2"/>
<circle cx="91.9" cy="1755.3" r="3.3" class="b5"/>
<circle cx="41.1" cy="1769.1" r="3.2" class="b5"/>
<circle cx="188.1" cy="1766" r="3.3" class="b1"/>
<circle cx="149.4" cy="1774" r="3.1" class="b3"/>
<circle cx="114.1" cy="1788" r="2.8" class="b3"/>
<circle cx="67.7" cy="1799.2" r="2.9" class="b2"/>
<circle cx="66.2" cy="1799.6" r="3.2" class="b3"/>
<circle cx="54.8" cy="1852.7" r="3.3" class="b3"/>
<circle cx="213.1" cy="1756.2" r="3.2" class="b4"/>
<circle cx="248.8" cy="1791.3" r="2.9" class="b3"/>
<circle cx="223.8" cy="1856.8" r="2.8" class="b3"/>
<circle cx="192.3" cy="1685.9" r="2.8" class="b4"/>
<circle cx="57" cy="1873.1" r="2.6" class="b5"/>
<circle cx="79.4" cy="1757.7" r="3.3" class="b4"/>
<circle cx="258.8" cy="1793.9" r="3.3" class="b1"/>
<circle cx="83.8" cy="1797.9" r="3.3" class="b2"/>
<circle cx="204.8" cy="1748.3" r="2.9" class="b3"/>
<circle cx="59.6" cy="1743.7" r="2.8" class="b2"/>
<circle cx="191" cy="1883.9" r="3.1" class="b1"/>
<circle cx="185.8" cy="1770.9" r="2.8" class="b1"/>
<circle cx="237.2" cy="1817" r="3.1" class="b2"/>
<circle cx="52.5" cy="1853.8" r="2.9" class="b4"/>
<circle cx="36.8" cy="1761.3" r="2.9" class="b5"/>
<circle cx="35.3" cy="1757.6" r="2.8" class="b5"/>
<circle cx="63" cy="1708.3" r="3.1" class="b4"/>
<circle cx="61.2" cy="1751.9" r="2.9" class="b1"/>
<circle cx="62" cy="1726.9" r="3.2" class="b2"/>
<circle cx="69" cy="1753.1" r="2.6" class="b4"/>
<circle cx="193.8" cy="1690.2" r="2.8" class="b4"/>
<circle cx="224.1" cy="1824.5" r="2.6" class="b2"/>
<circle cx="67.6" cy="1876.4" r="2.8" class="b2"/>
<circle cx="57" cy="1856.6" r="3.4" class="b4"/>
<circle cx="55.8" cy="1792" r="3" class="b4"/>
<circle cx="60.4" cy="1823.8" r="2.8" class="b5"/>
<circle cx="173.2" cy="1741.6" r="3.1" class="b2"/>
<circle cx="217.1" cy="1790.6" r="3.2" class="b2"/>
<circle cx="263.6" cy="1828.1" r="3.3" class="b1"/>
<circle cx="86.9" cy="1845.9" r="2.9" class="b3"/>
<circle cx="104" cy="1742.2" r="3.1" class="b3"/>
<circle cx="239.3" cy="1743.1" r="3" class="b5"/>
<circle cx="196.4" cy="1739.6" r="2.8" class="b3"/>
<circle cx="99.4" cy="1816.3" r="2.9" class="b5"/>
<circle cx="119.6" cy="1806.3" r="3.2" class="b5"/>
<circle cx="205.3" cy="1711.7" r="2.9" class="b3"/>
<circle cx="147" cy="1765" r="3.2" class="b3"/>
<circle cx="211.2" cy="1798.5" r="2.7" class="b1"/>
<circle cx="109.2" cy="1843" r="3" class="b1"/>
<circle cx="156.1" cy="1779.8" r="3.4" class="b4"/>
<circle cx="57.6" cy="1831.2" r="3.1" class="b5"/>
<circle cx="169.3" cy="1699.8" r="3.1" class="b4"/>
<circle cx="241.2" cy="1884.7" r="3.2" class="b3"/>
<circle cx="169.4" cy="1755.3" r="3.2" class="b4"/>
<circle cx="110.9" cy="1823.3" r="3.3" class="b2"/>
<circle cx="38.4" cy="1731.4" r="2.8" class="b1"/>
<circle cx="129.7" cy="1751" r="3.2" class="b1"/>
<circle cx="71.3" cy="1808.7" r="3" class="b4"/>
<circle cx="186.9" cy="1782.6" r="3.3" class="b5"/>
<circle cx="159.2" cy="1714" r="3.1" class="b1"/>
<circle cx="122.7" cy="1795.5" r="3" class="b2"/>
<circle cx="57.3" cy="1722.8" r="3" class="b2"/>
<circle cx="217.1" cy="1777.9" r="3.4" class="b5"/>
<circle cx="182.8" cy="1912.5" r="2.6" class="b4"/>
<circle cx="197" cy="1782.9" r="3.4" class="b4"/>
<circle cx="193.4" cy="1773" r="3.1" class="b3"/>
<circle cx="163.7" cy="1703.6" r="3.2" class="b4"/>
<circle cx="72.2" cy="1799.3" r="2.7" class="b4"/>
<circle cx="106.1" cy="1850.2" r="2.7" class="b4"/>
<circle cx="260.2" cy="1887.7" r="2.9" class="b5"/>
<circle cx="155.9" cy="1741.7" r="3.4" class="b4"/>
<circle cx="79.8" cy="1852.7" r="2.7" class="b4"/>
<circle cx="176.1" cy="1880.2" r="2.7" class="b3"/>
<circle cx="155.3" cy="1775.3" r="2.8" class="b3"/>
<circle cx="116.8" cy="1791.8" r="2.7" class="b5"/>
<circle cx="100.4" cy="1805.7" r="2.6" class="b2"/>
<circle cx="196.7" cy="1715.5" r="3.2" class="b1"/>
<circle cx="225.7" cy="1769.5" r="3.4" class="b2"/>
<circle cx="191.5" cy="1899.7" r="3.3" class="b3"/>
<circle cx="69.9" cy="1720.6" r="2.9" class="b2"/>
<circle cx="235.1" cy="1848.4" r="3" class="b1"/>
<circle cx="78.4" cy="1739.3" r="2.7" class="b2"/>
<circle cx="94.5" cy="1885.7" r="3.1" class="b2"/>
<circle cx="211.8" cy="1708" r="2.7" class="b2"/>
<circle cx="34.5" cy="1745.1" r="2.9" class="b1"/>
<circle cx="257.2" cy="1798.7" r="2.6" class="b1"/>
<circle cx="47.1" cy="1789.7" r="2.9" class="b3"/>
<circle cx="162" cy="1772.3" r="2.9" class="b1"/>
<circle cx="79.7" cy="1742.8" r="3.2" class="b5"/>
<circle cx="54.4" cy="1705.7" r="2.8" class="b3"/>
<circle cx="205.8" cy="1817.1" r="3.1" class="b3"/>
<circle cx="206.1" cy="1777.3" r="3.1" class="b3"/>
<circle cx="74.6" cy="1756.2" r="3" class="b4"/>
<circle cx="176" cy="1758.8" r="2.8" class="b3"/>
<circle cx="46.6" cy="1720.7" r="3.2" class="b5"/>
<circle cx="207.3" cy="1761.1" r="3.1" class="b2"/>
<circle cx="80.8" cy="1729.9" r="2.7" class="b5"/>
<circle cx="188.3" cy="1703.1" r="3" class="b5"/>
<circle cx="39" cy="1869.4" r="3.3" class="b3"/>
<circle cx="27.1" cy="1861.7" r="3.1" class="b4"/>
<circle cx="190.7" cy="1747.3" r="2.7" class="b5"/>
<circle cx="177.1" cy="1853.9" r="2.8" class="b5"/>
<circle cx="172.4" cy="1876.6" r="2.7" class="b1"/>
<circle cx="40.5" cy="1746.5" r="3.1" class="b1"/>
<circle cx="54.2" cy="1870" r="3.1" class="b3"/>
<circle cx="39.6" cy="1734.1" r="2.6" class="b1"/>
<circle cx="73.4" cy="1803.3" r="3.4" class="b1"/>
<circle cx="207.6" cy="1709.5" r="2.7" class="b4"/>
<circle cx="178.1" cy="1757" r="2.7" class="b5"/>
<circle cx="256.6" cy="1820.2" r="3.4" class="b5"/>
<circle cx="198.5" cy="1897.5" r="3.3" class="b4"/>
<circle cx="93.1" cy="1796" r="2.9" class="b2"/>
<circle cx="93.8" cy="1833.4" r="2.8" class="b1"/>
<circle cx="152.5" cy="1775.4" r="3.2" class="b5"/>
<circle cx="207.8" cy="1817.1" r="3" class="b1"/>
<circle cx="54.1" cy="1760.3" r="3.2" class="b4"/>
<circle cx="117.4" cy="1816.6" r="2.6" class="b4"/>
<circle cx="253.9" cy="1852.4" r="2.9" class="b4"/>
<circle cx="187.6" cy="1712.1" r="2.7" class="b3"/>
<circle cx="186.6" cy="1789.7" r="2.6" class="b3"/>
<circle cx="217.2" cy="1790.6" r="3.1" class="b5"/>
<circle cx="191.2" cy="1887.4" r="3.2" class="b5"/>
<circle cx="95.9" cy="1738" r="2.7" class="b5"/>
<circle cx="176.6" cy="1768.7" r="2.7" class="b4"/>
<circle cx="30.9" cy="1764.4" r="3.3" class="b2"/>
<circle cx="191.6" cy="1906.4" r="3.1" class="b5"/>
<circle cx="144.3" cy="1804.6" r="2.8" class="b2"/>
<circle cx="51.4" cy="1767.4" r="3" class="b1"/>
<circle cx="180.2" cy="1698.2" r="2.8" class="b5"/>
<circle cx="101.3" cy="1764.5" r="2.7" class="b1"/>
<circle cx="36.2" cy="1731.7" r="3.2" class="b3"/>
<circle cx="136.4" cy="1779.9" r="3.2" class="b1"/>
<circle cx="92.7" cy="1807.5" r="3.3" class="b1"/>
<circle cx="180.3" cy="1696.2" r="3.2" class="b2"/>
<circle cx="212.9" cy="1778.4" r="2.7" class="b3"/>
<circle cx="182.3" cy="1776.2" r="3" class="b2"/>
<circle cx="195.2" cy="1697.7" r="2.7" class="b1"/>
<circle cx="239" cy="1881.4" r="2.6" class="b4"/>
<circle cx="58.9" cy="1746.7" r="2.7" class="b2"/>
<circle cx="76.7" cy="1769.6" r="3" class="b2"/>
<circle cx="231.4" cy="1775.7" r="3.2" class="b2"/>
<circle cx="70.1" cy="1707.4" r="3.3" class="b5"/>
<circle cx="152.6" cy="1776.4" r="3.2" class="b3"/>
<circle cx="66.7" cy="1814.4" r="3.3" class="b3"/>
<circle cx="65.1" cy="1800.5" r="2.8" class="b2"/>
<circle cx="169.1" cy="1786.8" r="2.9" class="b5"/>
<circle cx="245.2" cy="1756.2" r="3.3" class="b5"/>
<circle cx="214.3" cy="1722.8" r="2.8" class="b3"/>
<circle cx="94.7" cy="1803.3" r="3" class="b3"/>
<circle cx="63.3" cy="1869.3" r="2.6" class="b3"/>
<circle cx="81.3" cy="1754.3" r="2.8" class="b4"/>
<circle cx="214.4" cy="1806.3" r="3" class="b3"/>
<circle cx="170.1" cy="1715.7" r="2.9" class="b3"/>
<circle cx="247.9" cy="1758.7" r="2.8" class="b2"/>
<circle cx="195.1" cy="1819.8" r="2.6" class="b1"/>
<circle cx="118.5" cy="1821.9" r="3.1" class="b2"/>
<circle cx="83.1" cy="1807.8" r="2.7" class="b5"/>
<circle cx="21.1" cy="1752.4" r="3.1" class="b4"/>
<circle cx="177.6" cy="1886.8" r="3.4" class="b1"/>
<circle cx="38.9" cy="1894" r="3.3" class="b5"/>
<circle cx="122.4" cy="1835.3" r="3" class="b1"/>
<circle cx="39.5" cy="1838" r="2.6" class="b3"/>
<circle cx="200.5" cy="1733.9" r="3.3" class="b1"/>
<circle cx="47.8" cy="1739.2" r="3.2" class="b1"/>
<circle cx="165.1" cy="1753.4" r="3.1" class="b1"/>
<circle cx="111.2" cy="1860.4" r="3" class="b1"/>
<circle cx="17.9" cy="1727.9" r="2.8" class="b5"/>
<circle cx="52.5" cy="1795.9" r="3.1" class="b3"/>
<circle cx="159.7" cy="1715.4" r="3.2" class="b5"/>
<circle cx="213.5" cy="1788.4" r="2.7" class="b3"/>
<circle cx="172.8" cy="1734" r="3.2" class="b4"/>
<circle cx="113.4" cy="1828.6" r="2.7" class="b3"/>
<circle cx="149.4" cy="1748.7" r="3" class="b4"/>
<circle cx="243.7" cy="1737.9" r="3.1" class="b3"/>
<circle cx="187.1" cy="1690" r="2.8" class="b4"/>
<circle cx="165.4" cy="1720.6" r="3.3" class="b3"/>
<circle cx="63.4" cy="1713.5" r="3.3" class="b2"/>
<circle cx="57.1" cy="1702.8" r="3.2" class="b5"/>
<circle cx="254.3" cy="1817" r="2.6" class="b4"/>
<circle cx="64.9" cy="1852.7" r="3" class="b2"/>
<circle cx="190.3" cy="1748.9" r="3.2" class="b4"/>
<circle cx="77.2" cy="1737.2" r="2.8" class="b3"/>
<circle cx="158.4" cy="1779.4" r="2.8" class="b1"/>
<circle cx="195.8" cy="1734.8" r="3.4" class="b1"/>
<circle cx="189.7" cy="1709.1" r="3" class="b2"/>
<circle cx="117" cy="1788.8" r="3.4" class="b2"/>
<circle cx="230.1" cy="1870.2" r="2.7" class="b4"/>
<circle cx="152.4" cy="1749.4" r="3.3" class="b1"/>
<circle cx="196.2" cy="1746.2" r="3.1" class="b4"/>
<circle cx="73.7" cy="1807.7" r="3.2" class="b5"/>
<circle cx="195.4" cy="1741.5" r="2.8" class="b2"/>
<circle cx="123.6" cy="1713.4" r="2.7" class="b3"/>
<circle cx="86" cy="1750.6" r="2.6" class="b1"/>
<circle cx="75.5" cy="1718.8" r="3.1" class="b3"/>
<circle cx="56.3" cy="1891.3" r="3.2" class="b4"/>
<circle cx="47.5" cy="1760.1" r="2.8" class="b4"/>
<circle cx="150.5" cy="1771.6" r="3.1" class="b3"/>
<circle cx="71.7" cy="1750.9" r="3.1" class="b2"/>
<circle cx="216" cy="1739.9" r="3.3" class="b4"/>
<circle cx="102.3" cy="1764" r="3.4" class="b1"/>
<circle cx="191.1" cy="1704.8" r="3.3" class="b5"/>
<circle cx="182" cy="1773.3" r="2.8" class="b2"/>
<circle cx="170.3" cy="1689" r="3" class="b4"/>
<circle cx="189.3" cy="1704.7" r="2.7" class="b1"/>
<circle cx="180.3" cy="1876.6" r="3.3" class="b4"/>
<circle cx="51.7" cy="1756" r="2.7" class="b1"/>
<circle cx="186.8" cy="1889.7" r="3.1" class="b3"/>
<circle cx="83.1" cy="1754.4" r="3.3" class="b3"/>
<circle cx="110.4" cy="1785.7" r="3.1" class="b4"/>
<circle cx="63.9" cy="1856.2" r="3.2" class="b1"/>
<circle cx="185" cy="1829.3" r="2.9" class="b2"/>
<circle cx="107.5" cy="1821.5" r="3.1" class="b1"/>
<circle cx="84.4" cy="1886.9" r="3.2" class="b2"/>
<circle cx="177.9" cy="1882.9" r="3.1" class="b5"/>
<circle cx="80.8" cy="1750.2" r="2.9" class="b3"/>
<circle cx="92.7" cy="1809.7" r="2.9" class="b2"/>
<circle cx="183" cy="1729.3" r="3.4" class="b1"/>
<circle cx="6.9" cy="1874.2" r="2.9" class="b4"/>
<circle cx="211.3" cy="1749.1" r="3.2" class="b3"/>
<circle cx="200.4" cy="1784.9" r="3" class="b4"/>
<circle cx="199.9" cy="1896.4" r="2.8" class="b1"/>
<circle cx="168.6" cy="1710.3" r="2.9" class="b1"/>
<circle cx="18.5" cy="1877.1" r="3.1" class="b2"/>
<circle cx="58.7" cy="1790.5" r="3.1" class="b5"/>
<circle cx="143.2" cy="1781.9" r="2.9" class="b2"/>
<circle cx="69.1" cy="1817.9" r="3" class="b5"/>
<circle cx="192.8" cy="1710.3" r="3.1" class="b5"/>
<circle cx="150.4" cy="1745.2" r="3.4" class="b3"/>
<circle cx="146.4" cy="1764.2" r="3" class="b4"/>
<circle cx="91.5" cy="1734.1" r="3" class="b4"/>
<circle cx="85.2" cy="1772.1" r="2.6" class="b2"/>
<circle cx="71.8" cy="1764.5" r="3.3" class="b5"/>
<circle cx="38.6" cy="1728.6" r="2.8" class="b1"/>
<circle cx="58" cy="1756.9" r="3" class="b3"/>
<circle cx="218.9" cy="1779.9" r="3" class="b4"/>
<circle cx="32.4" cy="1832" r="3" class="b4"/>
<circle cx="103.4" cy="1839.1" r="2.6" class="b5"/>
<circle cx="88.1" cy="1715.6" r="3.1" class="b3"/>
<circle cx="41.5" cy="1760.1" r="2.8" class="b5"/>
<circle cx="142.8" cy="1798.2" r="3" class="b4"/>
<circle cx="69.8" cy="1764.5" r="2.6" class="b4"/>
<circle cx="50.9" cy="1758.9" r="2.7" class="b4"/>
<circle cx="133" cy="1775.1" r="3.3" class="b5"/>
<circle cx="31.3" cy="1725.6" r="2.9" class="b1"/>
<circle cx="175.3" cy="1711.4" r="3.2" class="b5"/>
<circle cx="232.6" cy="1866.6" r="3.3" class="b5"/>
<circle cx="45.7" cy="1759.9" r="3.2" class="b5"/>
<circle cx="174.2" cy="1780.2" r="3.1" class="b2"/>
<circle cx="53.8" cy="1725.7" r="2.9" class="b1"/>
<circle cx="96.2" cy="1904.8" r="2.9" class="b4"/>
<circle cx="251.3" cy="1867.5" r="2.6" class="b3"/>
<circle cx="223.7" cy="1799.3" r="2.8" class="b3"/>
<circle cx="203.4" cy="1711.3" r="2.6" class="b2"/>
<circle cx="149.1" cy="1747" r="3" class="b5"/>
<circle cx="93" cy="1883.4" r="2.9" class="b4"/>
<circle cx="91.1" cy="1718.7" r="3.4" class="b4"/>
<circle cx="53.3" cy="1867.4" r="2.9" class="b5"/>
<circle cx="232.2" cy="1803.8" r="2.9" class="b2"/>
<circle cx="158.1" cy="1757.7" r="3.1" class="b3"/>
<circle cx="182.3" cy="1886.4" r="2.9" class="p1"/>
<circle cx="204.6" cy="1773.8" r="2.6" class="p4"/>
<circle cx="153.8" cy="1788.6" r="2.7" class="p3"/>
<circle cx="262.5" cy="1870.1" r="2.9" class="p2"/>
<circle cx="213" cy="1902" r="3" class="p4"/>
<circle cx="106" cy="1767.8" r="2.9" class="p3"/>
<circle cx="51" cy="1722.7" r="2.9" class="p2"/>
<circle cx="204.3" cy="1708.2" r="2.7" class="p1"/>
<circle cx="237.9" cy="1905.1" r="3.1" class="p3"/>
<circle cx="238" cy="1911.6" r="2.6" class="p3"/>
<circle cx="174.2" cy="1758.1" r="2.8" class="p4"/>
<circle cx="87.9" cy="1766.5" r="2.7" class="p3"/>
<circle cx="27.1" cy="1774.8" r="2.8" class="p4"/>
<circle cx="207.2" cy="1793" r="2.9" class="p2"/>
<circle cx="193.7" cy="1780.3" r="2.9" class="p4"/>
<circle cx="41" cy="1750.4" r="2.8" class="p1"/>
<circle cx="105.1" cy="1756.8" r="3" class="p1"/>
<circle cx="187.7" cy="1918" r="2.9" class="p3"/>
<circle cx="148.8" cy="1850.4" r="2.8" class="p1"/>
<circle cx="32.7" cy="1867.9" r="2.5" class="p2"/>
<circle cx="157.7" cy="1754.8" r="3" class="p3"/>
<circle cx="178.4" cy="1834.9" r="2.7" class="p3"/>
<circle cx="262.6" cy="1792.1" r="2.9" class="p3"/>
<circle cx="186.5" cy="1893.8" r="2.9" class="p1"/>
<circle cx="190.8" cy="1703.8" r="3" class="p1"/>
<circle cx="29.8" cy="1773.2" r="3" class="p2"/>
<circle cx="224.1" cy="1745.6" r="3" class="p3"/>
<circle cx="71.9" cy="1748.6" r="2.9" class="p4"/>
<circle cx="212.7" cy="1710.1" r="2.6" class="p4"/>
<circle cx="56.9" cy="1838.5" r="2.9" class="p1"/>
<circle cx="131" cy="1864.2" r="2.9" class="p1"/>
<circle cx="117.4" cy="1746.5" r="2.9" class="p3"/>
<circle cx="39" cy="1748.4" r="2.7" class="p4"/>
<circle cx="51.1" cy="1883.2" r="3" class="p2"/>
<circle cx="226.8" cy="1819.1" r="3" class="p1"/>
<circle cx="68.3" cy="1868.8" r="3" class="p4"/>
<circle cx="87.6" cy="1791.4" r="2.7" class="p4"/>
<circle cx="126.4" cy="1787.1" r="2.8" class="p2"/>
<circle cx="71.4" cy="1890.3" r="2.6" class="p2"/>
<circle cx="51.1" cy="1857" r="2.9" class="p4"/>
<circle cx="167.6" cy="1912" r="2.8" class="p2"/>
<circle cx="180.3" cy="1761.9" r="2.9" class="p2"/>
<circle cx="184.6" cy="1715.9" r="2.6" class="p2"/>
<circle cx="176.3" cy="1852.6" r="2.6" class="p3"/>
<circle cx="202.6" cy="1733.5" r="2.5" class="p3"/>
<circle cx="194.1" cy="1696" r="2.6" class="p1"/>
<circle cx="150.5" cy="1845.4" r="2.9" class="p1"/>
<circle cx="58.5" cy="1786.3" r="3.1" class="p2"/>
<circle cx="224.3" cy="1715.2" r="2.9" class="p3"/>
<circle cx="119.5" cy="1747" r="2.8" class="p2"/>
<circle cx="128.6" cy="1769.3" r="3" class="p4"/>
<circle cx="216.7" cy="1873.6" r="2.6" class="p2"/>
<circle cx="75" cy="1784.2" r="2.9" class="p3"/>
<circle cx="164.3" cy="1909.3" r="2.6" class="p4"/>
<circle cx="42.3" cy="1742.8" r="2.6" class="p4"/>
<circle cx="115.1" cy="1808.5" r="2.6" class="p3"/>
<circle cx="35.2" cy="1896.4" r="2.9" class="p1"/>
<circle cx="144.5" cy="1769.5" r="3.1" class="p3"/>
<circle cx="111.8" cy="1832.9" r="2.6" class="p1"/>
<circle cx="101.2" cy="1721" r="2.8" class="p3"/>
<circle cx="110.4" cy="1798" r="2.9" class="p3"/>
<circle cx="149.7" cy="1782.4" r="2.9" class="p1"/>
<circle cx="69.7" cy="1760.7" r="2.9" class="p4"/>
<circle cx="85.3" cy="1740.9" r="3.1" class="p1"/>
<circle cx="58.3" cy="1742" r="3" class="p4"/>
<circle cx="61.1" cy="1728.1" r="2.8" class="p4"/>
<circle cx="112.7" cy="1815.7" r="2.6" class="p2"/>
<circle cx="175" cy="1897.8" r="2.9" class="p3"/>
<circle cx="46.4" cy="1744.5" r="2.7" class="p1"/>
<circle cx="222.1" cy="1821.1" r="2.5" class="p4"/>
<circle cx="33.4" cy="1744.3" r="2.9" class="p2"/>
<circle cx="97.8" cy="1809.8" r="2.5" class="p4"/>
<circle cx="57.9" cy="1731.7" r="2.8" class="p4"/>
<circle cx="39.8" cy="1741.4" r="2.7" class="p4"/>
<circle cx="167.4" cy="1706.3" r="3.1" class="p1"/>
<circle cx="112.3" cy="1853.6" r="2.8" class="p4"/>
<circle cx="179.3" cy="1748.6" r="2.5" class="p4"/>
<circle cx="143.8" cy="1794.1" r="2.7" class="p4"/>
<circle cx="214.3" cy="1897.9" r="2.8" class="p3"/>
<circle cx="34.8" cy="1709.6" r="2.8" class="p2"/>
<circle cx="47.4" cy="1746.3" r="2.9" class="p4"/>
<circle cx="130.3" cy="1865.9" r="2.8" class="p1"/>
<circle cx="193.9" cy="1699.4" r="2.9" class="p3"/>
<circle cx="243.1" cy="1804" r="2.7" class="p4"/>
<circle cx="220.1" cy="1736.9" r="2.6" class="p2"/>
<circle cx="224.2" cy="1849" r="3" class="p3"/>
<circle cx="116.4" cy="1799.4" r="3.1" class="p4"/>
<circle cx="128.2" cy="1909.7" r="2.9" class="p4"/>
<circle cx="178.6" cy="1834.6" r="3" class="p1"/>
<circle cx="186" cy="1697.9" r="2.8" class="p4"/>
<circle cx="146.7" cy="1882.9" r="2.7" class="p2"/>
<circle cx="48" cy="1904.3" r="3" class="p4"/>
<circle cx="72.6" cy="1769.6" r="2.7" class="p2"/>
<circle cx="115.8" cy="1822.8" r="2.7" class="p4"/>
<circle cx="154.7" cy="1726.4" r="2.9" class="p2"/>
<circle cx="120.5" cy="1784.9" r="2.7" class="p3"/>
<circle cx="244.4" cy="1868.6" r="3" class="p3"/>
<circle cx="197.9" cy="1726.7" r="3" class="p1"/>
<circle cx="213.3" cy="1884.2" r="2.7" class="p1"/>
<circle cx="167.6" cy="1751.2" r="2.9" class="p3"/>
<circle cx="169.7" cy="1731.6" r="2.6" class="p3"/>
<circle cx="86.6" cy="1795.8" r="2.6" class="p3"/>
<circle cx="139.2" cy="1737.9" r="2.5" class="p3"/>
<circle cx="202.1" cy="1706.4" r="2.6" class="p4"/>
<circle cx="31.4" cy="1782" r="2.9" class="p1"/>
<circle cx="136.3" cy="1802.3" r="2.9" class="p2"/>
<circle cx="113.9" cy="1822.3" r="3" class="p2"/>
<circle cx="239" cy="1775" r="3.1" class="p1"/>
<circle cx="236.8" cy="1878.8" r="3.1" class="p2"/>
<circle cx="96.5" cy="1758.4" r="3" class="p1"/>
</g></g>
<clipPath id="m102"><rect x="280.6" y="1711.4" width="239.8" height="202.3"/></clipPath>
<rect x="280.6" y="1711.4" width="239.8" height="202.3" fill="#240a64"/>
<g clip-path="url(#m102)">
<g filter="url(#haze)" opacity="0.55">
<circle cx="452.6" cy="1769.2" r="6" fill="#2a18b0"/>
<circle cx="508.6" cy="1752.9" r="6" fill="#2a18b0"/>
<circle cx="339.9" cy="1754" r="6" fill="#2a18b0"/>
<circle cx="308.4" cy="1868.4" r="6" fill="#2a18b0"/>
<circle cx="455.8" cy="1835.8" r="6" fill="#2a18b0"/>
<circle cx="488" cy="1730.3" r="6" fill="#2a18b0"/>
<circle cx="362.2" cy="1731.7" r="6" fill="#2a18b0"/>
<circle cx="472.7" cy="1864.9" r="6" fill="#2a18b0"/>
<circle cx="313.8" cy="1713.2" r="6" fill="#2a18b0"/>
<circle cx="435.4" cy="1803.8" r="6" fill="#2a18b0"/>
<circle cx="447" cy="1732.6" r="6" fill="#2a18b0"/>
<circle cx="361.8" cy="1806.9" r="6" fill="#2a18b0"/>
<circle cx="466.2" cy="1873.1" r="6" fill="#2a18b0"/>
<circle cx="328.9" cy="1839.8" r="6" fill="#2a18b0"/>
<circle cx="510.2" cy="1850.6" r="6" fill="#2a18b0"/>
<circle cx="310.3" cy="1853.4" r="6" fill="#2a18b0"/>
<circle cx="348.1" cy="1832.5" r="6" fill="#2a18b0"/>
<circle cx="307.1" cy="1839.1" r="6" fill="#2a18b0"/>
<circle cx="468.9" cy="1728.2" r="6" fill="#2a18b0"/>
<circle cx="449.9" cy="1826.8" r="6" fill="#2a18b0"/>
<circle cx="423.5" cy="1867.2" r="6" fill="#2a18b0"/>
<circle cx="457" cy="1815.9" r="6" fill="#2a18b0"/>
<circle cx="491.2" cy="1737.9" r="6" fill="#2a18b0"/>
<circle cx="371.3" cy="1837.8" r="6" fill="#2a18b0"/>
<circle cx="457.6" cy="1808.6" r="6" fill="#2a18b0"/>
<circle cx="469.4" cy="1850.4" r="6" fill="#2a18b0"/>
<circle cx="449" cy="1803.8" r="6" fill="#2a18b0"/>
<circle cx="509.2" cy="1849" r="6" fill="#2a18b0"/>
<circle cx="442.8" cy="1771.5" r="6" fill="#2a18b0"/>
<circle cx="450.8" cy="1752.6" r="6" fill="#2a18b0"/>
<circle cx="439.3" cy="1837.5" r="6" fill="#2a18b0"/>
<circle cx="327.8" cy="1743" r="6" fill="#2a18b0"/>
<circle cx="389.3" cy="1896.6" r="6" fill="#2a18b0"/>
<circle cx="417.7" cy="1812.9" r="6" fill="#2a18b0"/>
<circle cx="506.3" cy="1754.2" r="6" fill="#2a18b0"/>
<circle cx="433.1" cy="1818.5" r="6" fill="#2a18b0"/>
<circle cx="428.7" cy="1831.3" r="6" fill="#2a18b0"/>
<circle cx="360.3" cy="1749.4" r="6" fill="#2a18b0"/>
<circle cx="400.7" cy="1818.9" r="6" fill="#2a18b0"/>
<circle cx="452.2" cy="1850.9" r="6" fill="#2a18b0"/>
<circle cx="295.5" cy="1855.3" r="6" fill="#2a18b0"/>
<circle cx="303" cy="1834.5" r="6" fill="#2a18b0"/>
<circle cx="442" cy="1824.6" r="6" fill="#2a18b0"/>
<circle cx="314" cy="1834.8" r="6" fill="#2a18b0"/>
<circle cx="336.1" cy="1829.7" r="6" fill="#2a18b0"/>
<circle cx="427.1" cy="1864.3" r="6" fill="#2a18b0"/>
<circle cx="413.6" cy="1794.1" r="6" fill="#2a18b0"/>
<circle cx="492.1" cy="1851.1" r="6" fill="#2a18b0"/>
<circle cx="429.7" cy="1837.1" r="6" fill="#2a18b0"/>
<circle cx="463.6" cy="1840.6" r="6" fill="#2a18b0"/>
<circle cx="513.1" cy="1749.1" r="6" fill="#2a18b0"/>
<circle cx="314.5" cy="1836.5" r="6" fill="#2a18b0"/>
<circle cx="514.7" cy="1904.3" r="6" fill="#2a18b0"/>
<circle cx="419.9" cy="1834.5" r="6" fill="#2a18b0"/>
<circle cx="490.8" cy="1840.4" r="6" fill="#2a18b0"/>
<circle cx="399.2" cy="1762" r="6" fill="#2a18b0"/>
<circle cx="426.6" cy="1871.3" r="6" fill="#2a18b0"/>
<circle cx="327.7" cy="1722.7" r="6" fill="#2a18b0"/>
<circle cx="483.3" cy="1822.4" r="6" fill="#2a18b0"/>
<circle cx="465.5" cy="1847.3" r="6" fill="#2a18b0"/>
<circle cx="409.9" cy="1724.3" r="6" fill="#2a18b0"/>
<circle cx="505.4" cy="1747.5" r="6" fill="#2a18b0"/>
<circle cx="423.5" cy="1828.6" r="6" fill="#2a18b0"/>
<circle cx="421.8" cy="1823.7" r="6" fill="#2a18b0"/>
<circle cx="327.6" cy="1839.2" r="6" fill="#2a18b0"/>
<circle cx="337.9" cy="1718.2" r="6" fill="#2a18b0"/>
<circle cx="337.6" cy="1836.1" r="6" fill="#2a18b0"/>
<circle cx="364.6" cy="1737.2" r="6" fill="#2a18b0"/>
<circle cx="473.3" cy="1837.7" r="6" fill="#2a18b0"/>
<circle cx="391.4" cy="1888.3" r="6" fill="#2a18b0"/>
<circle cx="337.1" cy="1740.1" r="6" fill="#2a18b0"/>
<circle cx="342.6" cy="1839.9" r="6" fill="#2a18b0"/>
<circle cx="394.8" cy="1800.7" r="6" fill="#2a18b0"/>
<circle cx="450.1" cy="1877.1" r="6" fill="#2a18b0"/>
<circle cx="445.4" cy="1805.1" r="6" fill="#2a18b0"/>
<circle cx="418.7" cy="1834.3" r="6" fill="#2a18b0"/>
<circle cx="346.1" cy="1802.4" r="6" fill="#2a18b0"/>
<circle cx="424.5" cy="1820.8" r="6" fill="#2a18b0"/>
<circle cx="436.8" cy="1781.8" r="6" fill="#2a18b0"/>
<circle cx="395.9" cy="1769.7" r="6" fill="#2a18b0"/>
<circle cx="313.4" cy="1835" r="6" fill="#2a18b0"/>
<circle cx="432.9" cy="1827.9" r="6" fill="#2a18b0"/>
<circle cx="301.1" cy="1828.9" r="6" fill="#2a18b0"/>
<circle cx="387.4" cy="1785.8" r="6" fill="#2a18b0"/>
<circle cx="499.3" cy="1739.1" r="6" fill="#2a18b0"/>
<circle cx="338.3" cy="1736.3" r="6" fill="#2a18b0"/>
<circle cx="442.3" cy="1760.2" r="6" fill="#2a18b0"/>
<circle cx="424.2" cy="1761.4" r="6" fill="#2a18b0"/>
<circle cx="450.6" cy="1831.5" r="6" fill="#2a18b0"/>
<circle cx="395.1" cy="1823.2" r="6" fill="#2a18b0"/>
<circle cx="419.7" cy="1813.1" r="6" fill="#2a18b0"/>
<circle cx="415.8" cy="1882.1" r="6" fill="#2a18b0"/>
<circle cx="499.1" cy="1860.5" r="6" fill="#2a18b0"/>
<circle cx="478.5" cy="1851" r="6" fill="#2a18b0"/>
<circle cx="468.6" cy="1822.8" r="6" fill="#2a18b0"/>
<circle cx="351.1" cy="1825.2" r="6" fill="#2a18b0"/>
<circle cx="427.4" cy="1810.7" r="6" fill="#2a18b0"/>
<circle cx="473" cy="1772.8" r="6" fill="#2a18b0"/>
<circle cx="502.9" cy="1739.6" r="6" fill="#2a18b0"/>
<circle cx="377.8" cy="1792.5" r="6" fill="#2a18b0"/>
<circle cx="402.6" cy="1799" r="6" fill="#2a18b0"/>
<circle cx="496" cy="1874.7" r="6" fill="#2a18b0"/>
<circle cx="332.4" cy="1808.4" r="6" fill="#2a18b0"/>
<circle cx="443.9" cy="1827.8" r="6" fill="#2a18b0"/>
<circle cx="431.5" cy="1848.3" r="6" fill="#2a18b0"/>
<circle cx="418.9" cy="1837.7" r="6" fill="#2a18b0"/>
<circle cx="330.9" cy="1836.2" r="6" fill="#2a18b0"/>
<circle cx="517.3" cy="1816.1" r="6" fill="#2a18b0"/>
<circle cx="481.3" cy="1801.7" r="6" fill="#2a18b0"/>
<circle cx="418.3" cy="1780.4" r="6" fill="#2a18b0"/>
<circle cx="296.4" cy="1865" r="6" fill="#2a18b0"/>
<circle cx="434.2" cy="1852" r="6" fill="#2a18b0"/>
<circle cx="506.3" cy="1845.8" r="6" fill="#2a18b0"/>
<circle cx="405.5" cy="1805.7" r="6" fill="#2a18b0"/>
<circle cx="364.9" cy="1810.6" r="6" fill="#2a18b0"/>
<circle cx="451.2" cy="1760.4" r="6" fill="#2a18b0"/>
<circle cx="284.2" cy="1895.7" r="6" fill="#2a18b0"/>
<circle cx="425" cy="1861.6" r="6" fill="#2a18b0"/>
<circle cx="373.6" cy="1844.6" r="6" fill="#2a18b0"/>
<circle cx="367.5" cy="1810.4" r="6" fill="#2a18b0"/>
<circle cx="317.4" cy="1716" r="6" fill="#2a18b0"/>
<circle cx="410.7" cy="1855" r="6" fill="#2a18b0"/>
<circle cx="391.5" cy="1763.4" r="6" fill="#2a18b0"/>
<circle cx="473.9" cy="1852.1" r="6" fill="#2a18b0"/>
<circle cx="477.7" cy="1759" r="6" fill="#2a18b0"/>
<circle cx="489.8" cy="1846.1" r="6" fill="#2a18b0"/>
<circle cx="450.7" cy="1787.1" r="6" fill="#2a18b0"/>
</g><g filter="url(#blur)">
<circle cx="452.6" cy="1769.2" r="3.3" class="b5"/>
<circle cx="426.5" cy="1847.5" r="2.7" class="b1"/>
<circle cx="282.9" cy="1728.4" r="3.3" class="b4"/>
<circle cx="508.6" cy="1752.9" r="3.3" class="b1"/>
<circle cx="461" cy="1769" r="2.7" class="b1"/>
<circle cx="496.3" cy="1734.9" r="3.2" class="b1"/>
<circle cx="339.9" cy="1754" r="2.9" class="b4"/>
<circle cx="391.9" cy="1755.6" r="3.4" class="b2"/>
<circle cx="412.9" cy="1756.9" r="2.6" class="b2"/>
<circle cx="308.4" cy="1868.4" r="3.2" class="b1"/>
<circle cx="346.2" cy="1765.4" r="2.7" class="b1"/>
<circle cx="378.2" cy="1764.8" r="3" class="b3"/>
<circle cx="455.8" cy="1835.8" r="3.1" class="b4"/>
<circle cx="403.4" cy="1796.3" r="2.8" class="b2"/>
<circle cx="324.4" cy="1841.8" r="2.8" class="b4"/>
<circle cx="488" cy="1730.3" r="3" class="b3"/>
<circle cx="502.4" cy="1886.6" r="3.3" class="b2"/>
<circle cx="316.8" cy="1717.5" r="3" class="b5"/>
<circle cx="362.2" cy="1731.7" r="3" class="b1"/>
<circle cx="329.8" cy="1764.4" r="2.6" class="b4"/>
<circle cx="444.1" cy="1818" r="3" class="b1"/>
<circle cx="472.7" cy="1864.9" r="3.1" class="b3"/>
<circle cx="437.9" cy="1823.8" r="2.7" class="b1"/>
<circle cx="499.9" cy="1803.2" r="3" class="b1"/>
<circle cx="313.8" cy="1713.2" r="2.8" class="b5"/>
<circle cx="323.6" cy="1832.3" r="3.4" class="b3"/>
<circle cx="469.5" cy="1843.1" r="2.8" class="b1"/>
<circle cx="435.4" cy="1803.8" r="3.4" class="b5"/>
<circle cx="319.5" cy="1739.6" r="3.3" class="b5"/>
<circle cx="359.2" cy="1732.2" r="2.9" class="b2"/>
<circle cx="447" cy="1732.6" r="3.3" class="b2"/>
<circle cx="469.2" cy="1824.4" r="3.1" class="b2"/>
<circle cx="501.8" cy="1765.7" r="2.7" class="b5"/>
<circle cx="361.8" cy="1806.9" r="3" class="b1"/>
<circle cx="415.7" cy="1817.1" r="3.2" class="b5"/>
<circle cx="306.8" cy="1851.1" r="3.3" class="b2"/>
<circle cx="466.2" cy="1873.1" r="2.6" class="b5"/>
<circle cx="417.9" cy="1800.4" r="2.7" class="b3"/>
<circle cx="432.1" cy="1802.8" r="2.6" class="b3"/>
<circle cx="328.9" cy="1839.8" r="2.6" class="b3"/>
<circle cx="505.9" cy="1747.6" r="2.9" class="b2"/>
<circle cx="400.5" cy="1764.6" r="2.9" class="b5"/>
<circle cx="510.2" cy="1850.6" r="3.3" class="b5"/>
<circle cx="458.2" cy="1820.3" r="3.2" class="b2"/>
<circle cx="301" cy="1885.4" r="3.2" class="b1"/>
<circle cx="310.3" cy="1853.4" r="3.2" class="b1"/>
<circle cx="299.9" cy="1858.6" r="2.8" class="b3"/>
<circle cx="387.8" cy="1734.3" r="3.3" class="b3"/>
<circle cx="348.1" cy="1832.5" r="2.8" class="b4"/>
<circle cx="496.4" cy="1737.8" r="3.1" class="b5"/>
<circle cx="331.7" cy="1719.2" r="2.8" class="b2"/>
<circle cx="307.1" cy="1839.1" r="2.9" class="b4"/>
<circle cx="406.1" cy="1778.9" r="2.7" class="b1"/>
<circle cx="376.9" cy="1848.8" r="2.9" class="b5"/>
<circle cx="468.9" cy="1728.2" r="2.9" class="b3"/>
<circle cx="462.3" cy="1798" r="3.1" class="b5"/>
<circle cx="403.8" cy="1847.8" r="2.6" class="b3"/>
<circle cx="449.9" cy="1826.8" r="2.7" class="b2"/>
<circle cx="486.3" cy="1762.1" r="2.7" class="b1"/>
<circle cx="284" cy="1813" r="2.7" class="b4"/>
<circle cx="423.5" cy="1867.2" r="3" class="b4"/>
<circle cx="400.3" cy="1787" r="2.6" class="b1"/>
<circle cx="315.5" cy="1827.1" r="3.1" class="b5"/>
<circle cx="457" cy="1815.9" r="2.7" class="b5"/>
<circle cx="498.7" cy="1766" r="2.8" class="b2"/>
<circle cx="466.9" cy="1740" r="3.2" class="b5"/>
<circle cx="491.2" cy="1737.9" r="2.6" class="b1"/>
<circle cx="387.1" cy="1762.2" r="3.2" class="b1"/>
<circle cx="421" cy="1778.5" r="3.4" class="b1"/>
<circle cx="371.3" cy="1837.8" r="2.8" class="b5"/>
<circle cx="468.7" cy="1897.4" r="2.8" class="b5"/>
<circle cx="482.8" cy="1833.2" r="3.1" class="b5"/>
<circle cx="457.6" cy="1808.6" r="2.7" class="b5"/>
<circle cx="459.2" cy="1804" r="2.8" class="b5"/>
<circle cx="493.5" cy="1733.3" r="2.9" class="b4"/>
<circle cx="469.4" cy="1850.4" r="2.8" class="b5"/>
<circle cx="342.8" cy="1760" r="2.6" class="b2"/>
<circle cx="430.8" cy="1835.6" r="3.3" class="b2"/>
<circle cx="449" cy="1803.8" r="3.4" class="b2"/>
<circle cx="350.5" cy="1851.5" r="2.8" class="b3"/>
<circle cx="459.7" cy="1849" r="3.4" class="b1"/>
<circle cx="509.2" cy="1849" r="3.2" class="b2"/>
<circle cx="449.3" cy="1766" r="3.4" class="b2"/>
<circle cx="336.4" cy="1759.9" r="3.2" class="b4"/>
<circle cx="442.8" cy="1771.5" r="3.4" class="b2"/>
<circle cx="434.8" cy="1820.3" r="2.7" class="b1"/>
<circle cx="376.6" cy="1780.6" r="2.9" class="b1"/>
<circle cx="450.8" cy="1752.6" r="3.3" class="b3"/>
<circle cx="529.3" cy="1864.2" r="3.3" class="b1"/>
<circle cx="446.1" cy="1837.9" r="3.3" class="b1"/>
<circle cx="439.3" cy="1837.5" r="3.1" class="b3"/>
<circle cx="332" cy="1847.1" r="3.4" class="b2"/>
<circle cx="420.7" cy="1750.2" r="3" class="b3"/>
<circle cx="327.8" cy="1743" r="3" class="b2"/>
<circle cx="423.2" cy="1776.4" r="3" class="b1"/>
<circle cx="502.7" cy="1795.8" r="3.2" class="b5"/>
<circle cx="389.3" cy="1896.6" r="2.9" class="b3"/>
<circle cx="511.2" cy="1750.1" r="3.4" class="b1"/>
<circle cx="452.4" cy="1847.7" r="3.1" class="b3"/>
<circle cx="417.7" cy="1812.9" r="3" class="b5"/>
<circle cx="395.2" cy="1770.9" r="2.6" class="b3"/>
<circle cx="472.1" cy="1825.3" r="3.1" class="b3"/>
<circle cx="506.3" cy="1754.2" r="2.8" class="b5"/>
<circle cx="454.4" cy="1727.6" r="3.2" class="b5"/>
<circle cx="495" cy="1852.2" r="3.2" class="b4"/>
<circle cx="433.1" cy="1818.5" r="3.3" class="b4"/>
<circle cx="315.2" cy="1734.6" r="3.3" class="b4"/>
<circle cx="303.1" cy="1824.2" r="3" class="b1"/>
<circle cx="428.7" cy="1831.3" r="3.3" class="b3"/>
<circle cx="489.7" cy="1754.2" r="2.9" class="b5"/>
<circle cx="300.6" cy="1817" r="2.8" class="b2"/>
<circle cx="360.3" cy="1749.4" r="2.7" class="b2"/>
<circle cx="481.1" cy="1910.1" r="2.9" class="b1"/>
<circle cx="470.8" cy="1722.5" r="3.2" class="b2"/>
<circle cx="400.7" cy="1818.9" r="3" class="b1"/>
<circle cx="518.4" cy="1792.1" r="3.4" class="b1"/>
<circle cx="413.5" cy="1732.7" r="3.1" class="b5"/>
<circle cx="452.2" cy="1850.9" r="3.4" class="b2"/>
<circle cx="297" cy="1867" r="3.1" class="b4"/>
<circle cx="421.2" cy="1774.8" r="2.9" class="b3"/>
<circle cx="295.5" cy="1855.3" r="2.8" class="b4"/>
<circle cx="373.2" cy="1912.3" r="2.7" class="b2"/>
<circle cx="488.3" cy="1758.5" r="3" class="b3"/>
<circle cx="303" cy="1834.5" r="3.4" class="b4"/>
<circle cx="450.2" cy="1826.2" r="3" class="b3"/>
<circle cx="490.7" cy="1859.3" r="3.3" class="b2"/>
<circle cx="442" cy="1824.6" r="3.1" class="b1"/>
<circle cx="424.2" cy="1847.3" r="3" class="b1"/>
<circle cx="462.2" cy="1794.7" r="3" class="b3"/>
<circle cx="314" cy="1834.8" r="2.7" class="b2"/>
<circle cx="503.2" cy="1859.7" r="3.2" class="b4"/>
<circle cx="438.4" cy="1908.8" r="2.9" class="b3"/>
<circle cx="336.1" cy="1829.7" r="3.1" class="b2"/>
<circle cx="389.6" cy="1805.6" r="3.3" class="b2"/>
<circle cx="436.5" cy="1848.3" r="2.6" class="b5"/>
<circle cx="427.1" cy="1864.3" r="2.8" class="b3"/>
<circle cx="475.3" cy="1927.6" r="2.9" class="b4"/>
<circle cx="513.1" cy="1745.2" r="3.3" class="b1"/>
<circle cx="413.6" cy="1794.1" r="3" class="b2"/>
<circle cx="361.9" cy="1863" r="3.4" class="b4"/>
<circle cx="330.3" cy="1832" r="2.9" class="b2"/>
<circle cx="492.1" cy="1851.1" r="3.2" class="b5"/>
<circle cx="427.4" cy="1851.8" r="3.1" class="b5"/>
<circle cx="436.2" cy="1818.6" r="3.2" class="b2"/>
<circle cx="429.7" cy="1837.1" r="3.1" class="b5"/>
<circle cx="410" cy="1734.9" r="3.1" class="b2"/>
<circle cx="429.4" cy="1842.8" r="3.2" class="b3"/>
<circle cx="463.6" cy="1840.6" r="2.7" class="b3"/>
<circle cx="370.4" cy="1733.9" r="3" class="b5"/>
<circle cx="352.1" cy="1856.4" r="2.8" class="b4"/>
<circle cx="513.1" cy="1749.1" r="3" class="b2"/>
<circle cx="318.7" cy="1854.7" r="3" class="b5"/>
<circle cx="388.3" cy="1759.9" r="2.9" class="b2"/>
<circle cx="314.5" cy="1836.5" r="3" class="b3"/>
<circle cx="460.5" cy="1789.7" r="3" class="b3"/>
<circle cx="323.3" cy="1845" r="2.9" class="b3"/>
<circle cx="514.7" cy="1904.3" r="3.2" class="b4"/>
<circle cx="328.5" cy="1843.5" r="3.1" class="b5"/>
<circle cx="511.1" cy="1862.2" r="3.3" class="b5"/>
<circle cx="419.9" cy="1834.5" r="3.2" class="b2"/>
<circle cx="507.1" cy="1713.5" r="3" class="b3"/>
<circle cx="437.3" cy="1772.3" r="3" class="b3"/>
<circle cx="490.8" cy="1840.4" r="3" class="b5"/>
<circle cx="324.5" cy="1735" r="2.9" class="b2"/>
<circle cx="309.3" cy="1832.2" r="2.7" class="b4"/>
<circle cx="399.2" cy="1762" r="3.2" class="b5"/>
<circle cx="479.1" cy="1883.3" r="3.1" class="b4"/>
<circle cx="414.3" cy="1823.7" r="3.1" class="b3"/>
<circle cx="426.6" cy="1871.3" r="3.2" class="b1"/>
<circle cx="489.9" cy="1739.5" r="2.7" class="b4"/>
<circle cx="467.6" cy="1837.6" r="3.1" class="b4"/>
<circle cx="327.7" cy="1722.7" r="3" class="b5"/>
<circle cx="338.6" cy="1841.2" r="3" class="b3"/>
<circle cx="440.6" cy="1816.1" r="3.2" class="b4"/>
<circle cx="483.3" cy="1822.4" r="2.8" class="b4"/>
<circle cx="514.8" cy="1740.3" r="2.7" class="b1"/>
<circle cx="446.2" cy="1760.6" r="2.7" class="b5"/>
<circle cx="465.5" cy="1847.3" r="3" class="b1"/>
<circle cx="335.3" cy="1801.8" r="3.1" class="b4"/>
<circle cx="448.2" cy="1834.4" r="3.3" class="b4"/>
<circle cx="409.9" cy="1724.3" r="2.7" class="b1"/>
<circle cx="362.6" cy="1902.7" r="3.2" class="b4"/>
<circle cx="389.1" cy="1817.7" r="3" class="b4"/>
<circle cx="505.4" cy="1747.5" r="2.7" class="b1"/>
<circle cx="382.2" cy="1780.1" r="2.8" class="b5"/>
<circle cx="466.4" cy="1900.9" r="3.2" class="b3"/>
<circle cx="423.5" cy="1828.6" r="3.1" class="b5"/>
<circle cx="395.6" cy="1835.7" r="3.1" class="b2"/>
<circle cx="497.6" cy="1851.3" r="2.9" class="b5"/>
<circle cx="421.8" cy="1823.7" r="3" class="b3"/>
<circle cx="491.6" cy="1761.4" r="2.8" class="b5"/>
<circle cx="407" cy="1835.8" r="3.2" class="b4"/>
<circle cx="327.6" cy="1839.2" r="3.2" class="b5"/>
<circle cx="374.4" cy="1829.2" r="3.3" class="b1"/>
<circle cx="456.9" cy="1755.6" r="2.8" class="b5"/>
<circle cx="337.9" cy="1718.2" r="3" class="b3"/>
<circle cx="456.4" cy="1762.4" r="2.7" class="b4"/>
<circle cx="398.4" cy="1825.3" r="3.1" class="b2"/>
<circle cx="337.6" cy="1836.1" r="3.2" class="b3"/>
<circle cx="457.3" cy="1812.9" r="3.1" class="b2"/>
<circle cx="477.7" cy="1883.4" r="3.4" class="b2"/>
<circle cx="364.6" cy="1737.2" r="2.9" class="b4"/>
<circle cx="355.3" cy="1721.8" r="3.4" class="b3"/>
<circle cx="296.7" cy="1824.5" r="2.9" class="b5"/>
<circle cx="473.3" cy="1837.7" r="3.2" class="b2"/>
<circle cx="456.8" cy="1833.3" r="3" class="b1"/>
<circle cx="509.2" cy="1891.1" r="3.1" class="b2"/>
<circle cx="391.4" cy="1888.3" r="2.6" class="b1"/>
<circle cx="329.9" cy="1829.3" r="3.3" class="b3"/>
<circle cx="459.1" cy="1764.8" r="2.8" class="b1"/>
<circle cx="337.1" cy="1740.1" r="3" class="b3"/>
<circle cx="305.3" cy="1843.8" r="2.9" class="b5"/>
<circle cx="457.8" cy="1762.4" r="2.9" class="b3"/>
<circle cx="342.6" cy="1839.9" r="3.2" class="b1"/>
<circle cx="395.7" cy="1721.6" r="2.7" class="b1"/>
<circle cx="401.5" cy="1884.4" r="2.8" class="b4"/>
<circle cx="394.8" cy="1800.7" r="3.1" class="b4"/>
<circle cx="454.2" cy="1813.7" r="3.2" class="b5"/>
<circle cx="511.8" cy="1735.9" r="3.3" class="b1"/>
<circle cx="450.1" cy="1877.1" r="2.8" class="b3"/>
<circle cx="393.4" cy="1741.2" r="3.1" class="b4"/>
<circle cx="510.8" cy="1856.4" r="2.7" class="b2"/>
<circle cx="445.4" cy="1805.1" r="3.4" class="b1"/>
<circle cx="359.6" cy="1795.5" r="3.3" class="b2"/>
<circle cx="434.4" cy="1759.9" r="3.3" class="b1"/>
<circle cx="418.7" cy="1834.3" r="3" class="b5"/>
<circle cx="357.5" cy="1753.8" r="2.7" class="b5"/>
<circle cx="285.3" cy="1902.8" r="3.3" class="b3"/>
<circle cx="346.1" cy="1802.4" r="3" class="b4"/>
<circle cx="346.1" cy="1713.8" r="2.7" class="b5"/>
<circle cx="343.7" cy="1875.4" r="2.8" class="b4"/>
<circle cx="424.5" cy="1820.8" r="2.9" class="b4"/>
<circle cx="392.7" cy="1749.3" r="2.9" class="b3"/>
<circle cx="436.8" cy="1778" r="3.1" class="b3"/>
<circle cx="436.8" cy="1781.8" r="3.4" class="b3"/>
<circle cx="417.7" cy="1840.7" r="3" class="b1"/>
<circle cx="344.2" cy="1717.2" r="3.1" class="b5"/>
<circle cx="395.9" cy="1769.7" r="3.3" class="b1"/>
<circle cx="401.7" cy="1862.8" r="3.1" class="b3"/>
<circle cx="400.5" cy="1838.3" r="3.1" class="b4"/>
<circle cx="313.4" cy="1835" r="2.7" class="b1"/>
<circle cx="513.9" cy="1858.1" r="2.7" class="b5"/>
<circle cx="449.4" cy="1728.3" r="3.1" class="b2"/>
<circle cx="432.9" cy="1827.9" r="3.3" class="b3"/>
<circle cx="482.2" cy="1744.4" r="3.3" class="b3"/>
<circle cx="286.2" cy="1905.4" r="2.8" class="b5"/>
<circle cx="301.1" cy="1828.9" r="3.1" class="b4"/>
<circle cx="452.7" cy="1834" r="2.9" class="b5"/>
<circle cx="395.4" cy="1840.7" r="3.1" class="b2"/>
<circle cx="387.4" cy="1785.8" r="2.7" class="b4"/>
<circle cx="293.7" cy="1836.2" r="2.6" class="b3"/>
<circle cx="416.6" cy="1829.2" r="3" class="b3"/>
<circle cx="499.3" cy="1739.1" r="2.7" class="b2"/>
<circle cx="302.9" cy="1853.1" r="2.8" class="b1"/>
<circle cx="323.9" cy="1805" r="2.8" class="b1"/>
<circle cx="338.3" cy="1736.3" r="3.3" class="b3"/>
<circle cx="407.4" cy="1795.8" r="2.9" class="b3"/>
<circle cx="500.7" cy="1754.3" r="2.7" class="b3"/>
<circle cx="442.3" cy="1760.2" r="3.4" class="b5"/>
<circle cx="352" cy="1838.1" r="3" class="b1"/>
<circle cx="362.3" cy="1856.2" r="3.1" class="b1"/>
<circle cx="424.2" cy="1761.4" r="3.4" class="b2"/>
<circle cx="363.4" cy="1848.3" r="2.7" class="b1"/>
<circle cx="476.4" cy="1799.3" r="2.8" class="b1"/>
<circle cx="450.6" cy="1831.5" r="3.2" class="b4"/>
<circle cx="430.7" cy="1835.5" r="3" class="b4"/>
<circle cx="348.3" cy="1832.6" r="2.7" class="b3"/>
<circle cx="395.1" cy="1823.2" r="3.1" class="b4"/>
<circle cx="444.1" cy="1752.5" r="3.1" class="b5"/>
<circle cx="430.2" cy="1835.7" r="2.7" class="b1"/>
<circle cx="419.7" cy="1813.1" r="3.2" class="b1"/>
<circle cx="495.4" cy="1735.3" r="2.9" class="b3"/>
<circle cx="429.3" cy="1828.7" r="3.2" class="b1"/>
<circle cx="415.8" cy="1882.1" r="2.9" class="b3"/>
<circle cx="417" cy="1815.1" r="3" class="b3"/>
<circle cx="480.5" cy="1856.6" r="2.6" class="b3"/>
<circle cx="499.1" cy="1860.5" r="2.7" class="b3"/>
<circle cx="318.9" cy="1829.3" r="2.8" class="b5"/>
<circle cx="441.5" cy="1815.2" r="2.7" class="b3"/>
<circle cx="478.5" cy="1851" r="3" class="b2"/>
<circle cx="295.9" cy="1874.1" r="2.5" class="p2"/>
<circle cx="445" cy="1740.6" r="2.5" class="p3"/>
<circle cx="468.6" cy="1822.8" r="2.9" class="p3"/>
<circle cx="459.1" cy="1845.4" r="2.6" class="p1"/>
<circle cx="307.1" cy="1832.9" r="2.7" class="p1"/>
<circle cx="351.1" cy="1825.2" r="2.8" class="p3"/>
<circle cx="438.3" cy="1840.7" r="2.8" class="p4"/>
<circle cx="313.8" cy="1833.6" r="2.6" class="p2"/>
<circle cx="427.4" cy="1810.7" r="3" class="p2"/>
<circle cx="413.2" cy="1866.2" r="2.7" class="p3"/>
<circle cx="452.1" cy="1906.4" r="2.9" class="p2"/>
<circle cx="473" cy="1772.8" r="2.7" class="p3"/>
<circle cx="351.2" cy="1869.4" r="2.9" class="p4"/>
<circle cx="342.5" cy="1835" r="3" class="p1"/>
<circle cx="502.9" cy="1739.6" r="2.6" class="p1"/>
<circle cx="493.2" cy="1772.6" r="3" class="p2"/>
<circle cx="515.8" cy="1833.3" r="3" class="p4"/>
<circle cx="377.8" cy="1792.5" r="2.9" class="p2"/>
<circle cx="480.7" cy="1862.2" r="2.7" class="p1"/>
<circle cx="370.9" cy="1779.6" r="2.7" class="p3"/>
<circle cx="402.6" cy="1799" r="2.9" class="p4"/>
<circle cx="451.5" cy="1806.3" r="2.6" class="p4"/>
<circle cx="426" cy="1791.5" r="3.1" class="p3"/>
<circle cx="496" cy="1874.7" r="2.7" class="p3"/>
<circle cx="512.5" cy="1731.3" r="2.6" class="p4"/>
<circle cx="457.2" cy="1769.2" r="2.7" class="p2"/>
<circle cx="332.4" cy="1808.4" r="3" class="p1"/>
<circle cx="418.6" cy="1845.8" r="3" class="p3"/>
<circle cx="393.2" cy="1757.3" r="2.7" class="p1"/>
<circle cx="443.9" cy="1827.8" r="3" class="p4"/>
<circle cx="422.5" cy="1756.2" r="2.9" class="p3"/>
<circle cx="468.7" cy="1795.2" r="3.1" class="p1"/>
<circle cx="431.5" cy="1848.3" r="2.9" class="p4"/>
<circle cx="364.3" cy="1802.9" r="2.8" class="p2"/>
<circle cx="476.8" cy="1779.3" r="2.5" class="p2"/>
<circle cx="418.9" cy="1837.7" r="2.6" class="p4"/>
<circle cx="417.9" cy="1731.6" r="2.7" class="p2"/>
<circle cx="369" cy="1720" r="2.5" class="p2"/>
<circle cx="330.9" cy="1836.2" r="2.7" class="p1"/>
<circle cx="489.1" cy="1739.6" r="2.9" class="p3"/>
<circle cx="451.9" cy="1853.3" r="2.7" class="p2"/>
<circle cx="517.3" cy="1816.1" r="2.5" class="p2"/>
<circle cx="485.4" cy="1844.6" r="2.5" class="p3"/>
<circle cx="289.8" cy="1826.9" r="2.5" class="p4"/>
<circle cx="481.3" cy="1801.7" r="2.8" class="p4"/>
<circle cx="439" cy="1832.1" r="2.8" class="p3"/>
<circle cx="412.8" cy="1795.1" r="3" class="p4"/>
<circle cx="418.3" cy="1780.4" r="2.6" class="p1"/>
<circle cx="505.2" cy="1826.1" r="2.6" class="p2"/>
<circle cx="316.4" cy="1761.7" r="2.7" class="p2"/>
<circle cx="296.4" cy="1865" r="2.6" class="p2"/>
<circle cx="493" cy="1887.9" r="2.8" class="p3"/>
<circle cx="413.4" cy="1810.9" r="2.8" class="p4"/>
<circle cx="434.2" cy="1852" r="3.1" class="p2"/>
<circle cx="388.5" cy="1768.9" r="3" class="p4"/>
<circle cx="372.8" cy="1876.5" r="3" class="p4"/>
<circle cx="506.3" cy="1845.8" r="2.7" class="p4"/>
<circle cx="300.3" cy="1859.6" r="2.8" class="p3"/>
<circle cx="459.2" cy="1827.7" r="3" class="p3"/>
<circle cx="405.5" cy="1805.7" r="2.6" class="p3"/>
<circle cx="400.7" cy="1844.2" r="3" class="p3"/>
<circle cx="366.1" cy="1761.7" r="2.6" class="p3"/>
<circle cx="364.9" cy="1810.6" r="2.5" class="p4"/>
<circle cx="468.5" cy="1869.2" r="2.7" class="p3"/>
<circle cx="297" cy="1829.7" r="2.6" class="p3"/>
<circle cx="451.2" cy="1760.4" r="3.1" class="p2"/>
<circle cx="465.2" cy="1784.2" r="3.1" class="p4"/>
<circle cx="374.6" cy="1873.3" r="3" class="p4"/>
<circle cx="284.2" cy="1895.7" r="3.1" class="p4"/>
<circle cx="311" cy="1853.7" r="2.7" class="p3"/>
<circle cx="366.9" cy="1849" r="2.6" class="p4"/>
<circle cx="425" cy="1861.6" r="3" class="p3"/>
<circle cx="376.7" cy="1766.2" r="3" class="p3"/>
<circle cx="507.6" cy="1811.1" r="2.6" class="p4"/>
<circle cx="373.6" cy="1844.6" r="2.6" class="p2"/>
<circle cx="457.9" cy="1758.6" r="2.9" class="p2"/>
<circle cx="501.4" cy="1909.9" r="2.6" class="p3"/>
<circle cx="367.5" cy="1810.4" r="3" class="p4"/>
<circle cx="285.6" cy="1732.9" r="3.1" class="p1"/>
<circle cx="389.4" cy="1900.5" r="2.9" class="p2"/>
<circle cx="317.4" cy="1716" r="3" class="p4"/>
<circle cx="307.5" cy="1828.8" r="2.6" class="p2"/>
<circle cx="504" cy="1767.1" r="2.6" class="p1"/>
<circle cx="410.7" cy="1855" r="2.9" class="p1"/>
<circle cx="322.7" cy="1730" r="2.9" class="p4"/>
<circle cx="484.3" cy="1852.5" r="3" class="p4"/>
<circle cx="391.5" cy="1763.4" r="3" class="p3"/>
<circle cx="475.2" cy="1874.9" r="2.8" class="p2"/>
<circle cx="426.4" cy="1793.5" r="2.8" class="p3"/>
<circle cx="473.9" cy="1852.1" r="2.7" class="p1"/>
<circle cx="463.9" cy="1851.4" r="3" class="p3"/>
<circle cx="328" cy="1868" r="2.8" class="p3"/>
<circle cx="477.7" cy="1759" r="2.9" class="p3"/>
<circle cx="448.1" cy="1757" r="3" class="p4"/>
<circle cx="378.9" cy="1764.5" r="2.8" class="p1"/>
<circle cx="489.8" cy="1846.1" r="3" class="p2"/>
<circle cx="449.2" cy="1752.6" r="3.1" class="p1"/>
<circle cx="291.9" cy="1750.6" r="2.8" class="p2"/>
<circle cx="450.7" cy="1787.1" r="2.5" class="p1"/>
<circle cx="445.2" cy="1826.5" r="2.9" class="p3"/>
</g></g>
<clipPath id="m103"><rect x="26" y="1956.5" width="240.4" height="202.3"/></clipPath>
<rect x="26" y="1956.5" width="240.4" height="202.3" fill="#200a68"/>
<g clip-path="url(#m103)">
<g filter="url(#haze)" opacity="0.55">
<circle cx="248.9" cy="2121.7" r="6" fill="#2a18b0"/>
<circle cx="53.4" cy="2174.1" r="6" fill="#2a18b0"/>
<circle cx="114.8" cy="2097.3" r="6" fill="#2a18b0"/>
<circle cx="92.1" cy="2087.7" r="6" fill="#2a18b0"/>
<circle cx="197.8" cy="1988.1" r="6" fill="#2a18b0"/>
<circle cx="14.1" cy="2011" r="6" fill="#2a18b0"/>
<circle cx="87.4" cy="2068.7" r="6" fill="#2a18b0"/>
<circle cx="46.9" cy="2019.2" r="6" fill="#2a18b0"/>
<circle cx="110.4" cy="2118.6" r="6" fill="#2a18b0"/>
<circle cx="57.3" cy="2147" r="6" fill="#2a18b0"/>
<circle cx="173.4" cy="2096" r="6" fill="#2a18b0"/>
<circle cx="68.7" cy="2112.7" r="6" fill="#2a18b0"/>
<circle cx="168.3" cy="2121.9" r="6" fill="#2a18b0"/>
<circle cx="187.1" cy="2016.8" r="6" fill="#2a18b0"/>
<circle cx="60.1" cy="2108.4" r="6" fill="#2a18b0"/>
<circle cx="52.5" cy="2007.6" r="6" fill="#2a18b0"/>
<circle cx="236.8" cy="2103.2" r="6" fill="#2a18b0"/>
<circle cx="78.3" cy="2132.2" r="6" fill="#2a18b0"/>
<circle cx="187.3" cy="2113.2" r="6" fill="#2a18b0"/>
<circle cx="133.7" cy="2076.6" r="6" fill="#2a18b0"/>
<circle cx="89.6" cy="2167.8" r="6" fill="#2a18b0"/>
<circle cx="152.2" cy="2030.5" r="6" fill="#2a18b0"/>
<circle cx="87" cy="2057.6" r="6" fill="#2a18b0"/>
<circle cx="245.8" cy="2126.7" r="6" fill="#2a18b0"/>
<circle cx="147.6" cy="2031.3" r="6" fill="#2a18b0"/>
<circle cx="57" cy="1988.8" r="6" fill="#2a18b0"/>
<circle cx="193.4" cy="2084.5" r="6" fill="#2a18b0"/>
<circle cx="254.3" cy="2080" r="6" fill="#2a18b0"/>
<circle cx="36.7" cy="2147.4" r="6" fill="#2a18b0"/>
<circle cx="220.4" cy="2148.3" r="6" fill="#2a18b0"/>
<circle cx="88.4" cy="2037.7" r="6" fill="#2a18b0"/>
<circle cx="228.7" cy="2142.3" r="6" fill="#2a18b0"/>
<circle cx="211.8" cy="2007.7" r="6" fill="#2a18b0"/>
<circle cx="248.5" cy="2124.6" r="6" fill="#2a18b0"/>
<circle cx="47.6" cy="2064" r="6" fill="#2a18b0"/>
<circle cx="62.7" cy="2031.7" r="6" fill="#2a18b0"/>
<circle cx="221.2" cy="2054.3" r="6" fill="#2a18b0"/>
<circle cx="139.9" cy="2101.8" r="6" fill="#2a18b0"/>
<circle cx="36.5" cy="1983.8" r="6" fill="#2a18b0"/>
<circle cx="138.9" cy="2065.6" r="6" fill="#2a18b0"/>
<circle cx="128" cy="2116.6" r="6" fill="#2a18b0"/>
<circle cx="173.9" cy="2089.3" r="6" fill="#2a18b0"/>
<circle cx="51.7" cy="2059" r="6" fill="#2a18b0"/>
<circle cx="128.1" cy="2006.3" r="6" fill="#2a18b0"/>
<circle cx="156.4" cy="2110.9" r="6" fill="#2a18b0"/>
<circle cx="192.4" cy="1984.4" r="6" fill="#2a18b0"/>
<circle cx="44" cy="2143.4" r="6" fill="#2a18b0"/>
<circle cx="67.5" cy="2071" r="6" fill="#2a18b0"/>
<circle cx="230.4" cy="2134.2" r="6" fill="#2a18b0"/>
<circle cx="126.2" cy="2005" r="6" fill="#2a18b0"/>
<circle cx="172.4" cy="2147.3" r="6" fill="#2a18b0"/>
<circle cx="245.5" cy="2103.1" r="6" fill="#2a18b0"/>
<circle cx="296.6" cy="2049" r="6" fill="#2a18b0"/>
<circle cx="16.2" cy="2009.2" r="6" fill="#2a18b0"/>
<circle cx="227.5" cy="2046.3" r="6" fill="#2a18b0"/>
<circle cx="251.3" cy="2127.4" r="6" fill="#2a18b0"/>
<circle cx="58" cy="1995.6" r="6" fill="#2a18b0"/>
<circle cx="239.2" cy="2075.1" r="6" fill="#2a18b0"/>
<circle cx="182.9" cy="2057.1" r="6" fill="#2a18b0"/>
<circle cx="103.2" cy="2041.6" r="6" fill="#2a18b0"/>
<circle cx="277.5" cy="2067.7" r="6" fill="#2a18b0"/>
<circle cx="293.9" cy="2033.5" r="6" fill="#2a18b0"/>
<circle cx="121.9" cy="2100.5" r="6" fill="#2a18b0"/>
<circle cx="37" cy="1978.3" r="6" fill="#2a18b0"/>
<circle cx="81.3" cy="2131.7" r="6" fill="#2a18b0"/>
<circle cx="167" cy="1970.9" r="6" fill="#2a18b0"/>
<circle cx="138.9" cy="2031.8" r="6" fill="#2a18b0"/>
<circle cx="77.9" cy="2052.3" r="6" fill="#2a18b0"/>
<circle cx="62.9" cy="2058.8" r="6" fill="#2a18b0"/>
<circle cx="156.2" cy="2011.5" r="6" fill="#2a18b0"/>
<circle cx="107.5" cy="2166" r="6" fill="#2a18b0"/>
<circle cx="287.6" cy="2043.3" r="6" fill="#2a18b0"/>
<circle cx="245" cy="2121.4" r="6" fill="#2a18b0"/>
<circle cx="229.7" cy="2076.7" r="6" fill="#2a18b0"/>
<circle cx="223.2" cy="1962.5" r="6" fill="#2a18b0"/>
<circle cx="66.2" cy="2046" r="6" fill="#2a18b0"/>
<circle cx="146.6" cy="2117.3" r="6" fill="#2a18b0"/>
<circle cx="54" cy="2028.8" r="6" fill="#2a18b0"/>
<circle cx="106.9" cy="2050.6" r="6" fill="#2a18b0"/>
<circle cx="277.6" cy="2057.6" r="6" fill="#2a18b0"/>
<circle cx="92.7" cy="2129.4" r="6" fill="#2a18b0"/>
<circle cx="96.3" cy="2101.6" r="6" fill="#2a18b0"/>
<circle cx="227.2" cy="2002.8" r="6" fill="#2a18b0"/>
<circle cx="78.2" cy="2013.7" r="6" fill="#2a18b0"/>
<circle cx="248.9" cy="2043.1" r="6" fill="#2a18b0"/>
<circle cx="163.3" cy="2014.5" r="6" fill="#2a18b0"/>
<circle cx="49.5" cy="2019.5" r="6" fill="#2a18b0"/>
<circle cx="233" cy="2052.1" r="6" fill="#2a18b0"/>
<circle cx="64.9" cy="2021.3" r="6" fill="#2a18b0"/>
<circle cx="223.5" cy="1968" r="6" fill="#2a18b0"/>
<circle cx="264.3" cy="2089.4" r="6" fill="#2a18b0"/>
<circle cx="80.6" cy="1981" r="6" fill="#2a18b0"/>
<circle cx="87.4" cy="2086.5" r="6" fill="#2a18b0"/>
<circle cx="84.9" cy="2088.9" r="6" fill="#2a18b0"/>
<circle cx="43.3" cy="2077.1" r="6" fill="#2a18b0"/>
<circle cx="160.4" cy="2125.4" r="6" fill="#2a18b0"/>
<circle cx="269.1" cy="2049.8" r="6" fill="#2a18b0"/>
<circle cx="271.5" cy="2039.7" r="6" fill="#2a18b0"/>
<circle cx="49.7" cy="2052.2" r="6" fill="#2a18b0"/>
<circle cx="231.8" cy="2136.9" r="6" fill="#2a18b0"/>
<circle cx="195.6" cy="2071.9" r="6" fill="#2a18b0"/>
<circle cx="65" cy="2083.2" r="6" fill="#2a18b0"/>
<circle cx="80.8" cy="2148.5" r="6" fill="#2a18b0"/>
<circle cx="233.4" cy="2073.7" r="6" fill="#2a18b0"/>
<circle cx="258.5" cy="2027.7" r="6" fill="#2a18b0"/>
<circle cx="85" cy="2093.5" r="6" fill="#2a18b0"/>
<circle cx="28" cy="1973.1" r="6" fill="#2a18b0"/>
<circle cx="264.9" cy="2088.4" r="6" fill="#2a18b0"/>
<circle cx="71.7" cy="2137.7" r="6" fill="#2a18b0"/>
<circle cx="197.4" cy="2079.9" r="6" fill="#2a18b0"/>
<circle cx="259.6" cy="2120" r="6" fill="#2a18b0"/>
<circle cx="265.5" cy="2038.7" r="6" fill="#2a18b0"/>
<circle cx="140.7" cy="2110.3" r="6" fill="#2a18b0"/>
<circle cx="42" cy="2071.2" r="6" fill="#2a18b0"/>
</g><g filter="url(#blur)">
<circle cx="248.9" cy="2121.7" r="2.8" class="b1"/>
<circle cx="177.2" cy="2010.4" r="3.4" class="b2"/>
<circle cx="237.4" cy="2125.6" r="2.7" class="b5"/>
<circle cx="53.4" cy="2174.1" r="2.9" class="b5"/>
<circle cx="239.7" cy="1992.2" r="2.6" class="b2"/>
<circle cx="144.2" cy="2125.3" r="3.2" class="b3"/>
<circle cx="114.8" cy="2097.3" r="2.7" class="b5"/>
<circle cx="162.2" cy="1972.1" r="3.4" class="b5"/>
<circle cx="173.8" cy="2152" r="3.3" class="b2"/>
<circle cx="92.1" cy="2087.7" r="3.2" class="b4"/>
<circle cx="48.8" cy="2048.8" r="2.7" class="b3"/>
<circle cx="36.4" cy="2009.9" r="2.8" class="b2"/>
<circle cx="197.8" cy="1988.1" r="2.7" class="b1"/>
<circle cx="121.3" cy="2014.3" r="2.9" class="b5"/>
<circle cx="182.3" cy="1967.7" r="2.7" class="b3"/>
<circle cx="14.1" cy="2011" r="3.2" class="b1"/>
<circle cx="198.4" cy="1992.1" r="2.7" class="b2"/>
<circle cx="240.8" cy="2081.4" r="3.3" class="b2"/>
<circle cx="87.4" cy="2068.7" r="2.9" class="b4"/>
<circle cx="24.9" cy="2006" r="3.3" class="b5"/>
<circle cx="292" cy="2071.6" r="3.4" class="b2"/>
<circle cx="46.9" cy="2019.2" r="2.7" class="b2"/>
<circle cx="239.8" cy="2134.3" r="3.3" class="b5"/>
<circle cx="235.2" cy="2129.7" r="3.1" class="b2"/>
<circle cx="110.4" cy="2118.6" r="2.7" class="b4"/>
<circle cx="237.9" cy="2070.2" r="3" class="b4"/>
<circle cx="99.4" cy="2124.9" r="3.1" class="b5"/>
<circle cx="57.3" cy="2147" r="2.7" class="b3"/>
<circle cx="186.3" cy="2088.7" r="2.9" class="b5"/>
<circle cx="132.8" cy="2102.4" r="3.1" class="b2"/>
<circle cx="173.4" cy="2096" r="2.8" class="b5"/>
<circle cx="249.8" cy="2049.7" r="3.2" class="b1"/>
<circle cx="195.9" cy="1991.5" r="3.1" class="b3"/>
<circle cx="68.7" cy="2112.7" r="2.9" class="b4"/>
<circle cx="83.7" cy="2015.3" r="2.8" class="b3"/>
<circle cx="168.2" cy="2154.2" r="3.1" class="b1"/>
<circle cx="168.3" cy="2121.9" r="2.6" class="b4"/>
<circle cx="29.4" cy="2006.7" r="3.2" class="b2"/>
<circle cx="139.7" cy="2123.4" r="3.2" class="b2"/>
<circle cx="187.1" cy="2016.8" r="2.8" class="b5"/>
<circle cx="117.6" cy="2020.4" r="2.9" class="b3"/>
<circle cx="92.2" cy="2041.1" r="2.8" class="b5"/>
<circle cx="60.1" cy="2108.4" r="3.1" class="b5"/>
<circle cx="105.1" cy="2096.6" r="3.3" class="b1"/>
<circle cx="153.1" cy="2003" r="2.7" class="b5"/>
<circle cx="52.5" cy="2007.6" r="3.4" class="b4"/>
<circle cx="193" cy="1985.2" r="2.8" class="b3"/>
<circle cx="55.1" cy="2063.9" r="3.3" class="b2"/>
<circle cx="236.8" cy="2103.2" r="3" class="b2"/>
<circle cx="120" cy="2121.9" r="2.9" class="b5"/>
<circle cx="253.4" cy="2060.6" r="2.8" class="b1"/>
<circle cx="78.3" cy="2132.2" r="3" class="b4"/>
<circle cx="95" cy="2057.4" r="2.6" class="b4"/>
<circle cx="130.8" cy="2024.8" r="3.1" class="b4"/>
<circle cx="187.3" cy="2113.2" r="3" class="b3"/>
<circle cx="215.8" cy="2001.4" r="2.9" class="b1"/>
<circle cx="29.9" cy="1995.7" r="2.9" class="b4"/>
<circle cx="133.7" cy="2076.6" r="3" class="b4"/>
<circle cx="118.2" cy="2004.2" r="3.1" class="b4"/>
<circle cx="195.3" cy="1961" r="2.9" class="b4"/>
<circle cx="89.6" cy="2167.8" r="3.4" class="b2"/>
<circle cx="105.9" cy="2054.4" r="3" class="b3"/>
<circle cx="82.6" cy="2167.7" r="2.6" class="b2"/>
<circle cx="152.2" cy="2030.5" r="2.7" class="b1"/>
<circle cx="17.4" cy="1979.9" r="2.7" class="b1"/>
<circle cx="116.7" cy="2086" r="3.3" class="b3"/>
<circle cx="87" cy="2057.6" r="3.2" class="b1"/>
<circle cx="87" cy="2172.3" r="2.8" class="b5"/>
<circle cx="194.9" cy="2017.4" r="2.7" class="b4"/>
<circle cx="245.8" cy="2126.7" r="2.8" class="b4"/>
<circle cx="257" cy="2076.3" r="3.2" class="b5"/>
<circle cx="263.7" cy="2071" r="3.3" class="b3"/>
<circle cx="147.6" cy="2031.3" r="3.3" class="b5"/>
<circle cx="214.2" cy="2049.2" r="3.3" class="b5"/>
<circle cx="276.3" cy="2027.2" r="2.7" class="b2"/>
<circle cx="57" cy="1988.8" r="2.8" class="b1"/>
<circle cx="47.7" cy="2010.3" r="2.8" class="b5"/>
<circle cx="50.1" cy="2035" r="3.1" class="b1"/>
<circle cx="193.4" cy="2084.5" r="2.6" class="b1"/>
<circle cx="237.4" cy="2115.5" r="3" class="b4"/>
<circle cx="262.8" cy="2044.8" r="2.9" class="b5"/>
<circle cx="254.3" cy="2080" r="2.6" class="b2"/>
<circle cx="192.1" cy="2151.8" r="2.8" class="b4"/>
<circle cx="111.6" cy="2122.5" r="2.7" class="b4"/>
<circle cx="36.7" cy="2147.4" r="2.6" class="b5"/>
<circle cx="55.7" cy="2038.1" r="3.1" class="b2"/>
<circle cx="156.7" cy="2013" r="3.3" class="b2"/>
<circle cx="220.4" cy="2148.3" r="2.7" class="b2"/>
<circle cx="158.5" cy="1986.5" r="3" class="b4"/>
<circle cx="37.4" cy="2077" r="3" class="b5"/>
<circle cx="88.4" cy="2037.7" r="2.9" class="b5"/>
<circle cx="257.5" cy="2077.5" r="3" class="b4"/>
<circle cx="169" cy="1968.1" r="3" class="b3"/>
<circle cx="228.7" cy="2142.3" r="2.8" class="b3"/>
<circle cx="250.2" cy="2007.7" r="3.1" class="b1"/>
<circle cx="115.7" cy="2020.5" r="3.3" class="b3"/>
<circle cx="211.8" cy="2007.7" r="3.3" class="b3"/>
<circle cx="273.3" cy="2086" r="2.8" class="b2"/>
<circle cx="101" cy="2043.6" r="3.2" class="b1"/>
<circle cx="248.5" cy="2124.6" r="2.6" class="b5"/>
<circle cx="209.4" cy="2003.2" r="3.4" class="b3"/>
<circle cx="139.3" cy="2003.3" r="3.2" class="b4"/>
<circle cx="47.6" cy="2064" r="2.6" class="b3"/>
<circle cx="275.4" cy="2071.7" r="3" class="b3"/>
<circle cx="109.1" cy="2147.4" r="3.4" class="b3"/>
<circle cx="62.7" cy="2031.7" r="2.7" class="b3"/>
<circle cx="78.6" cy="2066" r="2.7" class="b5"/>
<circle cx="155.8" cy="2029.8" r="2.8" class="b4"/>
<circle cx="221.2" cy="2054.3" r="2.8" class="b5"/>
<circle cx="94.4" cy="2056.7" r="3.2" class="b5"/>
<circle cx="42.4" cy="1995.5" r="3" class="b1"/>
<circle cx="139.9" cy="2101.8" r="3.4" class="b4"/>
<circle cx="130.5" cy="1994" r="2.7" class="b1"/>
<circle cx="314" cy="2057.4" r="2.9" class="b1"/>
<circle cx="36.5" cy="1983.8" r="2.9" class="b3"/>
<circle cx="45" cy="1999.3" r="3.3" class="b4"/>
<circle cx="35.7" cy="1993.3" r="3.1" class="b5"/>
<circle cx="138.9" cy="2065.6" r="3.3" class="b1"/>
<circle cx="229.1" cy="2121.1" r="3.3" class="b3"/>
<circle cx="237.2" cy="1977.6" r="2.9" class="b3"/>
<circle cx="128" cy="2116.6" r="3.1" class="b5"/>
<circle cx="98.8" cy="2048.2" r="3.1" class="b3"/>
<circle cx="32.5" cy="2090.3" r="2.9" class="b5"/>
<circle cx="173.9" cy="2089.3" r="2.7" class="b4"/>
<circle cx="258.7" cy="1984.1" r="2.6" class="b2"/>
<circle cx="90" cy="2114.8" r="2.6" class="b2"/>
<circle cx="51.7" cy="2059" r="3.3" class="b5"/>
<circle cx="64.5" cy="1966.1" r="2.6" class="b2"/>
<circle cx="139.6" cy="2118.9" r="3.3" class="b5"/>
<circle cx="128.1" cy="2006.3" r="3.3" class="b3"/>
<circle cx="91.4" cy="2049.5" r="2.9" class="b5"/>
<circle cx="194.9" cy="1985.3" r="2.8" class="b5"/>
<circle cx="156.4" cy="2110.9" r="3.4" class="b2"/>
<circle cx="126.7" cy="2002.5" r="2.7" class="b4"/>
<circle cx="118.3" cy="2001.9" r="3" class="b3"/>
<circle cx="192.4" cy="1984.4" r="2.7" class="b5"/>
<circle cx="1.9" cy="2011.1" r="2.8" class="b5"/>
<circle cx="26.3" cy="2014.2" r="2.8" class="b1"/>
<circle cx="44" cy="2143.4" r="3.1" class="b5"/>
<circle cx="40.6" cy="1961.7" r="3.2" class="b2"/>
<circle cx="164.6" cy="2146.2" r="3.2" class="b5"/>
<circle cx="67.5" cy="2071" r="2.7" class="b2"/>
<circle cx="103.4" cy="2067.8" r="2.8" class="b1"/>
<circle cx="111" cy="2083" r="2.9" class="b4"/>
<circle cx="230.4" cy="2134.2" r="2.7" class="b3"/>
<circle cx="208.6" cy="2057.8" r="2.9" class="b4"/>
<circle cx="192.9" cy="2104" r="3.2" class="b1"/>
<circle cx="126.2" cy="2005" r="3.1" class="b4"/>
<circle cx="126.6" cy="2115.9" r="3.2" class="b3"/>
<circle cx="142.8" cy="1964.3" r="2.6" class="b1"/>
<circle cx="172.4" cy="2147.3" r="2.9" class="b2"/>
<circle cx="232.3" cy="1999.4" r="2.8" class="b4"/>
<circle cx="103.3" cy="2145" r="3.3" class="b2"/>
<circle cx="245.5" cy="2103.1" r="2.9" class="b1"/>
<circle cx="144.7" cy="2137.5" r="3.3" class="b1"/>
<circle cx="127.8" cy="2057" r="2.7" class="b5"/>
<circle cx="296.6" cy="2049" r="3.4" class="b5"/>
<circle cx="124.8" cy="2113.1" r="3.3" class="b3"/>
<circle cx="113" cy="2125.1" r="3.2" class="b2"/>
<circle cx="16.2" cy="2009.2" r="2.7" class="b1"/>
<circle cx="119" cy="2108.2" r="2.7" class="b2"/>
<circle cx="78.4" cy="2058.5" r="2.8" class="b5"/>
<circle cx="227.5" cy="2046.3" r="2.6" class="b5"/>
<circle cx="106" cy="2100.8" r="3.3" class="b2"/>
<circle cx="223.3" cy="1981" r="3" class="b4"/>
<circle cx="251.3" cy="2127.4" r="3.3" class="b1"/>
<circle cx="247.9" cy="1998.7" r="3" class="b2"/>
<circle cx="177.9" cy="1979.3" r="2.7" class="b1"/>
<circle cx="58" cy="1995.6" r="2.8" class="b2"/>
<circle cx="264.3" cy="2040.5" r="2.7" class="b5"/>
<circle cx="152.8" cy="1998.3" r="2.6" class="b4"/>
<circle cx="239.2" cy="2075.1" r="2.9" class="b2"/>
<circle cx="164.8" cy="2157.9" r="3.1" class="b1"/>
<circle cx="197.3" cy="1963.2" r="3.3" class="b2"/>
<circle cx="182.9" cy="2057.1" r="2.9" class="b5"/>
<circle cx="41.3" cy="2000.9" r="2.8" class="b5"/>
<circle cx="238.1" cy="2126" r="3.1" class="b1"/>
<circle cx="103.2" cy="2041.6" r="2.8" class="b4"/>
<circle cx="171.2" cy="1987.8" r="3.2" class="b5"/>
<circle cx="149.1" cy="2098.6" r="2.7" class="b5"/>
<circle cx="277.5" cy="2067.7" r="3.1" class="b4"/>
<circle cx="254.9" cy="2031" r="2.8" class="b2"/>
<circle cx="149.3" cy="2157.8" r="3" class="b4"/>
<circle cx="293.9" cy="2033.5" r="2.9" class="b4"/>
<circle cx="119.2" cy="2040.2" r="3.2" class="b3"/>
<circle cx="124.6" cy="2120.3" r="2.7" class="b1"/>
<circle cx="121.9" cy="2100.5" r="3" class="b2"/>
<circle cx="93.1" cy="2138.4" r="2.7" class="b3"/>
<circle cx="41.9" cy="1996" r="3.2" class="b4"/>
<circle cx="37" cy="1978.3" r="2.7" class="b1"/>
<circle cx="48.3" cy="2120.5" r="3.4" class="b5"/>
<circle cx="284.9" cy="2032.8" r="3.1" class="b5"/>
<circle cx="81.3" cy="2131.7" r="3" class="b4"/>
<circle cx="154.6" cy="1966.1" r="2.9" class="b3"/>
<circle cx="241.4" cy="2007.2" r="2.9" class="b2"/>
<circle cx="167" cy="1970.9" r="2.8" class="b4"/>
<circle cx="29.9" cy="1997.3" r="2.9" class="b2"/>
<circle cx="243.1" cy="2085.3" r="2.7" class="b2"/>
<circle cx="138.9" cy="2031.8" r="3.2" class="b2"/>
<circle cx="242.7" cy="2125.5" r="3.1" class="b2"/>
<circle cx="49.7" cy="2011.2" r="3.4" class="b4"/>
<circle cx="77.9" cy="2052.3" r="3.3" class="b3"/>
<circle cx="66.3" cy="1990.3" r="3.1" class="b2"/>
<circle cx="143.1" cy="2007" r="3.3" class="b5"/>
<circle cx="62.9" cy="2058.8" r="2.8" class="b1"/>
<circle cx="117.3" cy="2111.7" r="3" class="b5"/>
<circle cx="239.4" cy="2028.8" r="2.7" class="b5"/>
<circle cx="156.2" cy="2011.5" r="2.6" class="b5"/>
<circle cx="215" cy="2010.3" r="2.8" class="b5"/>
<circle cx="208.3" cy="2002.7" r="2.8" class="b3"/>
<circle cx="107.5" cy="2166" r="3.1" class="b4"/>
<circle cx="61" cy="2134.9" r="2.7" class="b2"/>
<circle cx="222" cy="2068.4" r="2.8" class="b5"/>
<circle cx="287.6" cy="2043.3" r="2.8" class="b3"/>
<circle cx="238" cy="2042.7" r="2.9" class="b5"/>
<circle cx="106.7" cy="2095.5" r="2.6" class="b5"/>
<circle cx="245" cy="2121.4" r="3.1" class="b2"/>
<circle cx="236.4" cy="2010.5" r="2.9" class="b4"/>
<circle cx="47.1" cy="2053.3" r="2.7" class="b5"/>
<circle cx="229.7" cy="2076.7" r="2.9" class="b3"/>
<circle cx="218.4" cy="2020.4" r="3.2" class="b4"/>
<circle cx="163.1" cy="2105" r="3.3" class="b3"/>
<circle cx="223.2" cy="1962.5" r="2.7" class="b5"/>
<circle cx="160.8" cy="1975.9" r="3.3" class="b1"/>
<circle cx="127.2" cy="2001.5" r="2.6" class="b2"/>
<circle cx="66.2" cy="2046" r="3.4" class="b4"/>
<circle cx="113.3" cy="2008.2" r="2.7" class="b3"/>
<circle cx="130.1" cy="2120" r="2.9" class="b4"/>
<circle cx="146.6" cy="2117.3" r="2.6" class="b1"/>
<circle cx="121.1" cy="2094.8" r="3.3" class="b5"/>
<circle cx="195.5" cy="1992" r="3.2" class="b4"/>
<circle cx="54" cy="2028.8" r="2.8" class="b1"/>
<circle cx="101.7" cy="2133.9" r="3.3" class="b5"/>
<circle cx="67.8" cy="2054" r="2.8" class="b4"/>
<circle cx="106.9" cy="2050.6" r="2.8" class="b1"/>
<circle cx="111.1" cy="2015.5" r="2.6" class="b5"/>
<circle cx="110.8" cy="2098.6" r="3.4" class="b2"/>
<circle cx="277.6" cy="2057.6" r="3.2" class="b2"/>
<circle cx="214.8" cy="2028.7" r="2.7" class="b3"/>
<circle cx="62.8" cy="2072.9" r="2.6" class="b1"/>
<circle cx="92.7" cy="2129.4" r="2.7" class="b3"/>
<circle cx="110.8" cy="2122.4" r="2.9" class="b4"/>
<circle cx="173.2" cy="2163.3" r="3.2" class="b5"/>
<circle cx="96.3" cy="2101.6" r="2.9" class="b2"/>
<circle cx="68.5" cy="2109.4" r="3.3" class="b5"/>
<circle cx="193.6" cy="1986.8" r="3.1" class="b3"/>
<circle cx="227.2" cy="2002.8" r="3.2" class="b3"/>
<circle cx="210.8" cy="1996.4" r="3.4" class="b2"/>
<circle cx="240.6" cy="1994.8" r="2.8" class="b4"/>
<circle cx="78.2" cy="2013.7" r="3.2" class="b1"/>
<circle cx="127.8" cy="2015.8" r="3.1" class="b4"/>
<circle cx="200.6" cy="1974.5" r="3.2" class="b5"/>
<circle cx="248.9" cy="2043.1" r="3.2" class="b3"/>
<circle cx="44.7" cy="2168.1" r="2.6" class="b4"/>
<circle cx="222.3" cy="2135.5" r="3.2" class="b4"/>
<circle cx="163.3" cy="2014.5" r="3" class="b5"/>
<circle cx="237.9" cy="2126" r="2.7" class="b2"/>
<circle cx="123.5" cy="2088.9" r="2.8" class="b4"/>
<circle cx="49.5" cy="2019.5" r="3.2" class="b5"/>
<circle cx="138.8" cy="2008.8" r="3.1" class="b2"/>
<circle cx="138.8" cy="2078" r="2.8" class="b3"/>
<circle cx="233" cy="2052.1" r="2.9" class="b3"/>
<circle cx="64.3" cy="2069.1" r="2.9" class="b2"/>
<circle cx="152.2" cy="2160.6" r="2.9" class="b1"/>
<circle cx="64.9" cy="2021.3" r="2.9" class="b3"/>
<circle cx="164.2" cy="2167.4" r="3.2" class="b3"/>
<circle cx="146.1" cy="1997.7" r="3.4" class="b1"/>
<circle cx="223.5" cy="1968" r="3.3" class="b2"/>
<circle cx="188.6" cy="1999.9" r="3.2" class="b1"/>
<circle cx="131.2" cy="2007.1" r="2.7" class="b2"/>
<circle cx="264.3" cy="2089.4" r="2.7" class="b2"/>
<circle cx="84.7" cy="2034.8" r="3.1" class="b4"/>
<circle cx="56.9" cy="2037.1" r="2.9" class="b2"/>
<circle cx="80.6" cy="1981" r="3.3" class="b1"/>
<circle cx="213.6" cy="2015.9" r="2.7" class="b5"/>
<circle cx="134.5" cy="2148.7" r="2.9" class="b2"/>
<circle cx="87.4" cy="2086.5" r="2.8" class="b1"/>
<circle cx="154.2" cy="2126.6" r="3.1" class="b5"/>
<circle cx="109.9" cy="2163.8" r="2.8" class="b5"/>
<circle cx="84.9" cy="2088.9" r="3.3" class="b2"/>
<circle cx="239.8" cy="2083.3" r="3.3" class="b1"/>
<circle cx="198.9" cy="2124.6" r="2.6" class="b1"/>
<circle cx="43.3" cy="2077.1" r="2.7" class="b5"/>
<circle cx="197.2" cy="2099" r="2.9" class="b4"/>
<circle cx="266.7" cy="2044.1" r="3.3" class="b4"/>
<circle cx="160.4" cy="2125.4" r="3.3" class="b1"/>
<circle cx="119.7" cy="2087.4" r="3" class="b5"/>
<circle cx="166" cy="2003.4" r="3.3" class="b5"/>
<circle cx="269.1" cy="2049.8" r="2.8" class="b5"/>
<circle cx="82.8" cy="2052.4" r="3.2" class="b4"/>
<circle cx="157.5" cy="2153.1" r="3.2" class="b3"/>
<circle cx="271.5" cy="2039.7" r="3.3" class="b4"/>
<circle cx="233.5" cy="2127.3" r="2.9" class="b5"/>
<circle cx="147" cy="2098.9" r="2.8" class="b2"/>
<circle cx="49.7" cy="2052.2" r="2.8" class="b2"/>
<circle cx="159.1" cy="1990.3" r="3.3" class="b1"/>
<circle cx="131.4" cy="2104.6" r="3.4" class="b1"/>
<circle cx="231.8" cy="2136.9" r="2.9" class="b1"/>
<circle cx="57.6" cy="2064.3" r="3.3" class="b2"/>
<circle cx="133.4" cy="1997.2" r="2.7" class="b3"/>
<circle cx="195.6" cy="2071.9" r="3" class="p1"/>
<circle cx="145.4" cy="1988.3" r="2.7" class="p1"/>
<circle cx="175.1" cy="2164.9" r="2.6" class="p3"/>
<circle cx="65" cy="2083.2" r="3" class="p3"/>
<circle cx="233.5" cy="2012.3" r="2.6" class="p1"/>
<circle cx="255.3" cy="2129.8" r="2.6" class="p3"/>
<circle cx="80.8" cy="2148.5" r="2.8" class="p1"/>
<circle cx="74.4" cy="2177.8" r="2.8" class="p1"/>
<circle cx="108.5" cy="2010.7" r="2.6" class="p1"/>
<circle cx="233.4" cy="2073.7" r="2.6" class="p1"/>
<circle cx="201.9" cy="1999.6" r="2.9" class="p3"/>
<circle cx="192.2" cy="2002.1" r="2.7" class="p4"/>
<circle cx="258.5" cy="2027.7" r="2.9" class="p2"/>
<circle cx="83.3" cy="1985" r="3" class="p1"/>
<circle cx="63.8" cy="2058.2" r="2.5" class="p2"/>
<circle cx="85" cy="2093.5" r="2.9" class="p2"/>
<circle cx="112.7" cy="2085" r="2.7" class="p1"/>
<circle cx="236.4" cy="2130.1" r="2.8" class="p3"/>
<circle cx="28" cy="1973.1" r="2.9" class="p1"/>
<circle cx="120.8" cy="2121.7" r="2.9" class="p4"/>
<circle cx="191.7" cy="2098.3" r="2.6" class="p4"/>
<circle cx="264.9" cy="2088.4" r="2.9" class="p3"/>
<circle cx="217.8" cy="1999.7" r="2.6" class="p4"/>
<circle cx="64.3" cy="1972.8" r="2.7" class="p2"/>
<circle cx="71.7" cy="2137.7" r="2.7" class="p4"/>
<circle cx="105" cy="2022.5" r="2.7" class="p3"/>
<circle cx="141.4" cy="2123.4" r="3.1" class="p3"/>
<circle cx="197.4" cy="2079.9" r="2.6" class="p1"/>
<circle cx="233.6" cy="2062.2" r="2.7" class="p3"/>
<circle cx="211.7" cy="2025.5" r="2.9" class="p2"/>
<circle cx="259.6" cy="2120" r="2.6" class="p2"/>
<circle cx="98.3" cy="2044.5" r="2.6" class="p4"/>
<circle cx="115.9" cy="2108" r="2.8" class="p4"/>
<circle cx="265.5" cy="2038.7" r="2.6" class="p3"/>
<circle cx="101" cy="2153.1" r="2.8" class="p2"/>
<circle cx="134" cy="2102.3" r="2.5" class="p2"/>
<circle cx="140.7" cy="2110.3" r="2.8" class="p1"/>
<circle cx="245.7" cy="2064.7" r="3.1" class="p1"/>
<circle cx="34.4" cy="2146.6" r="2.9" class="p1"/>
<circle cx="42" cy="2071.2" r="2.7" class="p2"/>
</g></g>
<clipPath id="m104"><rect x="281.1" y="1956.5" width="240.7" height="201.6"/></clipPath>
<rect x="281.1" y="1956.5" width="240.7" height="201.6" fill="#2c0870"/>
<g clip-path="url(#m104)">
<g filter="url(#haze)" opacity="0.55">
<circle cx="319.7" cy="2082.5" r="6" fill="#2a18b0"/>
<circle cx="459.9" cy="2053.9" r="6" fill="#2a18b0"/>
<circle cx="512.1" cy="2135.5" r="6" fill="#2a18b0"/>
<circle cx="455.1" cy="1966" r="6" fill="#2a18b0"/>
<circle cx="331.9" cy="2003" r="6" fill="#2a18b0"/>
<circle cx="408.9" cy="2004.4" r="6" fill="#2a18b0"/>
<circle cx="430.7" cy="1971.5" r="6" fill="#2a18b0"/>
<circle cx="508.5" cy="2156.6" r="6" fill="#2a18b0"/>
<circle cx="473.1" cy="2018.5" r="6" fill="#2a18b0"/>
<circle cx="472.3" cy="1975.8" r="6" fill="#2a18b0"/>
<circle cx="430.7" cy="2041.4" r="6" fill="#2a18b0"/>
<circle cx="359.1" cy="2153.9" r="6" fill="#2a18b0"/>
<circle cx="426.3" cy="1993.3" r="6" fill="#2a18b0"/>
<circle cx="341.7" cy="2029.2" r="6" fill="#2a18b0"/>
<circle cx="405.7" cy="2092.7" r="6" fill="#2a18b0"/>
<circle cx="313.6" cy="2036.4" r="6" fill="#2a18b0"/>
<circle cx="449" cy="2077.9" r="6" fill="#2a18b0"/>
<circle cx="421.7" cy="2097" r="6" fill="#2a18b0"/>
<circle cx="462.2" cy="2058.5" r="6" fill="#2a18b0"/>
<circle cx="501.5" cy="1999.5" r="6" fill="#2a18b0"/>
<circle cx="491" cy="1989.7" r="6" fill="#2a18b0"/>
<circle cx="343.6" cy="2068.1" r="6" fill="#2a18b0"/>
<circle cx="517.2" cy="2144.1" r="6" fill="#2a18b0"/>
<circle cx="403" cy="1953.4" r="6" fill="#2a18b0"/>
<circle cx="331" cy="2033.3" r="6" fill="#2a18b0"/>
<circle cx="473.7" cy="1977.9" r="6" fill="#2a18b0"/>
<circle cx="425" cy="1960.4" r="6" fill="#2a18b0"/>
<circle cx="449.1" cy="2081.4" r="6" fill="#2a18b0"/>
<circle cx="362.7" cy="2066.9" r="6" fill="#2a18b0"/>
<circle cx="475.9" cy="1956.6" r="6" fill="#2a18b0"/>
<circle cx="416.8" cy="1947" r="6" fill="#2a18b0"/>
<circle cx="310.3" cy="2014.7" r="6" fill="#2a18b0"/>
<circle cx="394.7" cy="1980.1" r="6" fill="#2a18b0"/>
<circle cx="496.4" cy="1993.9" r="6" fill="#2a18b0"/>
<circle cx="474.5" cy="1976" r="6" fill="#2a18b0"/>
<circle cx="374" cy="2074.6" r="6" fill="#2a18b0"/>
<circle cx="406.5" cy="2043.1" r="6" fill="#2a18b0"/>
<circle cx="387.8" cy="2077" r="6" fill="#2a18b0"/>
<circle cx="512.3" cy="2140.7" r="6" fill="#2a18b0"/>
<circle cx="428.2" cy="2137.8" r="6" fill="#2a18b0"/>
<circle cx="476.2" cy="2056.7" r="6" fill="#2a18b0"/>
<circle cx="319.2" cy="2001.2" r="6" fill="#2a18b0"/>
<circle cx="396" cy="2019.9" r="6" fill="#2a18b0"/>
<circle cx="410.3" cy="2060.5" r="6" fill="#2a18b0"/>
<circle cx="532.8" cy="2140.9" r="6" fill="#2a18b0"/>
<circle cx="503.2" cy="2089.2" r="6" fill="#2a18b0"/>
<circle cx="385.9" cy="1955.7" r="6" fill="#2a18b0"/>
<circle cx="516.1" cy="1999.3" r="6" fill="#2a18b0"/>
<circle cx="409.7" cy="1978.5" r="6" fill="#2a18b0"/>
<circle cx="472.3" cy="1972" r="6" fill="#2a18b0"/>
<circle cx="533.2" cy="2144.4" r="6" fill="#2a18b0"/>
<circle cx="333.6" cy="2055.1" r="6" fill="#2a18b0"/>
<circle cx="380.3" cy="2076.5" r="6" fill="#2a18b0"/>
<circle cx="483.2" cy="1977.4" r="6" fill="#2a18b0"/>
<circle cx="462" cy="2020.9" r="6" fill="#2a18b0"/>
<circle cx="417.9" cy="2134.5" r="6" fill="#2a18b0"/>
<circle cx="448.1" cy="2006" r="6" fill="#2a18b0"/>
<circle cx="492.1" cy="2161.2" r="6" fill="#2a18b0"/>
<circle cx="502.9" cy="1978" r="6" fill="#2a18b0"/>
<circle cx="394.4" cy="2062.1" r="6" fill="#2a18b0"/>
<circle cx="321.4" cy="2032" r="6" fill="#2a18b0"/>
<circle cx="311.4" cy="2083.1" r="6" fill="#2a18b0"/>
<circle cx="336" cy="2170.5" r="6" fill="#2a18b0"/>
<circle cx="354" cy="2105.4" r="6" fill="#2a18b0"/>
<circle cx="334.6" cy="2051.6" r="6" fill="#2a18b0"/>
<circle cx="470.3" cy="1967" r="6" fill="#2a18b0"/>
<circle cx="389.9" cy="1967.3" r="6" fill="#2a18b0"/>
<circle cx="415.7" cy="2115.4" r="6" fill="#2a18b0"/>
<circle cx="358.2" cy="2155.5" r="6" fill="#2a18b0"/>
<circle cx="384.4" cy="2162.8" r="6" fill="#2a18b0"/>
<circle cx="391.3" cy="2067.6" r="6" fill="#2a18b0"/>
<circle cx="500.1" cy="2071.6" r="6" fill="#2a18b0"/>
<circle cx="402.5" cy="2040" r="6" fill="#2a18b0"/>
<circle cx="318.8" cy="2080" r="6" fill="#2a18b0"/>
<circle cx="324.5" cy="2067.2" r="6" fill="#2a18b0"/>
<circle cx="427.4" cy="1990.9" r="6" fill="#2a18b0"/>
<circle cx="434.9" cy="2035" r="6" fill="#2a18b0"/>
<circle cx="329.8" cy="2070.7" r="6" fill="#2a18b0"/>
<circle cx="486" cy="1966.5" r="6" fill="#2a18b0"/>
<circle cx="484.4" cy="2074.5" r="6" fill="#2a18b0"/>
<circle cx="356.6" cy="2055" r="6" fill="#2a18b0"/>
<circle cx="424.1" cy="2153.6" r="6" fill="#2a18b0"/>
<circle cx="476.1" cy="1962.7" r="6" fill="#2a18b0"/>
<circle cx="418.2" cy="1983.3" r="6" fill="#2a18b0"/>
<circle cx="317.9" cy="2080.8" r="6" fill="#2a18b0"/>
<circle cx="500" cy="1984.7" r="6" fill="#2a18b0"/>
<circle cx="436.4" cy="1981.2" r="6" fill="#2a18b0"/>
<circle cx="412.6" cy="2089.4" r="6" fill="#2a18b0"/>
<circle cx="491.1" cy="2161.5" r="6" fill="#2a18b0"/>
<circle cx="452.4" cy="2125.3" r="6" fill="#2a18b0"/>
<circle cx="515.8" cy="2160.3" r="6" fill="#2a18b0"/>
<circle cx="459.8" cy="1964.9" r="6" fill="#2a18b0"/>
<circle cx="491.2" cy="2162" r="6" fill="#2a18b0"/>
<circle cx="347.4" cy="2035.9" r="6" fill="#2a18b0"/>
<circle cx="520.3" cy="2115.8" r="6" fill="#2a18b0"/>
<circle cx="353.6" cy="2108.4" r="6" fill="#2a18b0"/>
<circle cx="480.9" cy="2121.3" r="6" fill="#2a18b0"/>
<circle cx="476" cy="2076.9" r="6" fill="#2a18b0"/>
<circle cx="425.2" cy="2094.3" r="6" fill="#2a18b0"/>
<circle cx="433.2" cy="2026.8" r="6" fill="#2a18b0"/>
<circle cx="411.1" cy="2081.3" r="6" fill="#2a18b0"/>
<circle cx="320.3" cy="2018.8" r="6" fill="#2a18b0"/>
<circle cx="483.9" cy="2013.1" r="6" fill="#2a18b0"/>
<circle cx="477.3" cy="1964.5" r="6" fill="#2a18b0"/>
<circle cx="392.7" cy="2091.6" r="6" fill="#2a18b0"/>
<circle cx="477.4" cy="2062.6" r="6" fill="#2a18b0"/>
</g><g filter="url(#blur)">
<circle cx="319.7" cy="2082.5" r="3.1" class="b5"/>
<circle cx="318.2" cy="1958.5" r="2.9" class="b5"/>
<circle cx="403.9" cy="2072.9" r="2.6" class="b2"/>
<circle cx="459.9" cy="2053.9" r="2.6" class="b3"/>
<circle cx="462.5" cy="2092" r="3.4" class="b1"/>
<circle cx="389.4" cy="1962.8" r="3.1" class="b3"/>
<circle cx="512.1" cy="2135.5" r="2.6" class="b2"/>
<circle cx="506.7" cy="2161.9" r="3.2" class="b5"/>
<circle cx="302.2" cy="2135.9" r="3.4" class="b1"/>
<circle cx="455.1" cy="1966" r="3.3" class="b3"/>
<circle cx="481.9" cy="2146.1" r="3.3" class="b4"/>
<circle cx="478" cy="1972.6" r="3.1" class="b2"/>
<circle cx="331.9" cy="2003" r="3" class="b3"/>
<circle cx="473.4" cy="1973.3" r="2.8" class="b1"/>
<circle cx="294.3" cy="2058.6" r="2.7" class="b4"/>
<circle cx="408.9" cy="2004.4" r="2.9" class="b1"/>
<circle cx="398.6" cy="1970.9" r="3.3" class="b1"/>
<circle cx="463.3" cy="1967.3" r="3.2" class="b4"/>
<circle cx="430.7" cy="1971.5" r="3.4" class="b1"/>
<circle cx="496.9" cy="2177.9" r="3.4" class="b3"/>
<circle cx="366.7" cy="2113" r="3.1" class="b5"/>
<circle cx="508.5" cy="2156.6" r="3.2" class="b5"/>
<circle cx="494.5" cy="2009.3" r="3" class="b5"/>
<circle cx="508.4" cy="2158.8" r="2.7" class="b5"/>
<circle cx="473.1" cy="2018.5" r="2.9" class="b2"/>
<circle cx="446.3" cy="2119.4" r="3" class="b1"/>
<circle cx="473.5" cy="2055.1" r="3.3" class="b1"/>
<circle cx="472.3" cy="1975.8" r="2.8" class="b1"/>
<circle cx="392.6" cy="1969" r="3.1" class="b2"/>
<circle cx="422.7" cy="2077.3" r="2.8" class="b5"/>
<circle cx="430.7" cy="2041.4" r="3" class="b2"/>
<circle cx="462.7" cy="2095.1" r="2.8" class="b3"/>
<circle cx="331.1" cy="2006.1" r="3" class="b2"/>
<circle cx="359.1" cy="2153.9" r="3" class="b5"/>
<circle cx="288.9" cy="2144.1" r="3" class="b5"/>
<circle cx="453.4" cy="1956.7" r="2.6" class="b4"/>
<circle cx="426.3" cy="1993.3" r="3.1" class="b5"/>
<circle cx="496.7" cy="2014.4" r="3.1" class="b5"/>
<circle cx="450.7" cy="2155.9" r="2.8" class="b2"/>
<circle cx="341.7" cy="2029.2" r="2.8" class="b2"/>
<circle cx="458.2" cy="1967.7" r="2.6" class="b1"/>
<circle cx="382.3" cy="2031.7" r="3" class="b5"/>
<circle cx="405.7" cy="2092.7" r="2.7" class="b3"/>
<circle cx="405.2" cy="1982.2" r="2.7" class="b2"/>
<circle cx="315.5" cy="2003.6" r="3.4" class="b3"/>
<circle cx="313.6" cy="2036.4" r="2.9" class="b1"/>
<circle cx="394.7" cy="2053" r="3.3" class="b1"/>
<circle cx="347.8" cy="2077.1" r="3.2" class="b3"/>
<circle cx="449" cy="2077.9" r="3" class="b4"/>
<circle cx="332.3" cy="2040.3" r="2.7" class="b1"/>
<circle cx="330" cy="2019.4" r="3.1" class="b3"/>
<circle cx="421.7" cy="2097" r="2.8" class="b3"/>
<circle cx="359.7" cy="2162.2" r="3.1" class="b2"/>
<circle cx="520.4" cy="2136.1" r="2.6" class="b3"/>
<circle cx="462.2" cy="2058.5" r="2.9" class="b2"/>
<circle cx="494.2" cy="1989.1" r="2.9" class="b1"/>
<circle cx="402.8" cy="2083.1" r="3.1" class="b5"/>
<circle cx="501.5" cy="1999.5" r="3.1" class="b3"/>
<circle cx="516.2" cy="2036.2" r="3" class="b3"/>
<circle cx="339.5" cy="2027.9" r="2.7" class="b1"/>
<circle cx="491" cy="1989.7" r="3.3" class="b3"/>
<circle cx="513.4" cy="2084.8" r="2.7" class="b2"/>
<circle cx="411.1" cy="1964.1" r="3.3" class="b4"/>
<circle cx="343.6" cy="2068.1" r="3.3" class="b5"/>
<circle cx="399.5" cy="1962.5" r="3" class="b1"/>
<circle cx="324.1" cy="2018.2" r="3.3" class="b1"/>
<circle cx="517.2" cy="2144.1" r="3.1" class="b3"/>
<circle cx="492.6" cy="1976.1" r="3.1" class="b2"/>
<circle cx="427.7" cy="2103.5" r="2.9" class="b2"/>
<circle cx="403" cy="1953.4" r="3.3" class="b5"/>
<circle cx="447.4" cy="2081.5" r="2.8" class="b1"/>
<circle cx="508.4" cy="2159.8" r="2.8" class="b2"/>
<circle cx="331" cy="2033.3" r="3.1" class="b1"/>
<circle cx="346.4" cy="2056.7" r="2.9" class="b2"/>
<circle cx="378" cy="2163.8" r="2.7" class="b1"/>
<circle cx="473.7" cy="1977.9" r="2.8" class="b3"/>
<circle cx="350.4" cy="2041.9" r="3.4" class="b3"/>
<circle cx="350.3" cy="2150.2" r="2.7" class="b3"/>
<circle cx="425" cy="1960.4" r="2.7" class="b3"/>
<circle cx="511.9" cy="2013.6" r="3.1" class="b2"/>
<circle cx="310.9" cy="1961.2" r="3.3" class="b2"/>
<circle cx="449.1" cy="2081.4" r="3.4" class="b3"/>
<circle cx="370.3" cy="2026" r="2.8" class="b5"/>
<circle cx="300.4" cy="2095.6" r="2.6" class="b4"/>
<circle cx="362.7" cy="2066.9" r="2.8" class="b1"/>
<circle cx="347.9" cy="2023.8" r="3.2" class="b3"/>
<circle cx="474.7" cy="1970.4" r="2.7" class="b4"/>
<circle cx="475.9" cy="1956.6" r="2.7" class="b5"/>
<circle cx="464.5" cy="1957.1" r="3.3" class="b5"/>
<circle cx="495.4" cy="2091.6" r="3.2" class="b2"/>
<circle cx="416.8" cy="1947" r="3" class="b4"/>
<circle cx="338.9" cy="2011.7" r="3.3" class="b5"/>
<circle cx="473" cy="1957.1" r="3.1" class="b2"/>
<circle cx="310.3" cy="2014.7" r="3" class="b4"/>
<circle cx="417" cy="2005.9" r="3.1" class="b1"/>
<circle cx="480.8" cy="2054.8" r="3" class="b1"/>
<circle cx="394.7" cy="1980.1" r="3.4" class="b5"/>
<circle cx="468.4" cy="1992.4" r="3.1" class="b5"/>
<circle cx="389.9" cy="1982.5" r="3" class="b1"/>
<circle cx="496.4" cy="1993.9" r="3.4" class="b3"/>
<circle cx="340" cy="1974.7" r="3.2" class="b1"/>
<circle cx="431.2" cy="2069" r="3.2" class="b1"/>
<circle cx="474.5" cy="1976" r="2.9" class="b5"/>
<circle cx="518.9" cy="2119.2" r="3.2" class="b5"/>
<circle cx="323.8" cy="2116.8" r="2.6" class="b5"/>
<circle cx="374" cy="2074.6" r="2.9" class="b2"/>
<circle cx="495.1" cy="2134.3" r="3.1" class="b1"/>
<circle cx="318.4" cy="2061.6" r="3" class="b1"/>
<circle cx="406.5" cy="2043.1" r="2.9" class="b1"/>
<circle cx="318.5" cy="2069.8" r="3.1" class="b2"/>
<circle cx="381.2" cy="2144.4" r="2.8" class="b1"/>
<circle cx="387.8" cy="2077" r="3.2" class="b4"/>
<circle cx="478" cy="2055.3" r="2.7" class="b5"/>
<circle cx="339.6" cy="2058.5" r="3.3" class="b4"/>
<circle cx="512.3" cy="2140.7" r="3" class="b2"/>
<circle cx="294.9" cy="2058.3" r="3.1" class="b4"/>
<circle cx="329" cy="2040" r="2.8" class="b4"/>
<circle cx="428.2" cy="2137.8" r="3.4" class="b2"/>
<circle cx="407.3" cy="2061.6" r="2.8" class="b5"/>
<circle cx="461.3" cy="1966" r="3" class="b1"/>
<circle cx="476.2" cy="2056.7" r="3.3" class="b4"/>
<circle cx="310.1" cy="2013.2" r="2.9" class="b2"/>
<circle cx="433.5" cy="2093.8" r="3" class="b2"/>
<circle cx="319.2" cy="2001.2" r="2.7" class="b5"/>
<circle cx="500.5" cy="2145.1" r="3.4" class="b3"/>
<circle cx="314.3" cy="2074" r="2.8" class="b2"/>
<circle cx="396" cy="2019.9" r="2.9" class="b3"/>
<circle cx="430.3" cy="2024.4" r="3.4" class="b2"/>
<circle cx="396.1" cy="2073.1" r="3.2" class="b3"/>
<circle cx="410.3" cy="2060.5" r="3.4" class="b4"/>
<circle cx="405.4" cy="2075" r="2.8" class="b5"/>
<circle cx="483.8" cy="1961.6" r="2.8" class="b5"/>
<circle cx="532.8" cy="2140.9" r="3.1" class="b2"/>
<circle cx="415.8" cy="2128.8" r="2.6" class="b1"/>
<circle cx="358.7" cy="2091.5" r="2.6" class="b1"/>
<circle cx="503.2" cy="2089.2" r="2.8" class="b5"/>
<circle cx="381.1" cy="2108.1" r="3.3" class="b3"/>
<circle cx="350.5" cy="2176.2" r="2.7" class="b2"/>
<circle cx="385.9" cy="1955.7" r="3.1" class="b5"/>
<circle cx="299.5" cy="2012.3" r="3.3" class="b2"/>
<circle cx="393.3" cy="2076" r="2.9" class="b5"/>
<circle cx="516.1" cy="1999.3" r="3.3" class="b1"/>
<circle cx="516.9" cy="2126.4" r="2.6" class="b1"/>
<circle cx="373.4" cy="1945.8" r="2.9" class="b5"/>
<circle cx="409.7" cy="1978.5" r="2.6" class="b5"/>
<circle cx="461.5" cy="2060.9" r="2.6" class="b1"/>
<circle cx="358.8" cy="2164.7" r="3.1" class="b1"/>
<circle cx="472.3" cy="1972" r="3" class="b3"/>
<circle cx="498.4" cy="2045.6" r="3.2" class="b4"/>
<circle cx="347.8" cy="2012.6" r="2.6" class="b3"/>
<circle cx="533.2" cy="2144.4" r="3.2" class="b2"/>
<circle cx="513.2" cy="2108.6" r="2.9" class="b1"/>
<circle cx="504.8" cy="1975.6" r="3.1" class="b1"/>
<circle cx="333.6" cy="2055.1" r="3.2" class="b5"/>
<circle cx="385.9" cy="2078.1" r="3" class="b1"/>
<circle cx="377" cy="2151" r="3.2" class="b2"/>
<circle cx="380.3" cy="2076.5" r="2.8" class="b3"/>
<circle cx="412" cy="2068.9" r="2.9" class="b1"/>
<circle cx="393.2" cy="1965.6" r="2.8" class="b2"/>
<circle cx="483.2" cy="1977.4" r="3.1" class="b2"/>
<circle cx="318.7" cy="2103.4" r="3.1" class="b4"/>
<circle cx="442.1" cy="2065.3" r="2.6" class="b4"/>
<circle cx="462" cy="2020.9" r="3.2" class="b3"/>
<circle cx="370.2" cy="2064.5" r="2.7" class="b3"/>
<circle cx="467.8" cy="2049.3" r="2.7" class="b4"/>
<circle cx="417.9" cy="2134.5" r="3.3" class="b4"/>
<circle cx="429.4" cy="2113.2" r="3.4" class="b1"/>
<circle cx="357.1" cy="2168.9" r="2.7" class="b2"/>
<circle cx="448.1" cy="2006" r="3.3" class="b5"/>
<circle cx="473.6" cy="1935.1" r="3.3" class="b5"/>
<circle cx="507" cy="2150.1" r="3.3" class="b4"/>
<circle cx="492.1" cy="2161.2" r="3.2" class="b2"/>
<circle cx="531.1" cy="2127.3" r="2.7" class="b4"/>
<circle cx="514" cy="2056.2" r="3.3" class="b1"/>
<circle cx="502.9" cy="1978" r="3.4" class="b4"/>
<circle cx="342.1" cy="2053.9" r="2.6" class="b5"/>
<circle cx="506.6" cy="2107.8" r="3" class="b3"/>
<circle cx="394.4" cy="2062.1" r="2.9" class="b2"/>
<circle cx="485.7" cy="1941.4" r="2.8" class="b4"/>
<circle cx="355.6" cy="2151" r="3.3" class="b3"/>
<circle cx="321.4" cy="2032" r="3" class="b1"/>
<circle cx="322.1" cy="1965.4" r="2.7" class="b1"/>
<circle cx="399" cy="1988.1" r="2.7" class="b2"/>
<circle cx="311.4" cy="2083.1" r="2.9" class="b3"/>
<circle cx="389.9" cy="2116.9" r="3.1" class="b5"/>
<circle cx="375.8" cy="1963.4" r="3.4" class="b2"/>
<circle cx="336" cy="2170.5" r="3.3" class="b3"/>
<circle cx="448.9" cy="2107.7" r="3.4" class="b3"/>
<circle cx="385.9" cy="2076.1" r="3.3" class="b4"/>
<circle cx="354" cy="2105.4" r="2.9" class="b4"/>
<circle cx="469" cy="1961.8" r="2.9" class="b3"/>
<circle cx="493" cy="1976.1" r="3.4" class="b4"/>
<circle cx="334.6" cy="2051.6" r="2.6" class="b2"/>
<circle cx="487.4" cy="1975.1" r="3.3" class="b2"/>
<circle cx="341.9" cy="2034.7" r="3.3" class="b1"/>
<circle cx="470.3" cy="1967" r="3.3" class="b1"/>
<circle cx="481.1" cy="2026.7" r="3.2" class="b2"/>
<circle cx="506.1" cy="1971.7" r="2.8" class="b4"/>
<circle cx="389.9" cy="1967.3" r="2.7" class="b3"/>
<circle cx="376.1" cy="2155.5" r="2.8" class="b5"/>
<circle cx="396.8" cy="2075.1" r="3.2" class="b1"/>
<circle cx="415.7" cy="2115.4" r="3.1" class="b2"/>
<circle cx="488.8" cy="1966" r="3.3" class="b2"/>
<circle cx="357.4" cy="2047.8" r="3.3" class="b2"/>
<circle cx="358.2" cy="2155.5" r="3.1" class="b2"/>
<circle cx="359.7" cy="2041.8" r="3.2" class="b3"/>
<circle cx="339.9" cy="2150.1" r="2.6" class="b2"/>
<circle cx="384.4" cy="2162.8" r="2.7" class="b1"/>
<circle cx="489.7" cy="2161" r="3.2" class="b5"/>
<circle cx="431.4" cy="2065.9" r="2.9" class="b3"/>
<circle cx="391.3" cy="2067.6" r="2.8" class="b3"/>
<circle cx="475.2" cy="2013.5" r="2.9" class="b4"/>
<circle cx="402.6" cy="1966.6" r="3" class="b3"/>
<circle cx="500.1" cy="2071.6" r="2.7" class="b3"/>
<circle cx="459.7" cy="1953.8" r="2.9" class="b3"/>
<circle cx="509" cy="2122.7" r="3.4" class="b2"/>
<circle cx="402.5" cy="2040" r="3.4" class="b1"/>
<circle cx="354.4" cy="2167.1" r="3" class="b1"/>
<circle cx="509.7" cy="2158.7" r="2.8" class="b3"/>
<circle cx="318.8" cy="2080" r="2.6" class="b4"/>
<circle cx="452.5" cy="2061.1" r="2.8" class="b5"/>
<circle cx="468.7" cy="2048.6" r="2.7" class="b1"/>
<circle cx="324.5" cy="2067.2" r="3" class="b5"/>
<circle cx="388.7" cy="2065.4" r="2.7" class="b2"/>
<circle cx="489.2" cy="2073.8" r="3.3" class="b4"/>
<circle cx="427.4" cy="1990.9" r="3" class="b1"/>
<circle cx="495" cy="2046.7" r="2.7" class="b2"/>
<circle cx="364.6" cy="2141.3" r="3" class="b4"/>
<circle cx="434.9" cy="2035" r="3.1" class="b2"/>
<circle cx="444.8" cy="2058.9" r="3.1" class="b3"/>
<circle cx="373.5" cy="2018.9" r="3" class="b4"/>
<circle cx="329.8" cy="2070.7" r="2.9" class="b1"/>
<circle cx="361" cy="2110.2" r="3.4" class="b5"/>
<circle cx="543.2" cy="2138.6" r="2.9" class="b2"/>
<circle cx="486" cy="1966.5" r="2.8" class="b1"/>
<circle cx="414.5" cy="1957.6" r="2.9" class="b4"/>
<circle cx="410.7" cy="1970" r="3.1" class="b3"/>
<circle cx="484.4" cy="2074.5" r="2.6" class="b2"/>
<circle cx="407.1" cy="2089" r="2.9" class="b2"/>
<circle cx="433.7" cy="2085.7" r="2.8" class="b1"/>
<circle cx="356.6" cy="2055" r="3.1" class="b4"/>
<circle cx="418.6" cy="2039.3" r="3.3" class="b3"/>
<circle cx="340.4" cy="2054.5" r="2.9" class="b2"/>
<circle cx="424.1" cy="2153.6" r="3.4" class="b2"/>
<circle cx="389.4" cy="2061.7" r="2.9" class="b5"/>
<circle cx="435.7" cy="2079.3" r="2.9" class="b1"/>
<circle cx="476.1" cy="1962.7" r="3" class="b4"/>
<circle cx="393.6" cy="1955.6" r="2.9" class="b1"/>
<circle cx="407.2" cy="2123.2" r="3.1" class="b5"/>
<circle cx="418.2" cy="1983.3" r="2.7" class="b2"/>
<circle cx="418.3" cy="2079.8" r="2.6" class="b1"/>
<circle cx="283.8" cy="2096.2" r="2.9" class="b5"/>
<circle cx="317.9" cy="2080.8" r="3.2" class="b3"/>
<circle cx="303.1" cy="2042.5" r="2.9" class="b2"/>
<circle cx="497.7" cy="2080" r="3" class="b4"/>
<circle cx="500" cy="1984.7" r="3.3" class="b2"/>
<circle cx="342" cy="2065.6" r="3.1" class="b2"/>
<circle cx="500.9" cy="2102.9" r="2.6" class="b4"/>
<circle cx="436.4" cy="1981.2" r="2.8" class="b2"/>
<circle cx="431.2" cy="2100" r="3.2" class="b2"/>
<circle cx="387" cy="2055.8" r="2.8" class="b5"/>
<circle cx="412.6" cy="2089.4" r="3" class="b3"/>
<circle cx="487.1" cy="1944.5" r="3.1" class="b3"/>
<circle cx="475.8" cy="2072.7" r="3" class="b4"/>
<circle cx="491.1" cy="2161.5" r="2.7" class="b3"/>
<circle cx="447.1" cy="2052.9" r="3" class="b1"/>
<circle cx="339.3" cy="1957" r="3.3" class="b3"/>
<circle cx="452.4" cy="2125.3" r="3.3" class="b5"/>
<circle cx="479.5" cy="1957" r="2.8" class="b4"/>
<circle cx="420.4" cy="2151.5" r="3.3" class="b1"/>
<circle cx="515.8" cy="2160.3" r="3.3" class="b5"/>
<circle cx="452.3" cy="1998.8" r="3.3" class="b2"/>
<circle cx="302.5" cy="2091.4" r="2.7" class="b1"/>
<circle cx="459.8" cy="1964.9" r="3.4" class="b2"/>
<circle cx="409.2" cy="1951.3" r="3.2" class="b2"/>
<circle cx="488.5" cy="2069.3" r="2.7" class="b2"/>
<circle cx="491.2" cy="2162" r="2.7" class="b5"/>
<circle cx="442.3" cy="2108.6" r="3.2" class="b4"/>
<circle cx="512.5" cy="1971.5" r="2.6" class="b1"/>
<circle cx="347.4" cy="2035.9" r="2.7" class="b1"/>
<circle cx="393" cy="2025.9" r="2.9" class="p3"/>
<circle cx="421.2" cy="1990.8" r="2.8" class="p3"/>
<circle cx="520.3" cy="2115.8" r="2.6" class="p2"/>
<circle cx="401" cy="1973.8" r="2.6" class="p1"/>
<circle cx="309.6" cy="2063.1" r="2.8" class="p3"/>
<circle cx="353.6" cy="2108.4" r="3" class="p2"/>
<circle cx="427.2" cy="2011.7" r="2.7" class="p1"/>
<circle cx="364.4" cy="2014.4" r="3" class="p4"/>
<circle cx="480.9" cy="2121.3" r="2.8" class="p3"/>
<circle cx="470" cy="2060.5" r="2.6" class="p4"/>
<circle cx="457.3" cy="2128.5" r="2.7" class="p3"/>
<circle cx="476" cy="2076.9" r="2.5" class="p3"/>
<circle cx="402.7" cy="1952.5" r="2.6" class="p3"/>
<circle cx="294.8" cy="2130.3" r="2.9" class="p1"/>
<circle cx="425.2" cy="2094.3" r="2.8" class="p3"/>
<circle cx="378.2" cy="2155.7" r="2.7" class="p4"/>
<circle cx="483" cy="2019.8" r="2.6" class="p3"/>
<circle cx="433.2" cy="2026.8" r="2.5" class="p4"/>
<circle cx="461.3" cy="2061.8" r="2.6" class="p1"/>
<circle cx="336.9" cy="2003.4" r="2.6" class="p1"/>
<circle cx="411.1" cy="2081.3" r="3.1" class="p1"/>
<circle cx="322.8" cy="2077.3" r="2.9" class="p3"/>
<circle cx="466.4" cy="2053.1" r="3" class="p4"/>
<circle cx="320.3" cy="2018.8" r="2.8" class="p4"/>
<circle cx="516.2" cy="2151.9" r="3" class="p2"/>
<circle cx="402" cy="1948.5" r="2.5" class="p1"/>
<circle cx="483.9" cy="2013.1" r="3" class="p4"/>
<circle cx="376.3" cy="2088.3" r="2.7" class="p4"/>
<circle cx="495.4" cy="1975.1" r="3.1" class="p1"/>
<circle cx="477.3" cy="1964.5" r="2.7" class="p3"/>
<circle cx="400.2" cy="2034.1" r="3" class="p3"/>
<circle cx="514.4" cy="2073.9" r="2.8" class="p3"/>
<circle cx="392.7" cy="2091.6" r="3" class="p2"/>
<circle cx="370.9" cy="2046" r="2.6" class="p3"/>
<circle cx="314.9" cy="2015.7" r="2.6" class="p1"/>
<circle cx="477.4" cy="2062.6" r="2.6" class="p3"/>
<circle cx="507.7" cy="2159" r="2.5" class="p2"/>
<circle cx="435.6" cy="2151.7" r="3" class="p4"/>
</g></g>
<text x="98.1" y="1694.3" class="t">Mock</text><text x="370.7" y="1694.3" class="t">NC</text><text x="101.8" y="1948" class="t">si-P1</text><text x="357.2" y="1948" class="t">si-P2</text>
<path d="M672.8 2070.9V1809H707.8V2070.9" class="bar"/>
<path d="M691.4 1809V1788.6M687.8 1788.6h7.2" class="eb"/>
<path d="M762 2070.9V1821.5H796.6V2070.9" class="bar"/>
<path d="M780.6 1821.5V1802.9M777 1802.9h7.2" class="eb"/>
<path d="M852 2070.9V1933.3H886.2V2070.9" class="bar"/>
<path d="M868.6 1933.3V1919.3M865 1919.3h7.2" class="eb"/>
<path d="M940.5 2070.9V1942.4H975.6V2070.9" class="bar"/>
<path d="M959 1942.4V1924.3M955.4 1924.3h7.2" class="eb"/>
<path d="M645.3 1744.8V2070.9H1005.5" class="axb"/>
<path d="M645.3 2068.7h7.5v4.5h-7.5zM645.3 2036.1h7.5v4.5h-7.5zM645.3 2003.5h7.5v4.5h-7.5zM645.3 1970.9h7.5v4.5h-7.5zM645.3 1938.2h7.5v4.5h-7.5zM645.3 1905.7h7.5v4.5h-7.5zM645.3 1873.1h7.5v4.5h-7.5zM645.3 1840.5h7.5v4.5h-7.5zM645.3 1807.9h7.5v4.5h-7.5zM645.3 1775.2h7.5v4.5h-7.5zM645.3 1742.7h7.5v4.5h-7.5zM733.1 2063.9h5v7h-5zM821.6 2063.9h5v7h-5zM910.5 2063.9h5v7h-5zM1000.7 2063.9h5v7h-5z" fill="#000"/>
<text x="618.9" y="2078.8" class="t">0</text>
<text x="598.7" y="2018.5" class="t">10</text>
<text x="598.7" y="1953.3" class="t">20</text>
<text x="598.7" y="1888.2" class="t">30</text>
<text x="598.7" y="1823" class="t">40</text>
<text x="598.7" y="1757.8" class="t">50</text>
<text x="652.4" y="2110" class="t">Mock</text>
<text x="758.3" y="2110" class="t">NC</text>
<text x="837.4" y="2110" class="t">si-P1</text>
<text x="940.6" y="2110" class="t">si-P2</text>
<text x="870.5" y="1916.7" class="astb" text-anchor="middle">*</text>
<text x="958.6" y="1919.3" class="astb" text-anchor="middle">*</text>
<text transform="translate(586 2074.7) rotate(-90)" class="t">EdU labeled cells %</text>
<path d="M1207.9 2099.6V1955.9H1244.3V2099.6" class="bard"/>
<path d="M1206.9 1955.9H1245.3" class="bartop"/>
<path d="M1302.3 2099.6V1792.5H1338.7V2099.6" class="bard"/>
<path d="M1301.3 1792.5H1339.7" class="bartop"/>
<path d="M1320.6 1792.5V1770.9" class="ebd"/>
<rect x="1318.2" y="1768.9" width="4.8" height="4" fill="#000"/>
<path d="M1396.6 2099.6V1943.4H1432.2V2099.6" class="bard"/>
<path d="M1395.6 1943.4H1433.2" class="bartop"/>
<path d="M1414.6 1943.4V1924.1" class="ebd"/>
<rect x="1412.2" y="1922.1" width="4.8" height="4" fill="#000"/>
<path d="M1491.3 2099.6V1990H1526.9V2099.6" class="bard"/>
<path d="M1490.3 1990H1527.9" class="bartop"/>
<path d="M1508.6 1990V1973" class="ebd"/>
<rect x="1506.2" y="1971" width="4.8" height="4" fill="#000"/>
<path d="M1179.4 1737.1V2099.6" class="axd"/>
<path d="M1178.6 2099.6H1556.7" class="axdx"/>
<path d="M1179.4 2024.3h4.7v7h-4.7zM1179.4 1952.6h4.7v7h-4.7zM1179.4 1880.8h4.7v7h-4.7zM1179.4 1809.1h4.7v7h-4.7zM1179.4 1737.3h4.7v7h-4.7zM1272.1 2089.6h2.8v9h-2.8zM1366 2089.6h2.8v9h-2.8zM1460.1 2089.6h2.8v9h-2.8zM1553.9 2089.6h2.8v9h-2.8z" fill="#000"/>
<text x="1116.9" y="1757.5" class="t">2.5</text>
<text x="1113.6" y="1826.5" class="t">2.0</text>
<text x="1116.5" y="1896.9" class="t">1.5</text>
<text x="1116.4" y="1968.7" class="t">1.0</text>
<text x="1116.5" y="2040.4" class="t">0.5</text>
<text x="1140" y="2104.9" class="n0">0</text>
<text x="1180.5" y="2140.3" class="nd">G0/G1</text>
<text x="1305.9" y="2140.3" class="nd">S</text>
<text x="1393.8" y="2140.3" class="nd">G2</text>
<text x="1493.9" y="2140.3" class="nd">M</text>
<text x="1321.8" y="1769.6" class="ast" text-anchor="middle">*</text>
<text transform="translate(1105 2167.5) rotate(-90)" class="nd2">Relative PANDAR level to actin</text>
</svg>
</body></html>
